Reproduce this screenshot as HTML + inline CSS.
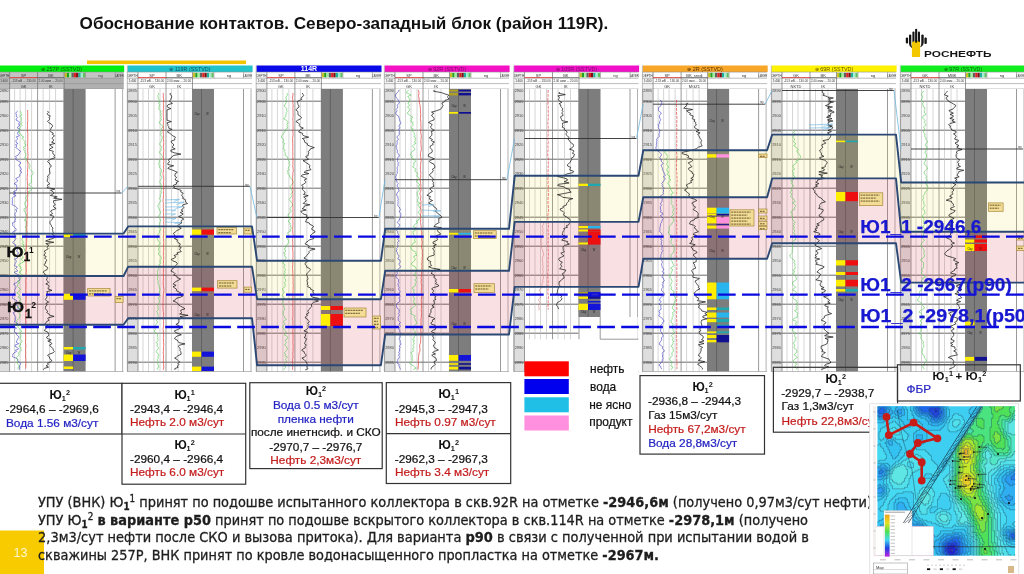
<!DOCTYPE html>
<html><head><meta charset="utf-8"><title>Обоснование контактов</title>
<style>
html,body{margin:0;padding:0;background:#fff;}
body{width:1024px;height:574px;position:relative;overflow:hidden;font-family:"Liberation Sans",sans-serif;}
.abs{position:absolute;}
svg text{font-family:"Liberation Sans",sans-serif;}
</style></head><body>
<svg class="abs" style="left:0;top:0" width="1024" height="574" viewBox="0 0 1024 574">
<text x="79.6" y="28.6" font-size="17.16" font-weight="bold" fill="#111">Обоснование контактов. Северо-западный блок (район 119R).</text>
<rect x="87" y="60.5" width="159" height="3.6" fill="#f5c400"/>
<rect x="-0.8" y="65.5" width="125" height="6.6" fill="#00ee10" />
<text x="61.6" y="71.1" font-size="5.4" fill="#106010" text-anchor="middle" font-weight="normal">&#8853; 257P (SSTVD)</text>
<rect x="-1.4" y="72.1" width="125" height="17" fill="#c4c4c4" />
<rect x="64.1" y="78.3" width="59.5" height="10.7" fill="#b0b0b0" />
<rect x="-1.4" y="72.1" width="11" height="17" fill="#bdbdbd" />
<rect x="115.1" y="72.1" width="8.5" height="6" fill="#bdbdbd" />
<rect x="64.6" y="72.8" width="2.3" height="4.6" fill="#c8c020" />
<rect x="66.9" y="72.8" width="2.3" height="4.6" fill="#20a020" />
<rect x="69.2" y="72.8" width="2.3" height="4.6" fill="#a0f0a0" />
<rect x="71.5" y="72.8" width="2.3" height="4.6" fill="#606060" />
<rect x="73.8" y="72.8" width="2.3" height="4.6" fill="#e02020" />
<rect x="76.1" y="72.8" width="2.3" height="4.6" fill="#801010" />
<rect x="78.4" y="72.8" width="2.3" height="4.6" fill="#20b0a0" />
<rect x="80.7" y="72.8" width="2.3" height="4.6" fill="#a0f0d0" />
<rect x="83" y="72.8" width="2.3" height="4.6" fill="#60c060" />
<line x1="-1.4" y1="72.1" x2="123.6" y2="72.1" stroke="#909090" stroke-width="0.6" />
<line x1="-1.4" y1="78.2" x2="123.6" y2="78.2" stroke="#909090" stroke-width="0.6" />
<line x1="-1.4" y1="83.6" x2="123.6" y2="83.6" stroke="#909090" stroke-width="0.6" />
<line x1="-1.4" y1="89" x2="123.6" y2="89" stroke="#909090" stroke-width="0.6" />
<line x1="9.6" y1="72.1" x2="9.6" y2="89" stroke="#707070" stroke-width="0.7" />
<line x1="37.6" y1="72.1" x2="37.6" y2="89" stroke="#707070" stroke-width="0.7" />
<line x1="64.1" y1="72.1" x2="64.1" y2="89" stroke="#707070" stroke-width="0.7" />
<line x1="85.6" y1="72.1" x2="85.6" y2="78.2" stroke="#909090" stroke-width="0.6" />
<line x1="115.1" y1="72.1" x2="115.1" y2="78.2" stroke="#909090" stroke-width="0.6" />
<line x1="9.6" y1="77.6" x2="37.6" y2="77.6" stroke="#e04040" stroke-width="0.9" />
<line x1="37.6" y1="77.6" x2="64.1" y2="77.6" stroke="#404040" stroke-width="0.6" />
<text x="23.6" y="76.6" font-size="4" fill="#333" text-anchor="middle">SP</text>
<text x="50.9" y="76.6" font-size="4" fill="#333" text-anchor="middle">BK</text>
<text x="23.6" y="87.6" font-size="4" fill="#333" text-anchor="middle">GK</text>
<text x="50.9" y="87.6" font-size="4" fill="#333" text-anchor="middle">IK</text>
<text x="4.1" y="76.6" font-size="3" fill="#333" text-anchor="middle">DEPTH</text>
<text x="4.1" y="82.4" font-size="3" fill="#333" text-anchor="middle">1:400</text>
<text x="23.6" y="82.4" font-size="3" fill="#333" text-anchor="middle">-153 мВ ... 130.00</text>
<text x="50.6" y="82.4" font-size="3" fill="#333" text-anchor="middle">2.00 омм ... 20.00</text>
<text x="100.6" y="76.6" font-size="4" fill="#333" text-anchor="middle">ng</text>
<text x="119.4" y="76.6" font-size="2.8" fill="#333" text-anchor="middle">LAYER</text>
<rect x="-1.4" y="89" width="125" height="282.5" fill="#ffffff" />
<rect x="-1.4" y="89" width="11" height="282.5" fill="#dedede" />
<line x1="-0.8" y1="89" x2="-0.8" y2="371.5" stroke="#909090" stroke-width="0.8" />
<text x="4.1" y="92.4" font-size="3.9" fill="#444" text-anchor="middle">2890</text>
<text x="4.1" y="102.6" font-size="3.9" fill="#444" text-anchor="middle">2895</text>
<text x="4.1" y="117.1" font-size="3.9" fill="#444" text-anchor="middle">2900</text>
<text x="4.1" y="131.6" font-size="3.9" fill="#444" text-anchor="middle">2905</text>
<text x="4.1" y="146.1" font-size="3.9" fill="#444" text-anchor="middle">2910</text>
<text x="4.1" y="160.6" font-size="3.9" fill="#444" text-anchor="middle">2915</text>
<text x="4.1" y="175.1" font-size="3.9" fill="#444" text-anchor="middle">2920</text>
<text x="4.1" y="189.6" font-size="3.9" fill="#444" text-anchor="middle">2925</text>
<text x="4.1" y="204.1" font-size="3.9" fill="#444" text-anchor="middle">2930</text>
<text x="4.1" y="218.6" font-size="3.9" fill="#444" text-anchor="middle">2935</text>
<text x="4.1" y="233.1" font-size="3.9" fill="#444" text-anchor="middle">2940</text>
<text x="4.1" y="247.6" font-size="3.9" fill="#444" text-anchor="middle">2945</text>
<text x="4.1" y="262.1" font-size="3.9" fill="#444" text-anchor="middle">2950</text>
<text x="4.1" y="276.6" font-size="3.9" fill="#444" text-anchor="middle">2955</text>
<text x="4.1" y="291.1" font-size="3.9" fill="#444" text-anchor="middle">2960</text>
<text x="4.1" y="305.6" font-size="3.9" fill="#444" text-anchor="middle">2965</text>
<text x="4.1" y="320.1" font-size="3.9" fill="#444" text-anchor="middle">2970</text>
<text x="4.1" y="334.6" font-size="3.9" fill="#444" text-anchor="middle">2975</text>
<text x="4.1" y="349.1" font-size="3.9" fill="#444" text-anchor="middle">2980</text>
<text x="4.1" y="363.6" font-size="3.9" fill="#444" text-anchor="middle">2985</text>
<line x1="-0.9" y1="101.2" x2="63.6" y2="101.2" stroke="#5a5a5a" stroke-width="0.9" />
<line x1="-0.9" y1="130.2" x2="63.6" y2="130.2" stroke="#5a5a5a" stroke-width="0.9" />
<line x1="-0.9" y1="159.2" x2="63.6" y2="159.2" stroke="#5a5a5a" stroke-width="0.9" />
<line x1="-0.9" y1="188.2" x2="63.6" y2="188.2" stroke="#5a5a5a" stroke-width="0.9" />
<line x1="-0.9" y1="217.2" x2="63.6" y2="217.2" stroke="#5a5a5a" stroke-width="0.9" />
<line x1="-0.9" y1="246.2" x2="63.6" y2="246.2" stroke="#5a5a5a" stroke-width="0.9" />
<line x1="-0.9" y1="275.2" x2="63.6" y2="275.2" stroke="#5a5a5a" stroke-width="0.9" />
<line x1="-0.9" y1="304.2" x2="63.6" y2="304.2" stroke="#5a5a5a" stroke-width="0.9" />
<line x1="-0.9" y1="333.2" x2="63.6" y2="333.2" stroke="#5a5a5a" stroke-width="0.9" />
<line x1="-0.9" y1="362.2" x2="63.6" y2="362.2" stroke="#5a5a5a" stroke-width="0.9" />
<line x1="14.6" y1="89" x2="14.6" y2="371.5" stroke="#b8b8b8" stroke-width="0.6" />
<line x1="20.1" y1="89" x2="20.1" y2="371.5" stroke="#b8b8b8" stroke-width="0.6" />
<line x1="25.6" y1="89" x2="25.6" y2="371.5" stroke="#b8b8b8" stroke-width="0.6" />
<line x1="31.6" y1="89" x2="31.6" y2="371.5" stroke="#b8b8b8" stroke-width="0.6" />
<line x1="43.1" y1="89" x2="43.1" y2="371.5" stroke="#b8b8b8" stroke-width="0.6" />
<line x1="49.6" y1="89" x2="49.6" y2="371.5" stroke="#b8b8b8" stroke-width="0.6" />
<line x1="55.6" y1="89" x2="55.6" y2="371.5" stroke="#b8b8b8" stroke-width="0.6" />
<line x1="9.6" y1="89" x2="9.6" y2="371.5" stroke="#808080" stroke-width="0.8" />
<line x1="37.6" y1="89" x2="37.6" y2="371.5" stroke="#808080" stroke-width="0.8" />
<line x1="64.1" y1="89" x2="64.1" y2="371.5" stroke="#808080" stroke-width="0.8" />
<line x1="115.1" y1="89" x2="115.1" y2="371.5" stroke="#808080" stroke-width="0.8" />
<line x1="122.6" y1="89" x2="122.6" y2="371.5" stroke="#909090" stroke-width="0.7" />
<line x1="-1.1" y1="65.5" x2="-1.1" y2="371.5" stroke="#9a9a9a" stroke-width="0.6" />
<rect x="63.6" y="89" width="22" height="282.5" fill="#7d7d7d" />
<line x1="73.1" y1="89" x2="73.1" y2="371.5" stroke="#5e5e5e" stroke-width="0.9" />
<line x1="-1.4" y1="371.5" x2="123.6" y2="371.5" stroke="#909090" stroke-width="0.6" />
<rect x="127.6" y="65.5" width="125" height="6.6" fill="#22c4cc" />
<text x="190" y="71.1" font-size="5.4" fill="#105060" text-anchor="middle" font-weight="normal">&#8853; 119R (SSTVD)</text>
<rect x="127" y="72.1" width="125" height="17" fill="#ffffff" />
<rect x="127" y="72.1" width="11" height="17" fill="#f4f4f4" />
<rect x="243.5" y="72.1" width="8.5" height="6" fill="#f4f4f4" />
<rect x="193" y="72.8" width="2.3" height="4.6" fill="#c8c020" />
<rect x="195.3" y="72.8" width="2.3" height="4.6" fill="#20a020" />
<rect x="197.6" y="72.8" width="2.3" height="4.6" fill="#a0f0a0" />
<rect x="199.9" y="72.8" width="2.3" height="4.6" fill="#606060" />
<rect x="202.2" y="72.8" width="2.3" height="4.6" fill="#e02020" />
<rect x="204.5" y="72.8" width="2.3" height="4.6" fill="#801010" />
<rect x="206.8" y="72.8" width="2.3" height="4.6" fill="#20b0a0" />
<rect x="209.1" y="72.8" width="2.3" height="4.6" fill="#a0f0d0" />
<rect x="211.4" y="72.8" width="2.3" height="4.6" fill="#60c060" />
<line x1="127" y1="72.1" x2="252" y2="72.1" stroke="#909090" stroke-width="0.6" />
<line x1="127" y1="78.2" x2="252" y2="78.2" stroke="#909090" stroke-width="0.6" />
<line x1="127" y1="83.6" x2="252" y2="83.6" stroke="#909090" stroke-width="0.6" />
<line x1="127" y1="89" x2="252" y2="89" stroke="#909090" stroke-width="0.6" />
<line x1="138" y1="72.1" x2="138" y2="89" stroke="#707070" stroke-width="0.7" />
<line x1="166" y1="72.1" x2="166" y2="89" stroke="#707070" stroke-width="0.7" />
<line x1="192.5" y1="72.1" x2="192.5" y2="89" stroke="#707070" stroke-width="0.7" />
<line x1="214" y1="72.1" x2="214" y2="78.2" stroke="#909090" stroke-width="0.6" />
<line x1="243.5" y1="72.1" x2="243.5" y2="78.2" stroke="#909090" stroke-width="0.6" />
<line x1="138" y1="77.6" x2="166" y2="77.6" stroke="#e04040" stroke-width="0.9" />
<line x1="166" y1="77.6" x2="192.5" y2="77.6" stroke="#404040" stroke-width="0.6" />
<text x="152" y="76.6" font-size="4" fill="#333" text-anchor="middle">SP</text>
<text x="179.2" y="76.6" font-size="4" fill="#333" text-anchor="middle">BK</text>
<text x="152" y="87.6" font-size="4" fill="#333" text-anchor="middle">GK</text>
<text x="179.2" y="87.6" font-size="4" fill="#333" text-anchor="middle">IK</text>
<text x="132.5" y="76.6" font-size="3" fill="#333" text-anchor="middle">DEPTH</text>
<text x="132.5" y="82.4" font-size="3" fill="#333" text-anchor="middle">1:400</text>
<text x="152" y="82.4" font-size="3" fill="#333" text-anchor="middle">-153 мВ ... 130.00</text>
<text x="179" y="82.4" font-size="3" fill="#333" text-anchor="middle">2.00 омм ... 20.00</text>
<text x="229" y="76.6" font-size="4" fill="#333" text-anchor="middle">ng</text>
<text x="247.8" y="76.6" font-size="2.8" fill="#333" text-anchor="middle">LAYER</text>
<rect x="127" y="89" width="125" height="282.5" fill="#ffffff" />
<rect x="127" y="89" width="11" height="282.5" fill="#dedede" />
<line x1="127.6" y1="89" x2="127.6" y2="371.5" stroke="#909090" stroke-width="0.8" />
<text x="132.5" y="92.4" font-size="3.9" fill="#444" text-anchor="middle">2895</text>
<text x="132.5" y="102.6" font-size="3.9" fill="#444" text-anchor="middle">2900</text>
<text x="132.5" y="117.1" font-size="3.9" fill="#444" text-anchor="middle">2905</text>
<text x="132.5" y="131.6" font-size="3.9" fill="#444" text-anchor="middle">2910</text>
<text x="132.5" y="146.1" font-size="3.9" fill="#444" text-anchor="middle">2915</text>
<text x="132.5" y="160.6" font-size="3.9" fill="#444" text-anchor="middle">2920</text>
<text x="132.5" y="175.1" font-size="3.9" fill="#444" text-anchor="middle">2925</text>
<text x="132.5" y="189.6" font-size="3.9" fill="#444" text-anchor="middle">2930</text>
<text x="132.5" y="204.1" font-size="3.9" fill="#444" text-anchor="middle">2935</text>
<text x="132.5" y="218.6" font-size="3.9" fill="#444" text-anchor="middle">2940</text>
<text x="132.5" y="233.1" font-size="3.9" fill="#444" text-anchor="middle">2945</text>
<text x="132.5" y="247.6" font-size="3.9" fill="#444" text-anchor="middle">2950</text>
<text x="132.5" y="262.1" font-size="3.9" fill="#444" text-anchor="middle">2955</text>
<text x="132.5" y="276.6" font-size="3.9" fill="#444" text-anchor="middle">2960</text>
<text x="132.5" y="291.1" font-size="3.9" fill="#444" text-anchor="middle">2965</text>
<text x="132.5" y="305.6" font-size="3.9" fill="#444" text-anchor="middle">2970</text>
<text x="132.5" y="320.1" font-size="3.9" fill="#444" text-anchor="middle">2975</text>
<text x="132.5" y="334.6" font-size="3.9" fill="#444" text-anchor="middle">2980</text>
<text x="132.5" y="349.1" font-size="3.9" fill="#444" text-anchor="middle">2985</text>
<text x="132.5" y="363.6" font-size="3.9" fill="#444" text-anchor="middle">2990</text>
<line x1="127.5" y1="101.2" x2="192" y2="101.2" stroke="#5a5a5a" stroke-width="0.9" />
<line x1="127.5" y1="130.2" x2="192" y2="130.2" stroke="#5a5a5a" stroke-width="0.9" />
<line x1="127.5" y1="159.2" x2="192" y2="159.2" stroke="#5a5a5a" stroke-width="0.9" />
<line x1="127.5" y1="188.2" x2="192" y2="188.2" stroke="#5a5a5a" stroke-width="0.9" />
<line x1="127.5" y1="217.2" x2="192" y2="217.2" stroke="#5a5a5a" stroke-width="0.9" />
<line x1="127.5" y1="246.2" x2="192" y2="246.2" stroke="#5a5a5a" stroke-width="0.9" />
<line x1="127.5" y1="275.2" x2="192" y2="275.2" stroke="#5a5a5a" stroke-width="0.9" />
<line x1="127.5" y1="304.2" x2="192" y2="304.2" stroke="#5a5a5a" stroke-width="0.9" />
<line x1="127.5" y1="333.2" x2="192" y2="333.2" stroke="#5a5a5a" stroke-width="0.9" />
<line x1="127.5" y1="362.2" x2="192" y2="362.2" stroke="#5a5a5a" stroke-width="0.9" />
<line x1="143" y1="89" x2="143" y2="371.5" stroke="#b8b8b8" stroke-width="0.6" />
<line x1="148.5" y1="89" x2="148.5" y2="371.5" stroke="#b8b8b8" stroke-width="0.6" />
<line x1="154" y1="89" x2="154" y2="371.5" stroke="#b8b8b8" stroke-width="0.6" />
<line x1="160" y1="89" x2="160" y2="371.5" stroke="#b8b8b8" stroke-width="0.6" />
<line x1="171.5" y1="89" x2="171.5" y2="371.5" stroke="#b8b8b8" stroke-width="0.6" />
<line x1="178" y1="89" x2="178" y2="371.5" stroke="#b8b8b8" stroke-width="0.6" />
<line x1="184" y1="89" x2="184" y2="371.5" stroke="#b8b8b8" stroke-width="0.6" />
<line x1="138" y1="89" x2="138" y2="371.5" stroke="#808080" stroke-width="0.8" />
<line x1="166" y1="89" x2="166" y2="371.5" stroke="#808080" stroke-width="0.8" />
<line x1="192.5" y1="89" x2="192.5" y2="371.5" stroke="#808080" stroke-width="0.8" />
<line x1="243.5" y1="89" x2="243.5" y2="371.5" stroke="#808080" stroke-width="0.8" />
<line x1="251" y1="89" x2="251" y2="371.5" stroke="#909090" stroke-width="0.7" />
<line x1="127.3" y1="65.5" x2="127.3" y2="371.5" stroke="#9a9a9a" stroke-width="0.6" />
<rect x="192" y="89" width="22" height="282.5" fill="#7d7d7d" />
<line x1="201.5" y1="89" x2="201.5" y2="371.5" stroke="#5e5e5e" stroke-width="0.9" />
<line x1="127" y1="371.5" x2="252" y2="371.5" stroke="#909090" stroke-width="0.6" />
<rect x="256.5" y="65.5" width="125" height="6.6" fill="#0808e8" />
<text x="309" y="71.4" font-size="7.0" fill="#ffffff" text-anchor="middle" font-weight="bold">114R</text>
<rect x="255.9" y="72.1" width="125" height="17" fill="#ffffff" />
<rect x="255.9" y="72.1" width="11" height="17" fill="#f4f4f4" />
<rect x="372.4" y="72.1" width="8.5" height="6" fill="#f4f4f4" />
<rect x="321.9" y="72.8" width="2.3" height="4.6" fill="#c8c020" />
<rect x="324.2" y="72.8" width="2.3" height="4.6" fill="#20a020" />
<rect x="326.5" y="72.8" width="2.3" height="4.6" fill="#a0f0a0" />
<rect x="328.8" y="72.8" width="2.3" height="4.6" fill="#606060" />
<rect x="331.1" y="72.8" width="2.3" height="4.6" fill="#e02020" />
<rect x="333.4" y="72.8" width="2.3" height="4.6" fill="#801010" />
<rect x="335.7" y="72.8" width="2.3" height="4.6" fill="#20b0a0" />
<rect x="338" y="72.8" width="2.3" height="4.6" fill="#a0f0d0" />
<rect x="340.3" y="72.8" width="2.3" height="4.6" fill="#60c060" />
<line x1="255.9" y1="72.1" x2="380.9" y2="72.1" stroke="#909090" stroke-width="0.6" />
<line x1="255.9" y1="78.2" x2="380.9" y2="78.2" stroke="#909090" stroke-width="0.6" />
<line x1="255.9" y1="83.6" x2="380.9" y2="83.6" stroke="#909090" stroke-width="0.6" />
<line x1="255.9" y1="89" x2="380.9" y2="89" stroke="#909090" stroke-width="0.6" />
<line x1="266.9" y1="72.1" x2="266.9" y2="89" stroke="#707070" stroke-width="0.7" />
<line x1="294.9" y1="72.1" x2="294.9" y2="89" stroke="#707070" stroke-width="0.7" />
<line x1="321.4" y1="72.1" x2="321.4" y2="89" stroke="#707070" stroke-width="0.7" />
<line x1="342.9" y1="72.1" x2="342.9" y2="78.2" stroke="#909090" stroke-width="0.6" />
<line x1="372.4" y1="72.1" x2="372.4" y2="78.2" stroke="#909090" stroke-width="0.6" />
<line x1="266.9" y1="77.6" x2="294.9" y2="77.6" stroke="#e04040" stroke-width="0.9" />
<line x1="294.9" y1="77.6" x2="321.4" y2="77.6" stroke="#404040" stroke-width="0.6" />
<text x="280.9" y="76.6" font-size="4" fill="#333" text-anchor="middle">SP</text>
<text x="308.1" y="76.6" font-size="4" fill="#333" text-anchor="middle">BK</text>
<text x="280.9" y="87.6" font-size="4" fill="#333" text-anchor="middle">GK</text>
<text x="308.1" y="87.6" font-size="4" fill="#333" text-anchor="middle">IK</text>
<text x="261.4" y="76.6" font-size="3" fill="#333" text-anchor="middle">DEPTH</text>
<text x="261.4" y="82.4" font-size="3" fill="#333" text-anchor="middle">1:400</text>
<text x="280.9" y="82.4" font-size="3" fill="#333" text-anchor="middle">-153 мВ ... 130.00</text>
<text x="307.9" y="82.4" font-size="3" fill="#333" text-anchor="middle">2.00 омм ... 20.00</text>
<text x="357.9" y="76.6" font-size="4" fill="#333" text-anchor="middle">ng</text>
<text x="376.7" y="76.6" font-size="2.8" fill="#333" text-anchor="middle">LAYER</text>
<rect x="255.9" y="89" width="125" height="282.5" fill="#ffffff" />
<rect x="255.9" y="89" width="11" height="282.5" fill="#dedede" />
<line x1="256.5" y1="89" x2="256.5" y2="371.5" stroke="#909090" stroke-width="0.8" />
<text x="261.4" y="92.4" font-size="3.9" fill="#444" text-anchor="middle">2900</text>
<text x="261.4" y="102.6" font-size="3.9" fill="#444" text-anchor="middle">2905</text>
<text x="261.4" y="117.1" font-size="3.9" fill="#444" text-anchor="middle">2910</text>
<text x="261.4" y="131.6" font-size="3.9" fill="#444" text-anchor="middle">2915</text>
<text x="261.4" y="146.1" font-size="3.9" fill="#444" text-anchor="middle">2920</text>
<text x="261.4" y="160.6" font-size="3.9" fill="#444" text-anchor="middle">2925</text>
<text x="261.4" y="175.1" font-size="3.9" fill="#444" text-anchor="middle">2930</text>
<text x="261.4" y="189.6" font-size="3.9" fill="#444" text-anchor="middle">2935</text>
<text x="261.4" y="204.1" font-size="3.9" fill="#444" text-anchor="middle">2940</text>
<text x="261.4" y="218.6" font-size="3.9" fill="#444" text-anchor="middle">2945</text>
<text x="261.4" y="233.1" font-size="3.9" fill="#444" text-anchor="middle">2950</text>
<text x="261.4" y="247.6" font-size="3.9" fill="#444" text-anchor="middle">2955</text>
<text x="261.4" y="262.1" font-size="3.9" fill="#444" text-anchor="middle">2960</text>
<text x="261.4" y="276.6" font-size="3.9" fill="#444" text-anchor="middle">2965</text>
<text x="261.4" y="291.1" font-size="3.9" fill="#444" text-anchor="middle">2970</text>
<text x="261.4" y="305.6" font-size="3.9" fill="#444" text-anchor="middle">2975</text>
<text x="261.4" y="320.1" font-size="3.9" fill="#444" text-anchor="middle">2980</text>
<text x="261.4" y="334.6" font-size="3.9" fill="#444" text-anchor="middle">2985</text>
<text x="261.4" y="349.1" font-size="3.9" fill="#444" text-anchor="middle">2990</text>
<text x="261.4" y="363.6" font-size="3.9" fill="#444" text-anchor="middle">2995</text>
<line x1="256.4" y1="101.2" x2="320.9" y2="101.2" stroke="#5a5a5a" stroke-width="0.9" />
<line x1="256.4" y1="130.2" x2="320.9" y2="130.2" stroke="#5a5a5a" stroke-width="0.9" />
<line x1="256.4" y1="159.2" x2="320.9" y2="159.2" stroke="#5a5a5a" stroke-width="0.9" />
<line x1="256.4" y1="188.2" x2="320.9" y2="188.2" stroke="#5a5a5a" stroke-width="0.9" />
<line x1="256.4" y1="217.2" x2="320.9" y2="217.2" stroke="#5a5a5a" stroke-width="0.9" />
<line x1="256.4" y1="246.2" x2="320.9" y2="246.2" stroke="#5a5a5a" stroke-width="0.9" />
<line x1="256.4" y1="275.2" x2="320.9" y2="275.2" stroke="#5a5a5a" stroke-width="0.9" />
<line x1="256.4" y1="304.2" x2="320.9" y2="304.2" stroke="#5a5a5a" stroke-width="0.9" />
<line x1="256.4" y1="333.2" x2="320.9" y2="333.2" stroke="#5a5a5a" stroke-width="0.9" />
<line x1="256.4" y1="362.2" x2="320.9" y2="362.2" stroke="#5a5a5a" stroke-width="0.9" />
<line x1="271.9" y1="89" x2="271.9" y2="371.5" stroke="#b8b8b8" stroke-width="0.6" />
<line x1="277.4" y1="89" x2="277.4" y2="371.5" stroke="#b8b8b8" stroke-width="0.6" />
<line x1="282.9" y1="89" x2="282.9" y2="371.5" stroke="#b8b8b8" stroke-width="0.6" />
<line x1="288.9" y1="89" x2="288.9" y2="371.5" stroke="#b8b8b8" stroke-width="0.6" />
<line x1="300.4" y1="89" x2="300.4" y2="371.5" stroke="#b8b8b8" stroke-width="0.6" />
<line x1="306.9" y1="89" x2="306.9" y2="371.5" stroke="#b8b8b8" stroke-width="0.6" />
<line x1="312.9" y1="89" x2="312.9" y2="371.5" stroke="#b8b8b8" stroke-width="0.6" />
<line x1="266.9" y1="89" x2="266.9" y2="371.5" stroke="#808080" stroke-width="0.8" />
<line x1="294.9" y1="89" x2="294.9" y2="371.5" stroke="#808080" stroke-width="0.8" />
<line x1="321.4" y1="89" x2="321.4" y2="371.5" stroke="#808080" stroke-width="0.8" />
<line x1="372.4" y1="89" x2="372.4" y2="371.5" stroke="#808080" stroke-width="0.8" />
<line x1="379.9" y1="89" x2="379.9" y2="371.5" stroke="#909090" stroke-width="0.7" />
<line x1="256.2" y1="65.5" x2="256.2" y2="371.5" stroke="#9a9a9a" stroke-width="0.6" />
<rect x="320.9" y="89" width="22" height="282.5" fill="#7d7d7d" />
<line x1="330.4" y1="89" x2="330.4" y2="371.5" stroke="#5e5e5e" stroke-width="0.9" />
<line x1="255.9" y1="371.5" x2="380.9" y2="371.5" stroke="#909090" stroke-width="0.6" />
<rect x="384.6" y="65.5" width="125" height="6.6" fill="#f412c4" />
<text x="447" y="71.1" font-size="5.4" fill="#701060" text-anchor="middle" font-weight="normal">&#8853; 92R (SSTVD)</text>
<rect x="384" y="72.1" width="125" height="17" fill="#ffffff" />
<rect x="384" y="72.1" width="11" height="17" fill="#f4f4f4" />
<rect x="500.5" y="72.1" width="8.5" height="6" fill="#f4f4f4" />
<rect x="450" y="72.8" width="2.3" height="4.6" fill="#c8c020" />
<rect x="452.3" y="72.8" width="2.3" height="4.6" fill="#20a020" />
<rect x="454.6" y="72.8" width="2.3" height="4.6" fill="#a0f0a0" />
<rect x="456.9" y="72.8" width="2.3" height="4.6" fill="#606060" />
<rect x="459.2" y="72.8" width="2.3" height="4.6" fill="#e02020" />
<rect x="461.5" y="72.8" width="2.3" height="4.6" fill="#801010" />
<rect x="463.8" y="72.8" width="2.3" height="4.6" fill="#20b0a0" />
<rect x="466.1" y="72.8" width="2.3" height="4.6" fill="#a0f0d0" />
<rect x="468.4" y="72.8" width="2.3" height="4.6" fill="#60c060" />
<line x1="384" y1="72.1" x2="509" y2="72.1" stroke="#909090" stroke-width="0.6" />
<line x1="384" y1="78.2" x2="509" y2="78.2" stroke="#909090" stroke-width="0.6" />
<line x1="384" y1="83.6" x2="509" y2="83.6" stroke="#909090" stroke-width="0.6" />
<line x1="384" y1="89" x2="509" y2="89" stroke="#909090" stroke-width="0.6" />
<line x1="395" y1="72.1" x2="395" y2="89" stroke="#707070" stroke-width="0.7" />
<line x1="423" y1="72.1" x2="423" y2="89" stroke="#707070" stroke-width="0.7" />
<line x1="449.5" y1="72.1" x2="449.5" y2="89" stroke="#707070" stroke-width="0.7" />
<line x1="471" y1="72.1" x2="471" y2="78.2" stroke="#909090" stroke-width="0.6" />
<line x1="500.5" y1="72.1" x2="500.5" y2="78.2" stroke="#909090" stroke-width="0.6" />
<line x1="395" y1="77.6" x2="423" y2="77.6" stroke="#e04040" stroke-width="0.9" />
<line x1="423" y1="77.6" x2="449.5" y2="77.6" stroke="#404040" stroke-width="0.6" />
<text x="409" y="76.6" font-size="4" fill="#333" text-anchor="middle">SP</text>
<text x="436.2" y="76.6" font-size="4" fill="#333" text-anchor="middle">BK</text>
<text x="409" y="87.6" font-size="4" fill="#333" text-anchor="middle">GK</text>
<text x="436.2" y="87.6" font-size="4" fill="#333" text-anchor="middle">IK</text>
<text x="389.5" y="76.6" font-size="3" fill="#333" text-anchor="middle">DEPTH</text>
<text x="389.5" y="82.4" font-size="3" fill="#333" text-anchor="middle">1:400</text>
<text x="409" y="82.4" font-size="3" fill="#333" text-anchor="middle">-153 мВ ... 130.00</text>
<text x="436" y="82.4" font-size="3" fill="#333" text-anchor="middle">2.00 омм ... 20.00</text>
<text x="486" y="76.6" font-size="4" fill="#333" text-anchor="middle">ng</text>
<text x="504.8" y="76.6" font-size="2.8" fill="#333" text-anchor="middle">LAYER</text>
<rect x="384" y="89" width="125" height="282.5" fill="#ffffff" />
<rect x="384" y="89" width="11" height="282.5" fill="#dedede" />
<line x1="384.6" y1="89" x2="384.6" y2="371.5" stroke="#909090" stroke-width="0.8" />
<text x="389.5" y="92.4" font-size="3.9" fill="#444" text-anchor="middle">2890</text>
<text x="389.5" y="102.6" font-size="3.9" fill="#444" text-anchor="middle">2895</text>
<text x="389.5" y="117.1" font-size="3.9" fill="#444" text-anchor="middle">2900</text>
<text x="389.5" y="131.6" font-size="3.9" fill="#444" text-anchor="middle">2905</text>
<text x="389.5" y="146.1" font-size="3.9" fill="#444" text-anchor="middle">2910</text>
<text x="389.5" y="160.6" font-size="3.9" fill="#444" text-anchor="middle">2915</text>
<text x="389.5" y="175.1" font-size="3.9" fill="#444" text-anchor="middle">2920</text>
<text x="389.5" y="189.6" font-size="3.9" fill="#444" text-anchor="middle">2925</text>
<text x="389.5" y="204.1" font-size="3.9" fill="#444" text-anchor="middle">2930</text>
<text x="389.5" y="218.6" font-size="3.9" fill="#444" text-anchor="middle">2935</text>
<text x="389.5" y="233.1" font-size="3.9" fill="#444" text-anchor="middle">2940</text>
<text x="389.5" y="247.6" font-size="3.9" fill="#444" text-anchor="middle">2945</text>
<text x="389.5" y="262.1" font-size="3.9" fill="#444" text-anchor="middle">2950</text>
<text x="389.5" y="276.6" font-size="3.9" fill="#444" text-anchor="middle">2955</text>
<text x="389.5" y="291.1" font-size="3.9" fill="#444" text-anchor="middle">2960</text>
<text x="389.5" y="305.6" font-size="3.9" fill="#444" text-anchor="middle">2965</text>
<text x="389.5" y="320.1" font-size="3.9" fill="#444" text-anchor="middle">2970</text>
<text x="389.5" y="334.6" font-size="3.9" fill="#444" text-anchor="middle">2975</text>
<text x="389.5" y="349.1" font-size="3.9" fill="#444" text-anchor="middle">2980</text>
<text x="389.5" y="363.6" font-size="3.9" fill="#444" text-anchor="middle">2985</text>
<line x1="384.5" y1="101.2" x2="449" y2="101.2" stroke="#5a5a5a" stroke-width="0.9" />
<line x1="384.5" y1="130.2" x2="449" y2="130.2" stroke="#5a5a5a" stroke-width="0.9" />
<line x1="384.5" y1="159.2" x2="449" y2="159.2" stroke="#5a5a5a" stroke-width="0.9" />
<line x1="384.5" y1="188.2" x2="449" y2="188.2" stroke="#5a5a5a" stroke-width="0.9" />
<line x1="384.5" y1="217.2" x2="449" y2="217.2" stroke="#5a5a5a" stroke-width="0.9" />
<line x1="384.5" y1="246.2" x2="449" y2="246.2" stroke="#5a5a5a" stroke-width="0.9" />
<line x1="384.5" y1="275.2" x2="449" y2="275.2" stroke="#5a5a5a" stroke-width="0.9" />
<line x1="384.5" y1="304.2" x2="449" y2="304.2" stroke="#5a5a5a" stroke-width="0.9" />
<line x1="384.5" y1="333.2" x2="449" y2="333.2" stroke="#5a5a5a" stroke-width="0.9" />
<line x1="384.5" y1="362.2" x2="449" y2="362.2" stroke="#5a5a5a" stroke-width="0.9" />
<line x1="400" y1="89" x2="400" y2="371.5" stroke="#b8b8b8" stroke-width="0.6" />
<line x1="405.5" y1="89" x2="405.5" y2="371.5" stroke="#b8b8b8" stroke-width="0.6" />
<line x1="411" y1="89" x2="411" y2="371.5" stroke="#b8b8b8" stroke-width="0.6" />
<line x1="417" y1="89" x2="417" y2="371.5" stroke="#b8b8b8" stroke-width="0.6" />
<line x1="428.5" y1="89" x2="428.5" y2="371.5" stroke="#b8b8b8" stroke-width="0.6" />
<line x1="435" y1="89" x2="435" y2="371.5" stroke="#b8b8b8" stroke-width="0.6" />
<line x1="441" y1="89" x2="441" y2="371.5" stroke="#b8b8b8" stroke-width="0.6" />
<line x1="395" y1="89" x2="395" y2="371.5" stroke="#808080" stroke-width="0.8" />
<line x1="423" y1="89" x2="423" y2="371.5" stroke="#808080" stroke-width="0.8" />
<line x1="449.5" y1="89" x2="449.5" y2="371.5" stroke="#808080" stroke-width="0.8" />
<line x1="500.5" y1="89" x2="500.5" y2="371.5" stroke="#808080" stroke-width="0.8" />
<line x1="508" y1="89" x2="508" y2="371.5" stroke="#909090" stroke-width="0.7" />
<line x1="384.3" y1="65.5" x2="384.3" y2="371.5" stroke="#9a9a9a" stroke-width="0.6" />
<rect x="449" y="89" width="22" height="282.5" fill="#7d7d7d" />
<line x1="458.5" y1="89" x2="458.5" y2="371.5" stroke="#5e5e5e" stroke-width="0.9" />
<line x1="384" y1="371.5" x2="509" y2="371.5" stroke="#909090" stroke-width="0.6" />
<rect x="514.1" y="65.5" width="125" height="6.6" fill="#f010c8" />
<text x="576.5" y="71.1" font-size="5.4" fill="#701060" text-anchor="middle" font-weight="normal">&#8853; 105R (SSTVD)</text>
<rect x="513.5" y="72.1" width="125" height="17" fill="#ffffff" />
<rect x="513.5" y="72.1" width="11" height="17" fill="#f4f4f4" />
<rect x="630" y="72.1" width="8.5" height="6" fill="#f4f4f4" />
<rect x="579.5" y="72.8" width="2.3" height="4.6" fill="#c8c020" />
<rect x="581.8" y="72.8" width="2.3" height="4.6" fill="#20a020" />
<rect x="584.1" y="72.8" width="2.3" height="4.6" fill="#a0f0a0" />
<rect x="586.4" y="72.8" width="2.3" height="4.6" fill="#606060" />
<rect x="588.7" y="72.8" width="2.3" height="4.6" fill="#e02020" />
<rect x="591" y="72.8" width="2.3" height="4.6" fill="#801010" />
<rect x="593.3" y="72.8" width="2.3" height="4.6" fill="#20b0a0" />
<rect x="595.6" y="72.8" width="2.3" height="4.6" fill="#a0f0d0" />
<rect x="597.9" y="72.8" width="2.3" height="4.6" fill="#60c060" />
<line x1="513.5" y1="72.1" x2="638.5" y2="72.1" stroke="#909090" stroke-width="0.6" />
<line x1="513.5" y1="78.2" x2="638.5" y2="78.2" stroke="#909090" stroke-width="0.6" />
<line x1="513.5" y1="83.6" x2="638.5" y2="83.6" stroke="#909090" stroke-width="0.6" />
<line x1="513.5" y1="89" x2="638.5" y2="89" stroke="#909090" stroke-width="0.6" />
<line x1="524.5" y1="72.1" x2="524.5" y2="89" stroke="#707070" stroke-width="0.7" />
<line x1="552.5" y1="72.1" x2="552.5" y2="89" stroke="#707070" stroke-width="0.7" />
<line x1="579" y1="72.1" x2="579" y2="89" stroke="#707070" stroke-width="0.7" />
<line x1="600.5" y1="72.1" x2="600.5" y2="78.2" stroke="#909090" stroke-width="0.6" />
<line x1="630" y1="72.1" x2="630" y2="78.2" stroke="#909090" stroke-width="0.6" />
<line x1="524.5" y1="77.6" x2="552.5" y2="77.6" stroke="#e04040" stroke-width="0.9" />
<line x1="552.5" y1="77.6" x2="579" y2="77.6" stroke="#404040" stroke-width="0.6" />
<text x="538.5" y="76.6" font-size="4" fill="#333" text-anchor="middle">SP</text>
<text x="565.8" y="76.6" font-size="4" fill="#333" text-anchor="middle">BK</text>
<text x="538.5" y="87.6" font-size="4" fill="#333" text-anchor="middle">GK</text>
<text x="565.8" y="87.6" font-size="4" fill="#333" text-anchor="middle">IK</text>
<text x="519" y="76.6" font-size="3" fill="#333" text-anchor="middle">DEPTH</text>
<text x="519" y="82.4" font-size="3" fill="#333" text-anchor="middle">1:400</text>
<text x="538.5" y="82.4" font-size="3" fill="#333" text-anchor="middle">-153 мВ ... 130.00</text>
<text x="565.5" y="82.4" font-size="3" fill="#333" text-anchor="middle">2.00 омм ... 20.00</text>
<text x="615.5" y="76.6" font-size="4" fill="#333" text-anchor="middle">ng</text>
<text x="634.3" y="76.6" font-size="2.8" fill="#333" text-anchor="middle">LAYER</text>
<rect x="513.5" y="89" width="125" height="282.5" fill="#ffffff" />
<rect x="513.5" y="89" width="11" height="282.5" fill="#dedede" />
<line x1="514.1" y1="89" x2="514.1" y2="371.5" stroke="#909090" stroke-width="0.8" />
<text x="519" y="92.4" font-size="3.9" fill="#444" text-anchor="middle">2900</text>
<text x="519" y="102.6" font-size="3.9" fill="#444" text-anchor="middle">2905</text>
<text x="519" y="117.1" font-size="3.9" fill="#444" text-anchor="middle">2910</text>
<text x="519" y="131.6" font-size="3.9" fill="#444" text-anchor="middle">2915</text>
<text x="519" y="146.1" font-size="3.9" fill="#444" text-anchor="middle">2920</text>
<text x="519" y="160.6" font-size="3.9" fill="#444" text-anchor="middle">2925</text>
<text x="519" y="175.1" font-size="3.9" fill="#444" text-anchor="middle">2930</text>
<text x="519" y="189.6" font-size="3.9" fill="#444" text-anchor="middle">2935</text>
<text x="519" y="204.1" font-size="3.9" fill="#444" text-anchor="middle">2940</text>
<text x="519" y="218.6" font-size="3.9" fill="#444" text-anchor="middle">2945</text>
<text x="519" y="233.1" font-size="3.9" fill="#444" text-anchor="middle">2950</text>
<text x="519" y="247.6" font-size="3.9" fill="#444" text-anchor="middle">2955</text>
<text x="519" y="262.1" font-size="3.9" fill="#444" text-anchor="middle">2960</text>
<text x="519" y="276.6" font-size="3.9" fill="#444" text-anchor="middle">2965</text>
<text x="519" y="291.1" font-size="3.9" fill="#444" text-anchor="middle">2970</text>
<text x="519" y="305.6" font-size="3.9" fill="#444" text-anchor="middle">2975</text>
<text x="519" y="320.1" font-size="3.9" fill="#444" text-anchor="middle">2980</text>
<text x="519" y="334.6" font-size="3.9" fill="#444" text-anchor="middle">2985</text>
<text x="519" y="349.1" font-size="3.9" fill="#444" text-anchor="middle">2990</text>
<text x="519" y="363.6" font-size="3.9" fill="#444" text-anchor="middle">2995</text>
<line x1="514" y1="101.2" x2="578.5" y2="101.2" stroke="#5a5a5a" stroke-width="0.9" />
<line x1="514" y1="130.2" x2="578.5" y2="130.2" stroke="#5a5a5a" stroke-width="0.9" />
<line x1="514" y1="159.2" x2="578.5" y2="159.2" stroke="#5a5a5a" stroke-width="0.9" />
<line x1="514" y1="188.2" x2="578.5" y2="188.2" stroke="#5a5a5a" stroke-width="0.9" />
<line x1="514" y1="217.2" x2="578.5" y2="217.2" stroke="#5a5a5a" stroke-width="0.9" />
<line x1="514" y1="246.2" x2="578.5" y2="246.2" stroke="#5a5a5a" stroke-width="0.9" />
<line x1="514" y1="275.2" x2="578.5" y2="275.2" stroke="#5a5a5a" stroke-width="0.9" />
<line x1="514" y1="304.2" x2="578.5" y2="304.2" stroke="#5a5a5a" stroke-width="0.9" />
<line x1="514" y1="333.2" x2="578.5" y2="333.2" stroke="#5a5a5a" stroke-width="0.9" />
<line x1="514" y1="362.2" x2="578.5" y2="362.2" stroke="#5a5a5a" stroke-width="0.9" />
<line x1="529.5" y1="89" x2="529.5" y2="371.5" stroke="#b8b8b8" stroke-width="0.6" />
<line x1="535" y1="89" x2="535" y2="371.5" stroke="#b8b8b8" stroke-width="0.6" />
<line x1="540.5" y1="89" x2="540.5" y2="371.5" stroke="#b8b8b8" stroke-width="0.6" />
<line x1="546.5" y1="89" x2="546.5" y2="371.5" stroke="#b8b8b8" stroke-width="0.6" />
<line x1="558" y1="89" x2="558" y2="371.5" stroke="#b8b8b8" stroke-width="0.6" />
<line x1="564.5" y1="89" x2="564.5" y2="371.5" stroke="#b8b8b8" stroke-width="0.6" />
<line x1="570.5" y1="89" x2="570.5" y2="371.5" stroke="#b8b8b8" stroke-width="0.6" />
<line x1="524.5" y1="89" x2="524.5" y2="371.5" stroke="#808080" stroke-width="0.8" />
<line x1="552.5" y1="89" x2="552.5" y2="371.5" stroke="#808080" stroke-width="0.8" />
<line x1="579" y1="89" x2="579" y2="371.5" stroke="#808080" stroke-width="0.8" />
<line x1="630" y1="89" x2="630" y2="371.5" stroke="#808080" stroke-width="0.8" />
<line x1="637.5" y1="89" x2="637.5" y2="371.5" stroke="#909090" stroke-width="0.7" />
<line x1="513.8" y1="65.5" x2="513.8" y2="371.5" stroke="#9a9a9a" stroke-width="0.6" />
<rect x="578.5" y="89" width="22" height="228" fill="#7d7d7d" />
<line x1="588" y1="89" x2="588" y2="317" stroke="#5e5e5e" stroke-width="0.9" />
<line x1="513.5" y1="371.5" x2="638.5" y2="371.5" stroke="#909090" stroke-width="0.6" />
<rect x="642.7" y="65.5" width="125" height="6.6" fill="#f8a628" />
<text x="705.1" y="71.1" font-size="5.4" fill="#503000" text-anchor="middle" font-weight="normal">&#8853; 2R (SSTVD)</text>
<rect x="642.1" y="72.1" width="125" height="17" fill="#ffffff" />
<rect x="642.1" y="72.1" width="11" height="17" fill="#f4f4f4" />
<rect x="758.6" y="72.1" width="8.5" height="6" fill="#f4f4f4" />
<rect x="708.1" y="72.8" width="2.3" height="4.6" fill="#c8c020" />
<rect x="710.4" y="72.8" width="2.3" height="4.6" fill="#20a020" />
<rect x="712.7" y="72.8" width="2.3" height="4.6" fill="#a0f0a0" />
<rect x="715" y="72.8" width="2.3" height="4.6" fill="#606060" />
<rect x="717.3" y="72.8" width="2.3" height="4.6" fill="#e02020" />
<rect x="719.6" y="72.8" width="2.3" height="4.6" fill="#801010" />
<rect x="721.9" y="72.8" width="2.3" height="4.6" fill="#20b0a0" />
<rect x="724.2" y="72.8" width="2.3" height="4.6" fill="#a0f0d0" />
<rect x="726.5" y="72.8" width="2.3" height="4.6" fill="#60c060" />
<line x1="642.1" y1="72.1" x2="767.1" y2="72.1" stroke="#909090" stroke-width="0.6" />
<line x1="642.1" y1="78.2" x2="767.1" y2="78.2" stroke="#909090" stroke-width="0.6" />
<line x1="642.1" y1="83.6" x2="767.1" y2="83.6" stroke="#909090" stroke-width="0.6" />
<line x1="642.1" y1="89" x2="767.1" y2="89" stroke="#909090" stroke-width="0.6" />
<line x1="653.1" y1="72.1" x2="653.1" y2="89" stroke="#707070" stroke-width="0.7" />
<line x1="681.1" y1="72.1" x2="681.1" y2="89" stroke="#707070" stroke-width="0.7" />
<line x1="707.6" y1="72.1" x2="707.6" y2="89" stroke="#707070" stroke-width="0.7" />
<line x1="729.1" y1="72.1" x2="729.1" y2="78.2" stroke="#909090" stroke-width="0.6" />
<line x1="758.6" y1="72.1" x2="758.6" y2="78.2" stroke="#909090" stroke-width="0.6" />
<line x1="653.1" y1="77.6" x2="681.1" y2="77.6" stroke="#e04040" stroke-width="0.9" />
<line x1="681.1" y1="77.6" x2="707.6" y2="77.6" stroke="#404040" stroke-width="0.6" />
<text x="667.1" y="76.6" font-size="4" fill="#333" text-anchor="middle">SP</text>
<text x="694.4" y="76.6" font-size="4" fill="#333" text-anchor="middle">BK_sredi</text>
<text x="667.1" y="87.6" font-size="4" fill="#333" text-anchor="middle">GK</text>
<text x="694.4" y="87.6" font-size="4" fill="#333" text-anchor="middle">MGZ1</text>
<text x="647.6" y="76.6" font-size="3" fill="#333" text-anchor="middle">DEPTH</text>
<text x="647.6" y="82.4" font-size="3" fill="#333" text-anchor="middle">1:400</text>
<text x="667.1" y="82.4" font-size="3" fill="#333" text-anchor="middle">-153 мВ ... 130.00</text>
<text x="694.1" y="82.4" font-size="3" fill="#333" text-anchor="middle">2.00 омм ... 20.00</text>
<text x="744.1" y="76.6" font-size="4" fill="#333" text-anchor="middle">ng</text>
<text x="762.9" y="76.6" font-size="2.8" fill="#333" text-anchor="middle">LAYER</text>
<rect x="642.1" y="89" width="125" height="282.5" fill="#ffffff" />
<rect x="642.1" y="89" width="11" height="282.5" fill="#dedede" />
<line x1="642.7" y1="89" x2="642.7" y2="371.5" stroke="#909090" stroke-width="0.8" />
<text x="647.6" y="92.4" font-size="3.9" fill="#444" text-anchor="middle">2895</text>
<text x="647.6" y="102.6" font-size="3.9" fill="#444" text-anchor="middle">2900</text>
<text x="647.6" y="117.1" font-size="3.9" fill="#444" text-anchor="middle">2905</text>
<text x="647.6" y="131.6" font-size="3.9" fill="#444" text-anchor="middle">2910</text>
<text x="647.6" y="146.1" font-size="3.9" fill="#444" text-anchor="middle">2915</text>
<text x="647.6" y="160.6" font-size="3.9" fill="#444" text-anchor="middle">2920</text>
<text x="647.6" y="175.1" font-size="3.9" fill="#444" text-anchor="middle">2925</text>
<text x="647.6" y="189.6" font-size="3.9" fill="#444" text-anchor="middle">2930</text>
<text x="647.6" y="204.1" font-size="3.9" fill="#444" text-anchor="middle">2935</text>
<text x="647.6" y="218.6" font-size="3.9" fill="#444" text-anchor="middle">2940</text>
<text x="647.6" y="233.1" font-size="3.9" fill="#444" text-anchor="middle">2945</text>
<text x="647.6" y="247.6" font-size="3.9" fill="#444" text-anchor="middle">2950</text>
<text x="647.6" y="262.1" font-size="3.9" fill="#444" text-anchor="middle">2955</text>
<text x="647.6" y="276.6" font-size="3.9" fill="#444" text-anchor="middle">2960</text>
<text x="647.6" y="291.1" font-size="3.9" fill="#444" text-anchor="middle">2965</text>
<text x="647.6" y="305.6" font-size="3.9" fill="#444" text-anchor="middle">2970</text>
<text x="647.6" y="320.1" font-size="3.9" fill="#444" text-anchor="middle">2975</text>
<text x="647.6" y="334.6" font-size="3.9" fill="#444" text-anchor="middle">2980</text>
<text x="647.6" y="349.1" font-size="3.9" fill="#444" text-anchor="middle">2985</text>
<text x="647.6" y="363.6" font-size="3.9" fill="#444" text-anchor="middle">2990</text>
<line x1="642.6" y1="101.2" x2="707.1" y2="101.2" stroke="#5a5a5a" stroke-width="0.9" />
<line x1="642.6" y1="130.2" x2="707.1" y2="130.2" stroke="#5a5a5a" stroke-width="0.9" />
<line x1="642.6" y1="159.2" x2="707.1" y2="159.2" stroke="#5a5a5a" stroke-width="0.9" />
<line x1="642.6" y1="188.2" x2="707.1" y2="188.2" stroke="#5a5a5a" stroke-width="0.9" />
<line x1="642.6" y1="217.2" x2="707.1" y2="217.2" stroke="#5a5a5a" stroke-width="0.9" />
<line x1="642.6" y1="246.2" x2="707.1" y2="246.2" stroke="#5a5a5a" stroke-width="0.9" />
<line x1="642.6" y1="275.2" x2="707.1" y2="275.2" stroke="#5a5a5a" stroke-width="0.9" />
<line x1="642.6" y1="304.2" x2="707.1" y2="304.2" stroke="#5a5a5a" stroke-width="0.9" />
<line x1="642.6" y1="333.2" x2="707.1" y2="333.2" stroke="#5a5a5a" stroke-width="0.9" />
<line x1="642.6" y1="362.2" x2="707.1" y2="362.2" stroke="#5a5a5a" stroke-width="0.9" />
<line x1="658.1" y1="89" x2="658.1" y2="371.5" stroke="#b8b8b8" stroke-width="0.6" />
<line x1="663.6" y1="89" x2="663.6" y2="371.5" stroke="#b8b8b8" stroke-width="0.6" />
<line x1="669.1" y1="89" x2="669.1" y2="371.5" stroke="#b8b8b8" stroke-width="0.6" />
<line x1="675.1" y1="89" x2="675.1" y2="371.5" stroke="#b8b8b8" stroke-width="0.6" />
<line x1="686.6" y1="89" x2="686.6" y2="371.5" stroke="#b8b8b8" stroke-width="0.6" />
<line x1="693.1" y1="89" x2="693.1" y2="371.5" stroke="#b8b8b8" stroke-width="0.6" />
<line x1="699.1" y1="89" x2="699.1" y2="371.5" stroke="#b8b8b8" stroke-width="0.6" />
<line x1="653.1" y1="89" x2="653.1" y2="371.5" stroke="#808080" stroke-width="0.8" />
<line x1="681.1" y1="89" x2="681.1" y2="371.5" stroke="#808080" stroke-width="0.8" />
<line x1="707.6" y1="89" x2="707.6" y2="371.5" stroke="#808080" stroke-width="0.8" />
<line x1="758.6" y1="89" x2="758.6" y2="371.5" stroke="#808080" stroke-width="0.8" />
<line x1="766.1" y1="89" x2="766.1" y2="371.5" stroke="#909090" stroke-width="0.7" />
<line x1="642.4" y1="65.5" x2="642.4" y2="371.5" stroke="#9a9a9a" stroke-width="0.6" />
<rect x="707.1" y="89" width="22" height="282.5" fill="#7d7d7d" />
<line x1="716.6" y1="89" x2="716.6" y2="371.5" stroke="#5e5e5e" stroke-width="0.9" />
<line x1="642.1" y1="371.5" x2="767.1" y2="371.5" stroke="#909090" stroke-width="0.6" />
<rect x="771.6" y="65.5" width="125" height="6.6" fill="#fff200" />
<text x="834" y="71.1" font-size="5.4" fill="#605000" text-anchor="middle" font-weight="normal">&#8853; 69R (SSTVD)</text>
<rect x="771" y="72.1" width="125" height="17" fill="#ffffff" />
<rect x="771" y="72.1" width="11" height="17" fill="#f4f4f4" />
<rect x="887.5" y="72.1" width="8.5" height="6" fill="#f4f4f4" />
<rect x="837" y="72.8" width="2.3" height="4.6" fill="#c8c020" />
<rect x="839.3" y="72.8" width="2.3" height="4.6" fill="#20a020" />
<rect x="841.6" y="72.8" width="2.3" height="4.6" fill="#a0f0a0" />
<rect x="843.9" y="72.8" width="2.3" height="4.6" fill="#606060" />
<rect x="846.2" y="72.8" width="2.3" height="4.6" fill="#e02020" />
<rect x="848.5" y="72.8" width="2.3" height="4.6" fill="#801010" />
<rect x="850.8" y="72.8" width="2.3" height="4.6" fill="#20b0a0" />
<rect x="853.1" y="72.8" width="2.3" height="4.6" fill="#a0f0d0" />
<rect x="855.4" y="72.8" width="2.3" height="4.6" fill="#60c060" />
<line x1="771" y1="72.1" x2="896" y2="72.1" stroke="#909090" stroke-width="0.6" />
<line x1="771" y1="78.2" x2="896" y2="78.2" stroke="#909090" stroke-width="0.6" />
<line x1="771" y1="83.6" x2="896" y2="83.6" stroke="#909090" stroke-width="0.6" />
<line x1="771" y1="89" x2="896" y2="89" stroke="#909090" stroke-width="0.6" />
<line x1="782" y1="72.1" x2="782" y2="89" stroke="#707070" stroke-width="0.7" />
<line x1="810" y1="72.1" x2="810" y2="89" stroke="#707070" stroke-width="0.7" />
<line x1="836.5" y1="72.1" x2="836.5" y2="89" stroke="#707070" stroke-width="0.7" />
<line x1="858" y1="72.1" x2="858" y2="78.2" stroke="#909090" stroke-width="0.6" />
<line x1="887.5" y1="72.1" x2="887.5" y2="78.2" stroke="#909090" stroke-width="0.6" />
<line x1="782" y1="77.6" x2="810" y2="77.6" stroke="#e04040" stroke-width="0.9" />
<line x1="810" y1="77.6" x2="836.5" y2="77.6" stroke="#404040" stroke-width="0.6" />
<text x="796" y="76.6" font-size="4" fill="#333" text-anchor="middle">GK</text>
<text x="823.2" y="76.6" font-size="4" fill="#333" text-anchor="middle">BK</text>
<text x="796" y="87.6" font-size="4" fill="#333" text-anchor="middle">NKTD</text>
<text x="823.2" y="87.6" font-size="4" fill="#333" text-anchor="middle">IK</text>
<text x="776.5" y="76.6" font-size="3" fill="#333" text-anchor="middle">DEPTH</text>
<text x="776.5" y="82.4" font-size="3" fill="#333" text-anchor="middle">1:400</text>
<text x="796" y="82.4" font-size="3" fill="#333" text-anchor="middle">-153 мВ ... 130.00</text>
<text x="823" y="82.4" font-size="3" fill="#333" text-anchor="middle">2.00 омм ... 20.00</text>
<text x="873" y="76.6" font-size="4" fill="#333" text-anchor="middle">ng</text>
<text x="891.8" y="76.6" font-size="2.8" fill="#333" text-anchor="middle">LAYER</text>
<rect x="771" y="89" width="125" height="282.5" fill="#ffffff" />
<rect x="771" y="89" width="11" height="282.5" fill="#dedede" />
<line x1="771.6" y1="89" x2="771.6" y2="371.5" stroke="#909090" stroke-width="0.8" />
<text x="776.5" y="92.4" font-size="3.9" fill="#444" text-anchor="middle">2890</text>
<text x="776.5" y="102.6" font-size="3.9" fill="#444" text-anchor="middle">2895</text>
<text x="776.5" y="117.1" font-size="3.9" fill="#444" text-anchor="middle">2900</text>
<text x="776.5" y="131.6" font-size="3.9" fill="#444" text-anchor="middle">2905</text>
<text x="776.5" y="146.1" font-size="3.9" fill="#444" text-anchor="middle">2910</text>
<text x="776.5" y="160.6" font-size="3.9" fill="#444" text-anchor="middle">2915</text>
<text x="776.5" y="175.1" font-size="3.9" fill="#444" text-anchor="middle">2920</text>
<text x="776.5" y="189.6" font-size="3.9" fill="#444" text-anchor="middle">2925</text>
<text x="776.5" y="204.1" font-size="3.9" fill="#444" text-anchor="middle">2930</text>
<text x="776.5" y="218.6" font-size="3.9" fill="#444" text-anchor="middle">2935</text>
<text x="776.5" y="233.1" font-size="3.9" fill="#444" text-anchor="middle">2940</text>
<text x="776.5" y="247.6" font-size="3.9" fill="#444" text-anchor="middle">2945</text>
<text x="776.5" y="262.1" font-size="3.9" fill="#444" text-anchor="middle">2950</text>
<text x="776.5" y="276.6" font-size="3.9" fill="#444" text-anchor="middle">2955</text>
<text x="776.5" y="291.1" font-size="3.9" fill="#444" text-anchor="middle">2960</text>
<text x="776.5" y="305.6" font-size="3.9" fill="#444" text-anchor="middle">2965</text>
<text x="776.5" y="320.1" font-size="3.9" fill="#444" text-anchor="middle">2970</text>
<text x="776.5" y="334.6" font-size="3.9" fill="#444" text-anchor="middle">2975</text>
<text x="776.5" y="349.1" font-size="3.9" fill="#444" text-anchor="middle">2980</text>
<text x="776.5" y="363.6" font-size="3.9" fill="#444" text-anchor="middle">2985</text>
<line x1="771.5" y1="101.2" x2="836" y2="101.2" stroke="#5a5a5a" stroke-width="0.9" />
<line x1="771.5" y1="130.2" x2="836" y2="130.2" stroke="#5a5a5a" stroke-width="0.9" />
<line x1="771.5" y1="159.2" x2="836" y2="159.2" stroke="#5a5a5a" stroke-width="0.9" />
<line x1="771.5" y1="188.2" x2="836" y2="188.2" stroke="#5a5a5a" stroke-width="0.9" />
<line x1="771.5" y1="217.2" x2="836" y2="217.2" stroke="#5a5a5a" stroke-width="0.9" />
<line x1="771.5" y1="246.2" x2="836" y2="246.2" stroke="#5a5a5a" stroke-width="0.9" />
<line x1="771.5" y1="275.2" x2="836" y2="275.2" stroke="#5a5a5a" stroke-width="0.9" />
<line x1="771.5" y1="304.2" x2="836" y2="304.2" stroke="#5a5a5a" stroke-width="0.9" />
<line x1="771.5" y1="333.2" x2="836" y2="333.2" stroke="#5a5a5a" stroke-width="0.9" />
<line x1="771.5" y1="362.2" x2="836" y2="362.2" stroke="#5a5a5a" stroke-width="0.9" />
<line x1="787" y1="89" x2="787" y2="371.5" stroke="#b8b8b8" stroke-width="0.6" />
<line x1="792.5" y1="89" x2="792.5" y2="371.5" stroke="#b8b8b8" stroke-width="0.6" />
<line x1="798" y1="89" x2="798" y2="371.5" stroke="#b8b8b8" stroke-width="0.6" />
<line x1="804" y1="89" x2="804" y2="371.5" stroke="#b8b8b8" stroke-width="0.6" />
<line x1="815.5" y1="89" x2="815.5" y2="371.5" stroke="#b8b8b8" stroke-width="0.6" />
<line x1="822" y1="89" x2="822" y2="371.5" stroke="#b8b8b8" stroke-width="0.6" />
<line x1="828" y1="89" x2="828" y2="371.5" stroke="#b8b8b8" stroke-width="0.6" />
<line x1="782" y1="89" x2="782" y2="371.5" stroke="#808080" stroke-width="0.8" />
<line x1="810" y1="89" x2="810" y2="371.5" stroke="#808080" stroke-width="0.8" />
<line x1="836.5" y1="89" x2="836.5" y2="371.5" stroke="#808080" stroke-width="0.8" />
<line x1="887.5" y1="89" x2="887.5" y2="371.5" stroke="#808080" stroke-width="0.8" />
<line x1="895" y1="89" x2="895" y2="371.5" stroke="#909090" stroke-width="0.7" />
<line x1="771.3" y1="65.5" x2="771.3" y2="371.5" stroke="#9a9a9a" stroke-width="0.6" />
<rect x="836" y="89" width="22" height="282.5" fill="#7d7d7d" />
<line x1="845.5" y1="89" x2="845.5" y2="371.5" stroke="#5e5e5e" stroke-width="0.9" />
<line x1="771" y1="371.5" x2="896" y2="371.5" stroke="#909090" stroke-width="0.6" />
<rect x="900.6" y="65.5" width="125" height="6.6" fill="#10ee20" />
<text x="963" y="71.1" font-size="5.4" fill="#106010" text-anchor="middle" font-weight="normal">&#8853; 97R (SSTVD)</text>
<rect x="900" y="72.1" width="125" height="17" fill="#ffffff" />
<rect x="900" y="72.1" width="11" height="17" fill="#f4f4f4" />
<rect x="1016.5" y="72.1" width="8.5" height="6" fill="#f4f4f4" />
<rect x="966" y="72.8" width="2.3" height="4.6" fill="#c8c020" />
<rect x="968.3" y="72.8" width="2.3" height="4.6" fill="#20a020" />
<rect x="970.6" y="72.8" width="2.3" height="4.6" fill="#a0f0a0" />
<rect x="972.9" y="72.8" width="2.3" height="4.6" fill="#606060" />
<rect x="975.2" y="72.8" width="2.3" height="4.6" fill="#e02020" />
<rect x="977.5" y="72.8" width="2.3" height="4.6" fill="#801010" />
<rect x="979.8" y="72.8" width="2.3" height="4.6" fill="#20b0a0" />
<rect x="982.1" y="72.8" width="2.3" height="4.6" fill="#a0f0d0" />
<rect x="984.4" y="72.8" width="2.3" height="4.6" fill="#60c060" />
<line x1="900" y1="72.1" x2="1025" y2="72.1" stroke="#909090" stroke-width="0.6" />
<line x1="900" y1="78.2" x2="1025" y2="78.2" stroke="#909090" stroke-width="0.6" />
<line x1="900" y1="83.6" x2="1025" y2="83.6" stroke="#909090" stroke-width="0.6" />
<line x1="900" y1="89" x2="1025" y2="89" stroke="#909090" stroke-width="0.6" />
<line x1="911" y1="72.1" x2="911" y2="89" stroke="#707070" stroke-width="0.7" />
<line x1="939" y1="72.1" x2="939" y2="89" stroke="#707070" stroke-width="0.7" />
<line x1="965.5" y1="72.1" x2="965.5" y2="89" stroke="#707070" stroke-width="0.7" />
<line x1="987" y1="72.1" x2="987" y2="78.2" stroke="#909090" stroke-width="0.6" />
<line x1="1016.5" y1="72.1" x2="1016.5" y2="78.2" stroke="#909090" stroke-width="0.6" />
<line x1="911" y1="77.6" x2="939" y2="77.6" stroke="#e04040" stroke-width="0.9" />
<line x1="939" y1="77.6" x2="965.5" y2="77.6" stroke="#404040" stroke-width="0.6" />
<text x="925" y="76.6" font-size="4" fill="#333" text-anchor="middle">GK</text>
<text x="952.2" y="76.6" font-size="4" fill="#333" text-anchor="middle">MBK</text>
<text x="925" y="87.6" font-size="4" fill="#333" text-anchor="middle">NKTD</text>
<text x="952.2" y="87.6" font-size="4" fill="#333" text-anchor="middle">IK</text>
<text x="905.5" y="76.6" font-size="3" fill="#333" text-anchor="middle">DEPTH</text>
<text x="905.5" y="82.4" font-size="3" fill="#333" text-anchor="middle">1:400</text>
<text x="925" y="82.4" font-size="3" fill="#333" text-anchor="middle">-153 мВ ... 130.00</text>
<text x="952" y="82.4" font-size="3" fill="#333" text-anchor="middle">2.00 омм ... 20.00</text>
<text x="1002" y="76.6" font-size="4" fill="#333" text-anchor="middle">ng</text>
<text x="1020.8" y="76.6" font-size="2.8" fill="#333" text-anchor="middle">LAYER</text>
<rect x="900" y="89" width="125" height="282.5" fill="#ffffff" />
<rect x="900" y="89" width="11" height="282.5" fill="#dedede" />
<line x1="900.6" y1="89" x2="900.6" y2="371.5" stroke="#909090" stroke-width="0.8" />
<text x="905.5" y="92.4" font-size="3.9" fill="#444" text-anchor="middle">2890</text>
<text x="905.5" y="102.6" font-size="3.9" fill="#444" text-anchor="middle">2895</text>
<text x="905.5" y="117.1" font-size="3.9" fill="#444" text-anchor="middle">2900</text>
<text x="905.5" y="131.6" font-size="3.9" fill="#444" text-anchor="middle">2905</text>
<text x="905.5" y="146.1" font-size="3.9" fill="#444" text-anchor="middle">2910</text>
<text x="905.5" y="160.6" font-size="3.9" fill="#444" text-anchor="middle">2915</text>
<text x="905.5" y="175.1" font-size="3.9" fill="#444" text-anchor="middle">2920</text>
<text x="905.5" y="189.6" font-size="3.9" fill="#444" text-anchor="middle">2925</text>
<text x="905.5" y="204.1" font-size="3.9" fill="#444" text-anchor="middle">2930</text>
<text x="905.5" y="218.6" font-size="3.9" fill="#444" text-anchor="middle">2935</text>
<text x="905.5" y="233.1" font-size="3.9" fill="#444" text-anchor="middle">2940</text>
<text x="905.5" y="247.6" font-size="3.9" fill="#444" text-anchor="middle">2945</text>
<text x="905.5" y="262.1" font-size="3.9" fill="#444" text-anchor="middle">2950</text>
<text x="905.5" y="276.6" font-size="3.9" fill="#444" text-anchor="middle">2955</text>
<text x="905.5" y="291.1" font-size="3.9" fill="#444" text-anchor="middle">2960</text>
<text x="905.5" y="305.6" font-size="3.9" fill="#444" text-anchor="middle">2965</text>
<text x="905.5" y="320.1" font-size="3.9" fill="#444" text-anchor="middle">2970</text>
<text x="905.5" y="334.6" font-size="3.9" fill="#444" text-anchor="middle">2975</text>
<text x="905.5" y="349.1" font-size="3.9" fill="#444" text-anchor="middle">2980</text>
<text x="905.5" y="363.6" font-size="3.9" fill="#444" text-anchor="middle">2985</text>
<line x1="900.5" y1="101.2" x2="965" y2="101.2" stroke="#5a5a5a" stroke-width="0.9" />
<line x1="900.5" y1="130.2" x2="965" y2="130.2" stroke="#5a5a5a" stroke-width="0.9" />
<line x1="900.5" y1="159.2" x2="965" y2="159.2" stroke="#5a5a5a" stroke-width="0.9" />
<line x1="900.5" y1="188.2" x2="965" y2="188.2" stroke="#5a5a5a" stroke-width="0.9" />
<line x1="900.5" y1="217.2" x2="965" y2="217.2" stroke="#5a5a5a" stroke-width="0.9" />
<line x1="900.5" y1="246.2" x2="965" y2="246.2" stroke="#5a5a5a" stroke-width="0.9" />
<line x1="900.5" y1="275.2" x2="965" y2="275.2" stroke="#5a5a5a" stroke-width="0.9" />
<line x1="900.5" y1="304.2" x2="965" y2="304.2" stroke="#5a5a5a" stroke-width="0.9" />
<line x1="900.5" y1="333.2" x2="965" y2="333.2" stroke="#5a5a5a" stroke-width="0.9" />
<line x1="900.5" y1="362.2" x2="965" y2="362.2" stroke="#5a5a5a" stroke-width="0.9" />
<line x1="916" y1="89" x2="916" y2="371.5" stroke="#b8b8b8" stroke-width="0.6" />
<line x1="921.5" y1="89" x2="921.5" y2="371.5" stroke="#b8b8b8" stroke-width="0.6" />
<line x1="927" y1="89" x2="927" y2="371.5" stroke="#b8b8b8" stroke-width="0.6" />
<line x1="933" y1="89" x2="933" y2="371.5" stroke="#b8b8b8" stroke-width="0.6" />
<line x1="944.5" y1="89" x2="944.5" y2="371.5" stroke="#b8b8b8" stroke-width="0.6" />
<line x1="951" y1="89" x2="951" y2="371.5" stroke="#b8b8b8" stroke-width="0.6" />
<line x1="957" y1="89" x2="957" y2="371.5" stroke="#b8b8b8" stroke-width="0.6" />
<line x1="911" y1="89" x2="911" y2="371.5" stroke="#808080" stroke-width="0.8" />
<line x1="939" y1="89" x2="939" y2="371.5" stroke="#808080" stroke-width="0.8" />
<line x1="965.5" y1="89" x2="965.5" y2="371.5" stroke="#808080" stroke-width="0.8" />
<line x1="1016.5" y1="89" x2="1016.5" y2="371.5" stroke="#808080" stroke-width="0.8" />
<line x1="1024" y1="89" x2="1024" y2="371.5" stroke="#909090" stroke-width="0.7" />
<line x1="900.3" y1="65.5" x2="900.3" y2="371.5" stroke="#9a9a9a" stroke-width="0.6" />
<rect x="965" y="89" width="22" height="282.5" fill="#7d7d7d" />
<line x1="974.5" y1="89" x2="974.5" y2="371.5" stroke="#5e5e5e" stroke-width="0.9" />
<line x1="900" y1="371.5" x2="1025" y2="371.5" stroke="#909090" stroke-width="0.6" />
<polygon points="-3.4,233.6 123.6,233.6 128.2,226.4 252,226.4 257.1,260.8 380.9,260.8 385.2,228.8 509,228.8 514.7,175.8 638.5,175.8 643.3,150.2 767.1,150.2 772.2,134.6 896,134.6 901.2,182.5 1026,182.5 1026,231.7 901.2,231.7 896,178.4 772.2,178.4 767.1,197.3 643.3,197.3 638.5,221.9 514.7,221.9 509,270.8 385.2,270.8 380.9,299.2 257.1,299.2 252,266.7 128.2,266.7 123.6,276 -3.4,276" fill="#eedc26" fill-opacity="0.12"/>
<polygon points="-3.4,276 123.6,276 128.2,266.7 252,266.7 257.1,299.2 380.9,299.2 385.2,270.8 509,270.8 514.7,221.9 638.5,221.9 643.3,197.3 767.1,197.3 772.2,178.4 896,178.4 901.2,231.7 1026,231.7 1026,282.6 901.2,282.6 896,243.3 772.2,243.3 767.1,258.8 643.3,258.8 638.5,286.9 514.7,286.9 509,334.5 385.2,334.5 380.9,365.3 257.1,365.3 252,318.2 128.2,318.2 123.6,324.8 -3.4,324.8" fill="#dc3c50" fill-opacity="0.16"/>
<line x1="9.6" y1="193" x2="121.6" y2="193" stroke="#303030" stroke-width="0.9" />
<text x="116.6" y="192.2" font-size="2.6" fill="#444" >top</text>
<line x1="121.6" y1="193" x2="128" y2="186.3" stroke="#70b8e0" stroke-width="0.8" />
<line x1="138" y1="186.3" x2="250" y2="186.3" stroke="#303030" stroke-width="0.9" />
<text x="245" y="185.5" font-size="2.6" fill="#444" >top</text>
<line x1="250" y1="186.3" x2="256.9" y2="217.5" stroke="#70b8e0" stroke-width="0.8" />
<line x1="266.9" y1="217.5" x2="378.9" y2="217.5" stroke="#303030" stroke-width="0.9" />
<text x="373.9" y="216.7" font-size="2.6" fill="#444" >top</text>
<line x1="378.9" y1="217.5" x2="385" y2="179.7" stroke="#70b8e0" stroke-width="0.8" />
<line x1="395" y1="179.7" x2="507" y2="179.7" stroke="#303030" stroke-width="0.9" />
<text x="502" y="178.9" font-size="2.6" fill="#444" >top</text>
<line x1="507" y1="179.7" x2="514.5" y2="138.5" stroke="#70b8e0" stroke-width="0.8" />
<line x1="524.5" y1="138.5" x2="636.5" y2="138.5" stroke="#303030" stroke-width="0.9" />
<text x="631.5" y="137.7" font-size="2.6" fill="#444" >top</text>
<line x1="636.5" y1="138.5" x2="643.1" y2="104.2" stroke="#70b8e0" stroke-width="0.8" />
<line x1="653.1" y1="104.2" x2="765.1" y2="104.2" stroke="#303030" stroke-width="0.9" />
<text x="760.1" y="103.4" font-size="2.6" fill="#444" >top</text>
<line x1="765.1" y1="104.2" x2="772" y2="90.5" stroke="#70b8e0" stroke-width="0.8" />
<line x1="782" y1="90.5" x2="894" y2="90.5" stroke="#303030" stroke-width="0.9" />
<text x="889" y="89.7" font-size="2.6" fill="#444" >top</text>
<line x1="894" y1="90.5" x2="901" y2="149" stroke="#70b8e0" stroke-width="0.8" />
<line x1="911" y1="149" x2="1023" y2="149" stroke="#303030" stroke-width="0.9" />
<text x="1018" y="148.2" font-size="2.6" fill="#444" >top</text>
<polyline points="17.7,111 16.2,112.3 15.8,113.6 16.5,114.9 16.1,116.2 17.6,117.5 16.3,118.8 16.1,120.1 18.6,121.4 19.9,122.7 18.3,124 20,125.3 18,126.6 17.3,127.9 19.8,129.2 19.5,130.5 18.3,131.8 17.5,133.1 18.1,134.4 19.4,135.7 16.2,137 17.6,138.3 17.1,139.6 15.8,140.9 16.1,142.2 17.9,143.5 15.5,144.8 17,146.1 15.6,147.4 17.4,148.7 18.9,150 20.6,151.3 19.6,152.6 18.9,153.9 18,155.2 15.4,156.5 16.4,157.8 15.4,159.1 17.4,160.4 19.5,161.7 21,163 19.5,164.3 18.9,165.6 20.1,166.9 20.8,168.2 21.5,169.5 19.9,170.8 21.9,172.1 20.8,173.4 19.7,174.7 19.9,176 18.2,177.3 15.7,178.6 17.2,179.9 17.6,181.2 15.8,182.5 14.1,183.8 16.9,185.1 16.6,186.4 17,187.7 16.7,189 16.6,190.3 13.5,191.6 15.8,192.9 13.3,194.2 16.1,195.5 13.6,196.8 12.1,198.1 12.4,199.4 12.3,200.7 12.4,202 12.4,203.3 11.9,204.6 14.9,205.9 16.4,207.2 17.6,208.5 15.4,209.8 17,211.1 15.7,212.4 15,213.7 14.9,215 15.5,216.3 14.4,217.6 15.8,218.9 14.8,220.2 15.4,221.5 12.4,222.8 12.8,224.1 12.6,225.4 13.7,226.7 15.3,228 16.2,229.3 15.9,230.6 13,231.9 12.7,233.2 14,234.5 16.2,235.8 15.2,237.1 15.9,238.4 15.4,239.7 14.2,241 12.7,242.3 13.4,243.6 15.8,244.9 15.2,246.2 15.7,247.5 18,248.8 16.9,250.1 16.7,251.4 18.5,252.7 17.9,254 16.2,255.3 16.4,256.6 17.7,257.9 14.5,259.2 16.2,260.5 16.2,261.8 15.4,263.1 14.9,264.4 14.4,265.7 17.3,267 15.6,268.3 16.5,269.6 17.8,270.9 14.2,272.2 15.7,273.5 18.6,274.8 18.7,276.1 19,277.4 19,278.7 20.1,280 18.2,281.3 16.5,282.6 13.7,283.9 14.6,285.2 16.1,286.5 15.8,287.8 15.2,289.1 14.6,290.4 15.1,291.7 14.8,293 12.5,294.3 12.8,295.6 12.7,296.9 12.2,298.2 14.7,299.5 16.9,300.8 15.4,302.1 16.1,303.4 15.3,304.7 18,306 17.7,307.3 19.5,308.6 15.4,309.9 15.8,311.2 13.1,312.5 13.8,313.8 14.4,315.1 15.4,316.4 15.8,317.7 15.4,319 15.3,320.3 14.5,321.6 17.2,322.9 17.5,324.2 15.7,325.5 14.2,326.8 16.6,328.1 14.3,329.4 14.4,330.7 14.4,332 16.8,333.3 16.5,334.6 18.2,335.9 19,337.2 17.9,338.5 17.4,339.8 16.6,341.1 16.4,342.4 18.7,343.7 15.1,345 15,346.3 17.4,347.6 18.7,348.9 15.4,350.2 16.6,351.5 14.1,352.8 13,354.1 12.7,355.4 12.5,356.7 15.9,358 17.6,359.3 17.6,360.6 18.9,361.9 20.7,363.2 20.5,364.5 19.2,365.8 19.7,367.1 19.5,368.4 19.4,369.7" fill="none" stroke="#3838c0" stroke-width="0.7" stroke-opacity="0.85"/>
<polyline points="19.9,111 21,112.3 21,113.6 22.1,114.9 19.7,116.2 21.4,117.5 21.5,118.8 21.4,120.1 21.1,121.4 22.2,122.7 20.3,124 22.3,125.3 21,126.6 19.3,127.9 20,129.2 19.4,130.5 19.3,131.8 18.9,133.1 21.2,134.4 21.5,135.7 23.9,137 21.8,138.3 23.2,139.6 24.5,140.9 25.4,142.2 24.1,143.5 25.9,144.8 25.5,146.1 23.1,147.4 24.6,148.7 23.5,150 25.1,151.3 24.8,152.6 25.7,153.9 26,155.2 25.5,156.5 24.6,157.8 27.4,159.1 26.5,160.4 27.6,161.7 28.9,163 29.6,164.3 30,165.6 30,166.9 29.1,168.2 30.3,169.5 31.5,170.8 32.8,172.1 33.2,173.4 32.5,174.7 31.1,176 31.3,177.3 31.6,178.6 31.1,179.9 31.5,181.2 31.7,182.5 29.3,183.8 28.7,185.1 31.1,186.4 32.4,187.7 31.4,189 31.2,190.3 28.3,191.6 29.2,192.9 27.8,194.2 27,195.5 26.3,196.8 25.4,198.1 27,199.4 26.5,200.7 24.9,202 25,203.3 24.9,204.6 25.3,205.9 26.6,207.2 24.2,208.5 24,209.8 24,211.1 25.6,212.4 25.6,213.7 27.1,215 26.1,216.3 26,217.6 25.7,218.9 24.1,220.2 27,221.5 26.5,222.8 26.5,224.1 27.3,225.4 25.2,226.7 25.8,228 27.1,229.3 26,230.6 27.3,231.9 27,233.2 25.3,234.5 24,235.8 23.3,237.1 22.2,238.4 22,239.7 22.5,241 23.5,242.3 21.8,243.6 24.2,244.9 22.5,246.2 23.4,247.5 24.2,248.8 24.8,250.1 24.3,251.4 22.9,252.7 20.7,254 22,255.3 22.7,256.6 23,257.9 21.1,259.2 22.2,260.5 23.8,261.8 21.4,263.1 19.1,264.4 18.7,265.7 21,267 20.7,268.3 21.7,269.6 21.2,270.9 19,272.2 20.9,273.5 22.1,274.8 20.9,276.1 21.1,277.4 20.5,278.7 19.3,280 17.4,281.3 19.8,282.6 17.7,283.9 17.7,285.2 17.6,286.5 18.8,287.8 20.5,289.1 19.4,290.4 18.5,291.7 16.7,293 19.2,294.3 19.4,295.6 17.9,296.9 20.4,298.2 20.9,299.5 19.3,300.8 20.9,302.1 21.1,303.4 19.7,304.7 18.5,306 17,307.3 19.4,308.6 20,309.9 21.1,311.2 19.4,312.5 19.2,313.8 20.4,315.1 19.5,316.4 19.9,317.7 18.1,319 16.9,320.3 17.1,321.6 16.3,322.9 16.9,324.2 18.3,325.5 17.6,326.8 18.8,328.1 20,329.4 21.3,330.7 21.4,332 19.3,333.3 20.5,334.6 20.8,335.9 20.8,337.2 19.8,338.5 21.3,339.8 22.2,341.1 21.6,342.4 20,343.7 20.8,345 18.8,346.3 21.1,347.6 20.7,348.9 21.5,350.2 20.2,351.5 18.4,352.8 19.1,354.1 18.7,355.4 17.6,356.7 16.2,358 18,359.3 18,360.6 16.6,361.9 17.3,363.2 18.2,364.5 19.4,365.8 18.3,367.1 18.1,368.4 18.2,369.7" fill="none" stroke="#50c850" stroke-width="0.7" stroke-opacity="0.85"/>
<polyline points="27.8,110 27.5,111.3 27.7,112.6 27.7,113.9 27.7,115.2 27.7,116.5 27.6,117.8 27.7,119.1 27.8,120.4 27.7,121.7 27.5,123 27.5,124.3 27.5,125.6 27.6,126.9 27.5,128.2 27.4,129.5 27.5,130.8 27.6,132.1 27.8,133.4 27.8,134.7 27.8,136 27.7,137.3 27.8,138.6 27.8,139.9 27.7,141.2 27.7,142.5 27.6,143.8 27.6,145.1 27.7,146.4 27.7,147.7 27.8,149 27.6,150.3 27.7,151.6 27.8,152.9 27.9,154.2 28,155.5 27.8,156.8 27.8,158.1 27.6,159.4 27.6,160.7 27.7,162 27.8,163.3 27.9,164.6 27.9,165.9 27.8,167.2 27.6,168.5 27.5,169.8 27.7,171.1 27.5,172.4 27.5,173.7 27.4,175 27.3,176.3 27.3,177.6 27.2,178.9 27.2,180.2 27.5,181.5 27.4,182.8 27.4,184.1 27.7,185.4 27.5,186.7 27.6,188 27.4,189.3 27.3,190.6 27.5,191.9 27.7,193.2 27.8,194.5 27.7,195.8 27.7,197.1 27.5,198.4 27.7,199.7 27.7,201 27.6,202.3 27.7,203.6 27.7,204.9 27.4,206.2 27.2,207.5 27.1,208.8 27,210.1 27.1,211.4 27.3,212.7 27.2,214 27.1,215.3 27.1,216.6 27.2,217.9 27.1,219.2 26.9,220.5 26.9,221.8 27,223.1 26.8,224.4 26.8,225.7 26.8,227 26.7,228.3 26.7,229.6 26.9,230.9 26.8,232.2 26.8,233.5 26.7,234.8 26.6,236.1 26.7,237.4 26.7,238.7 26.7,240 26.8,241.3 26.5,242.6 26.3,243.9 26.5,245.2 26.3,246.5 26.3,247.8 26.2,249.1 26,250.4 26.1,251.7 26,253 25.9,254.3 26,255.6 26.1,256.9 26,258.2 25.8,259.5 26,260.8 26.1,262.1 26.2,263.4 26.2,264.7 26.1,266 26.2,267.3 26.2,268.6 26.3,269.9 26.4,271.2 26.2,272.5 26.1,273.8 26,275.1 26.2,276.4 26.2,277.7 26.1,279 25.9,280.3 25.8,281.6 26,282.9 26.1,284.2 25.9,285.5 26,286.8 26,288.1 25.8,289.4 26,290.7 25.8,292 26,293.3 26.1,294.6 26.1,295.9 26.2,297.2 26.1,298.5 26,299.8 26,301.1 25.8,302.4 25.9,303.7 26,305 26,306.3 26.1,307.6 26.1,308.9 26.1,310.2 25.9,311.5 25.8,312.8 26,314.1 25.8,315.4 25.9,316.7 25.9,318 25.7,319.3 25.8,320.6 26,321.9 25.8,323.2 25.9,324.5 25.9,325.8 25.8,327.1 25.6,328.4 25.7,329.7 25.7,331 25.6,332.3 25.5,333.6 25.6,334.9 25.7,336.2 25.7,337.5 25.7,338.8 25.7,340.1 25.5,341.4 25.5,342.7 25.7,344 25.8,345.3 25.9,346.6 25.7,347.9 25.7,349.2 25.5,350.5 25.7,351.8 25.7,353.1 25.7,354.4 25.6,355.7 25.6,357 25.8,358.3 25.9,359.6 25.8,360.9 25.8,362.2 25.9,363.5 25.8,364.8 25.7,366.1 25.8,367.4 25.6,368.7" fill="none" stroke="#e03030" stroke-width="0.8" stroke-opacity="0.85"/>
<polyline points="47.4,111 48.7,112.3 47.2,113.6 47.9,114.9 50.4,116.2 48.9,117.5 50,118.8 48.7,120.1 47.5,121.4 48.8,122.7 51.2,124 52.3,125.3 52.5,126.6 51,127.9 50.9,129.2 49.6,130.5 50.8,131.8 53.4,133.1 52.3,134.4 54.5,135.7 53.3,137 51.8,138.3 53.5,139.6 53.4,140.9 51.6,142.2 54.9,143.5 49.6,144.8 51.2,146.1 53.1,147.4 50.1,148.7 49.2,150 53.3,151.3 52.7,152.6 53,153.9 54.7,155.2 53.9,156.5 55,157.8 50.8,159.1 48.6,160.4 47.5,161.7 49.3,163 49.7,164.3 51.3,165.6 50.8,166.9 49.4,168.2 49.5,169.5 49.6,170.8 49.8,172.1 50,173.4 49.1,174.7 47.5,176 48,177.3 47.7,178.6 47.3,179.9 47.1,181.2 48.3,182.5 49.7,183.8 47.3,185.1 48.1,186.4 47,187.7 54.9,189 50.5,190.3 53,191.6 54,192.9 52.8,194.2 50.3,195.5 57.2,196.8 53.6,198.1 62,199.4 53.5,200.7 53.6,202 53.9,203.3 55.4,204.6 53.3,205.9 54,207.2 56.1,208.5 52.9,209.8 50.5,211.1 51.6,212.4 52.5,213.7 49.9,215 53.8,216.3 53,217.6 52.5,218.9 51.4,220.2 50.2,221.5 49.8,222.8 50.4,224.1 51.4,225.4 51.6,226.7 53.1,228 52.4,229.3 52.7,230.6 53,231.9 53.4,233.2 52.4,234.5 54.5,235.8 55.2,237.1 53.2,238.4 48.8,239.7 45.6,241 53.8,242.3 45.8,243.6 48.5,244.9 48,246.2 47.2,247.5 48.2,248.8 46,250.1 44,251.4 45.6,252.7 44.8,254 43.8,255.3 46.3,256.6 44.5,257.9 45.7,259.2 47.1,260.5 45.3,261.8 45.8,263.1 44,264.4 44.8,265.7 47.1,267 47.7,268.3 47.1,269.6 44.3,270.9 43.1,272.2 44.7,273.5 45,274.8 47.5,276.1 47.3,277.4 47,278.7 46.3,280 47.8,281.3 48.5,282.6 45.8,283.9 48.4,285.2 49,286.5 48.1,287.8 48.2,289.1 52,290.4 46.6,291.7 47.7,293 46.7,294.3 46.4,295.6 47.1,296.9 46.2,298.2 45.3,299.5 46.5,300.8 48.7,302.1 45.8,303.4 47.3,304.7 45.8,306 45.5,307.3 45.4,308.6 46.2,309.9 47.8,311.2 46.6,312.5 48.8,313.8 49.5,315.1 54.1,316.4 48.4,317.7 47.7,319 49.1,320.3 46.5,321.6 45.9,322.9 44.7,324.2 47.9,325.5 47.8,326.8 46.4,328.1 45,329.4 44.4,330.7 47.7,332 48.4,333.3 48.8,334.6 48.5,335.9 46.5,337.2 47.2,338.5 51.2,339.8 47.8,341.1 51,342.4 51.9,343.7 49.6,345 50.3,346.3 52.2,347.6 53.1,348.9 53.3,350.2 54.4,351.5 53.2,352.8 49.4,354.1 47.5,355.4 49.3,356.7 49.6,358 50.3,359.3 52.1,360.6 50.4,361.9 47.5,363.2 48.4,364.5 46,365.8 48.6,367.1 44.4,368.4 43,369.7" fill="none" stroke="#1a1a1a" stroke-width="0.75" />
<polyline points="158.3,93 158.8,94.3 157.9,95.6 158.1,96.9 158.2,98.2 159,99.5 159.3,100.8 159.9,102.1 158.4,103.4 160,104.7 158.9,106 159.4,107.3 158.6,108.6 159.4,109.9 161.2,111.2 160.1,112.5 161.5,113.8 160.2,115.1 161.5,116.4 160.9,117.7 161.2,119 161.1,120.3 159.5,121.6 159.3,122.9 160.4,124.2 162.2,125.5 163.3,126.8 161.6,128.1 161.7,129.4 161.4,130.7 160.7,132 161.3,133.3 160.1,134.6 161.6,135.9 162.3,137.2 161.9,138.5 161.8,139.8 161.3,141.1 160.6,142.4 159.6,143.7 160,145 161.3,146.3 161.6,147.6 160.8,148.9 161.4,150.2 159.7,151.5 159.5,152.8 161.2,154.1 161.7,155.4 162.8,156.7 161.4,158 160.7,159.3 159.4,160.6 159.3,161.9 158.9,163.2 158.6,164.5 160.1,165.8 159.4,167.1 160.4,168.4 161.3,169.7 161.3,171 161.2,172.3 160.6,173.6 160,174.9 161.5,176.2 162,177.5 161.3,178.8 160.4,180.1 159.9,181.4 159.9,182.7 161.1,184 160.9,185.3 162.1,186.6 160.9,187.9 161.9,189.2 161.3,190.5 160.9,191.8 161.7,193.1 160.4,194.4 160.3,195.7 160.5,197 159.3,198.3 160.1,199.6 160.8,200.9 159.9,202.2 158.9,203.5 158.9,204.8 157.6,206.1 158.4,207.4 159,208.7 159.6,210 160.1,211.3 160.6,212.6 160.3,213.9 159.1,215.2 158.4,216.5 159.5,217.8 160.1,219.1 160.7,220.4 160.1,221.7 159.7,223 159.7,224.3 159.2,225.6 158.7,226.9 159.5,228.2 161.1,229.5 159.2,230.8 159.9,232.1 158.5,233.4 157.8,234.7 158.1,236 157.9,237.3 157.3,238.6 157.7,239.9 158.3,241.2 160,242.5 160.1,243.8 158.4,245.1 158.9,246.4 159.3,247.7 158.4,249 158.7,250.3 159.7,251.6 158.6,252.9 158.6,254.2 159.9,255.5 161,256.8 161.4,258.1 161,259.4 159.9,260.7 160.2,262 160.4,263.3 159.2,264.6 159.1,265.9 158.6,267.2 158,268.5 158.5,269.8 157.4,271.1 157.6,272.4 157.4,273.7 157.3,275 157.7,276.3 157.6,277.6 157.3,278.9 158.1,280.2 158.2,281.5 158,282.8 158.2,284.1 159.2,285.4 159.1,286.7 159.3,288 160.1,289.3 159.6,290.6 159.5,291.9 159.4,293.2 159.3,294.5 160.4,295.8 158.6,297.1 158.4,298.4 159.4,299.7 159.2,301 159.3,302.3 158.2,303.6 157.4,304.9 158.1,306.2 157.9,307.5 158.4,308.8 158.1,310.1 156.7,311.4 157.4,312.7 158,314 157.7,315.3 158.7,316.6 157.5,317.9 157.7,319.2 156.3,320.5 157.9,321.8 156.9,323.1 155.9,324.4 155.3,325.7 155.7,327 155.1,328.3 155.5,329.6 154.3,330.9 154.8,332.2 156.8,333.5 157.7,334.8 157.2,336.1 158,337.4 157.4,338.7 158.5,340 157.1,341.3 156.1,342.6 157.9,343.9 157.1,345.2 157.3,346.5 158.6,347.8 157.9,349.1 156.8,350.4 156.3,351.7 157.1,353 158.8,354.3 158.5,355.6 157.8,356.9 158.4,358.2 157,359.5 157.3,360.8 158.7,362.1 157.4,363.4 158.1,364.7 158.7,366 158.8,367.3 157,368.6 158.3,369.9" fill="none" stroke="#50c850" stroke-width="0.7" stroke-opacity="0.85"/>
<polyline points="163.3,93 163.3,94.3 163.4,95.6 163.2,96.9 163.5,98.2 163.7,99.5 163.6,100.8 163.7,102.1 163.4,103.4 163.6,104.7 163.8,106 163.5,107.3 163.7,108.6 163.5,109.9 163.2,111.2 163.3,112.5 163.3,113.8 163.2,115.1 163.4,116.4 163.5,117.7 163.5,119 163.4,120.3 163.4,121.6 163.4,122.9 163.4,124.2 163.4,125.5 163.3,126.8 163.4,128.1 163.4,129.4 163.3,130.7 163.1,132 163.4,133.3 163.4,134.6 163.6,135.9 163.6,137.2 163.4,138.5 163.6,139.8 163.7,141.1 163.7,142.4 163.7,143.7 163.5,145 163.3,146.3 163.4,147.6 163.6,148.9 163.8,150.2 163.6,151.5 163.5,152.8 163.4,154.1 163.6,155.4 163.4,156.7 163.5,158 163.7,159.3 163.8,160.6 163.9,161.9 163.5,163.2 163.6,164.5 163.7,165.8 163.4,167.1 163.7,168.4 163.5,169.7 163.5,171 163.2,172.3 163.2,173.6 163.1,174.9 163.5,176.2 163.7,177.5 163.8,178.8 163.7,180.1 163.6,181.4 163.4,182.7 163.7,184 163.5,185.3 163.5,186.6 163.8,187.9 163.6,189.2 163.6,190.5 163.4,191.8 163.5,193.1 163.5,194.4 163.5,195.7 163.3,197 163.3,198.3 163.1,199.6 163.1,200.9 163.2,202.2 163.5,203.5 163.3,204.8 163.4,206.1 163.2,207.4 163.5,208.7 163.4,210 163.3,211.3 163.5,212.6 163.5,213.9 163.6,215.2 163.4,216.5 163.6,217.8 163.6,219.1 163.8,220.4 163.7,221.7 163.6,223 163.8,224.3 163.6,225.6 163.7,226.9 163.8,228.2 163.5,229.5 163.6,230.8 163.7,232.1 163.6,233.4 163.6,234.7 163.6,236 163.3,237.3 163.6,238.6 163.6,239.9 163.7,241.2 163.7,242.5 163.7,243.8 163.6,245.1 163.4,246.4 163.6,247.7 163.8,249 163.6,250.3 163.4,251.6 163.7,252.9 163.4,254.2 163.4,255.5 163.7,256.8 163.7,258.1 163.6,259.4 163.4,260.7 163.6,262 163.3,263.3 163.6,264.6 163.4,265.9 163.5,267.2 163.5,268.5 163.3,269.8 163.5,271.1 163.4,272.4 163.3,273.7 163.5,275 163.5,276.3 163.5,277.6 163.5,278.9 163.3,280.2 163.3,281.5 163.3,282.8 163.2,284.1 163.5,285.4 163.5,286.7 163.7,288 163.9,289.3 163.9,290.6 163.7,291.9 163.6,293.2 163.4,294.5 163.3,295.8 163.2,297.1 163.1,298.4 163.2,299.7 163.2,301 163.1,302.3 163,303.6 163,304.9 163,306.2 163,307.5 163,308.8 163.3,310.1 163.2,311.4 163.5,312.7 163.7,314 163.6,315.3 163.4,316.6 163.4,317.9 163.3,319.2 163.5,320.5 163.6,321.8 163.4,323.1 163.5,324.4 163.6,325.7 163.4,327 163.2,328.3 163.1,329.6 163.4,330.9 163.3,332.2 163.5,333.5 163.5,334.8 163.6,336.1 163.3,337.4 163.4,338.7 163.5,340 163.5,341.3 163.5,342.6 163.7,343.9 163.7,345.2 163.6,346.5 163.5,347.8 163.5,349.1 163.4,350.4 163.4,351.7 163.2,353 163.5,354.3 163.5,355.6 163.5,356.9 163.5,358.2 163.4,359.5 163.4,360.8 163.3,362.1 163.5,363.4 163.6,364.7 163.7,366 163.8,367.3 163.5,368.6 163.3,369.9" fill="none" stroke="#e03030" stroke-width="0.8" stroke-opacity="0.85"/>
<polyline points="170.7,93 169.8,94.3 171.6,95.6 171.7,96.9 171.1,98.2 171,99.5 169.5,100.8 170.5,102.1 172.4,103.4 168.1,104.7 167,106 167.7,107.3 170.9,108.6 167,109.9 167,111.2 167,112.5 167,113.8 167,115.1 167,116.4 167,117.7 167.1,119 167.1,120.3 171.4,121.6 167,122.9 168,124.2 167.8,125.5 169,126.8 168.6,128.1 172.1,129.4 168.6,130.7 167.4,132 169.9,133.3 171.4,134.6 172.9,135.9 175.5,137.2 174.6,138.5 174.9,139.8 171.2,141.1 171.3,142.4 172.9,143.7 173.9,145 172.7,146.3 172.5,147.6 175.2,148.9 170.8,150.2 170.9,151.5 174.4,152.8 180.9,154.1 173.9,155.4 171.9,156.7 171,158 168.9,159.3 168.6,160.6 169.7,161.9 167.8,163.2 167.9,164.5 173.6,165.8 169.1,167.1 167.7,168.4 171.5,169.7 174.6,171 177.4,172.3 175.2,173.6 175,174.9 174.9,176.2 176.7,177.5 175.3,178.8 175.4,180.1 178.5,181.4 176,182.7 176.7,184 173.3,185.3 174.5,186.6 173.7,187.9 177.7,189.2 181.3,190.5 180.6,191.8 183.2,193.1 182.2,194.4 181.7,195.7 183.3,197 182.4,198.3 185.4,199.6 185.6,200.9 185.7,202.2 187.6,203.5 182.8,204.8 182.6,206.1 183.8,207.4 183,208.7 181.2,210 183,211.3 180.2,212.6 183.2,213.9 181.7,215.2 178.6,216.5 181.7,217.8 183.8,219.1 181.4,220.4 181.2,221.7 181.8,223 179.1,224.3 177.9,225.6 178.4,226.9 181.3,228.2 179,229.5 176.5,230.8 175.2,232.1 173.4,233.4 174.3,234.7 174.8,236 177.2,237.3 174.4,238.6 177.6,239.9 176.9,241.2 177.9,242.5 180.2,243.8 179.9,245.1 178.7,246.4 181.3,247.7 179.4,249 180.3,250.3 181.3,251.6 176.8,252.9 177.9,254.2 173.9,255.5 175.8,256.8 174.5,258.1 171.2,259.4 172.5,260.7 176,262 177.3,263.3 176.7,264.6 175.3,265.9 175.1,267.2 172.6,268.5 171.9,269.8 170.9,271.1 173.9,272.4 175.2,273.7 173.6,275 177,276.3 177.1,277.6 180.6,278.9 178.6,280.2 175.9,281.5 174.2,282.8 173.2,284.1 176.1,285.4 173,286.7 174.8,288 176.6,289.3 176.2,290.6 178.8,291.9 181.1,293.2 177.7,294.5 183.1,295.8 180.7,297.1 176.2,298.4 175.6,299.7 173.1,301 176.3,302.3 178,303.6 178.6,304.9 180.6,306.2 183.2,307.5 185,308.8 180.9,310.1 180.7,311.4 182,312.7 179.6,314 188.1,315.3 180,316.6 182.8,317.9 178.7,319.2 179,320.5 178.9,321.8 178.6,323.1 175.9,324.4 178.6,325.7 181.5,327 180.2,328.3 177.6,329.6 174.3,330.9 175.2,332.2 178.1,333.5 181.3,334.8 177,336.1 175.3,337.4 174.5,338.7 177.1,340 178,341.3 178.9,342.6 185,343.9 179.2,345.2 178.4,346.5 179.5,347.8 180.3,349.1 179.8,350.4 180.8,351.7 181,353 181.1,354.3 178,355.6 176.6,356.9 174.6,358.2 177.1,359.5 178.5,360.8 179.7,362.1 177.8,363.4 179.1,364.7 177.2,366 178.2,367.3 174.8,368.6 174.9,369.9" fill="none" stroke="#1a1a1a" stroke-width="0.75" />
<polyline points="286.8,93 287.5,94.3 287.1,95.6 286.2,96.9 285.7,98.2 287.1,99.5 285.5,100.8 286.2,102.1 286,103.4 284.7,104.7 284.1,106 285.4,107.3 287,108.6 286.2,109.9 287.4,111.2 286.1,112.5 286.4,113.8 285.5,115.1 286.2,116.4 284.4,117.7 283.7,119 286.6,120.3 287.6,121.6 288,122.9 287,124.2 287.5,125.5 287,126.8 287.9,128.1 285.5,129.4 285.3,130.7 284.7,132 283.7,133.3 282.8,134.6 281.8,135.9 281.1,137.2 282.9,138.5 283.6,139.8 283.8,141.1 282.7,142.4 284.9,143.7 283.8,145 283.6,146.3 283.7,147.6 283.1,148.9 285.4,150.2 284.2,151.5 285.2,152.8 285.4,154.1 285,155.4 287.3,156.7 287.5,158 288.6,159.3 288.5,160.6 289.7,161.9 288.9,163.2 290.1,164.5 289.6,165.8 288.7,167.1 288.2,168.4 289.4,169.7 287.2,171 288.3,172.3 287.6,173.6 289.5,174.9 289.7,176.2 289.9,177.5 291.6,178.8 292.6,180.1 292.9,181.4 293.2,182.7 292.5,184 291,185.3 290.3,186.6 290.5,187.9 291.1,189.2 291.8,190.5 292.4,191.8 291.9,193.1 290.8,194.4 291.9,195.7 290.9,197 290.2,198.3 289,199.6 290.3,200.9 291,202.2 292.2,203.5 292.8,204.8 292.1,206.1 290.6,207.4 289.9,208.7 290.4,210 291.4,211.3 290,212.6 288.4,213.9 288.1,215.2 288.4,216.5 290.6,217.8 290.5,219.1 288.6,220.4 288.4,221.7 290.3,223 289.9,224.3 290.9,225.6 290.3,226.9 291.6,228.2 289.8,229.5 290.9,230.8 288.4,232.1 287.4,233.4 288.5,234.7 287.6,236 289,237.3 287.3,238.6 288.1,239.9 288.6,241.2 288.5,242.5 287.8,243.8 287,245.1 285.1,246.4 285.8,247.7 284.1,249 285.9,250.3 285.4,251.6 283.5,252.9 285.4,254.2 284,255.5 285.7,256.8 286.4,258.1 285,259.4 284.7,260.7 283.1,262 282.9,263.3 284.9,264.6 284.6,265.9 283.7,267.2 284.8,268.5 285.9,269.8 284.3,271.1 285.4,272.4 283.7,273.7 284.6,275 285.1,276.3 284,277.6 285.4,278.9 285.7,280.2 285.8,281.5 284.2,282.8 285.3,284.1 285,285.4 285.2,286.7 283.5,288 282,289.3 283.5,290.6 284.1,291.9 283.8,293.2 282.2,294.5 282.1,295.8 283.8,297.1 284,298.4 282.7,299.7 282.7,301 283.1,302.3 282.3,303.6 283.4,304.9 284.1,306.2 283.8,307.5 284.9,308.8 284.4,310.1 283.2,311.4 283.6,312.7 282.6,314 283.6,315.3 284.7,316.6 284.5,317.9 286.5,319.2 284.8,320.5 283.2,321.8 284.7,323.1 284.9,324.4 283.7,325.7 282.2,327 283.9,328.3 284.1,329.6 285.3,330.9 285.9,332.2 285.9,333.5 284.3,334.8 286.8,336.1 287.7,337.4 287.3,338.7 285.2,340 285.7,341.3 286.5,342.6 285.3,343.9 284.6,345.2 286.7,346.5 286.9,347.8 287.5,349.1 286.5,350.4 285.6,351.7 284.2,353 285.8,354.3 284.7,355.6 287.4,356.9 286.3,358.2 285.4,359.5 286.5,360.8 286.1,362.1 284.7,363.4 285,364.7 284.4,366 286,367.3 284.4,368.6 283.5,369.9" fill="none" stroke="#50c850" stroke-width="0.7" stroke-opacity="0.85"/>
<polyline points="292.9,93 293.1,94.3 292.8,95.6 292.6,96.9 292.5,98.2 292.8,99.5 292.7,100.8 293,102.1 292.8,103.4 293.1,104.7 293.2,106 292.9,107.3 292.9,108.6 292.9,109.9 293.1,111.2 292.9,112.5 293.2,113.8 293.1,115.1 293.1,116.4 292.9,117.7 292.9,119 292.8,120.3 293.1,121.6 293.1,122.9 292.9,124.2 293.1,125.5 293,126.8 293.2,128.1 293,129.4 292.9,130.7 292.8,132 293,133.3 293.1,134.6 292.9,135.9 292.7,137.2 292.6,138.5 292.6,139.8 292.7,141.1 292.8,142.4 292.7,143.7 292.8,145 292.9,146.3 292.7,147.6 292.8,148.9 292.8,150.2 292.7,151.5 292.8,152.8 293,154.1 292.7,155.4 292.8,156.7 292.8,158 292.9,159.3 293,160.6 292.9,161.9 292.9,163.2 293,164.5 292.8,165.8 292.9,167.1 293.1,168.4 293.2,169.7 293.3,171 293,172.3 292.8,173.6 292.9,174.9 292.6,176.2 292.7,177.5 292.7,178.8 292.6,180.1 292.8,181.4 292.7,182.7 292.7,184 292.8,185.3 292.9,186.6 292.7,187.9 292.9,189.2 293,190.5 292.8,191.8 292.8,193.1 292.9,194.4 293.1,195.7 292.9,197 292.8,198.3 293.1,199.6 292.8,200.9 292.9,202.2 292.7,203.5 292.8,204.8 292.8,206.1 293,207.4 292.9,208.7 293,210 292.9,211.3 292.9,212.6 293.1,213.9 292.8,215.2 292.9,216.5 293,217.8 293,219.1 292.8,220.4 292.8,221.7 293,223 292.9,224.3 292.9,225.6 292.9,226.9 292.7,228.2 292.7,229.5 292.7,230.8 292.8,232.1 292.9,233.4 293.1,234.7 293.2,236 292.9,237.3 292.8,238.6 292.6,239.9 292.6,241.2 292.9,242.5 292.7,243.8 292.8,245.1 293,246.4 292.7,247.7 292.6,249 292.8,250.3 292.8,251.6 293,252.9 293,254.2 292.9,255.5 293.1,256.8 292.8,258.1 292.9,259.4 292.7,260.7 292.8,262 292.8,263.3 292.8,264.6 292.7,265.9 292.6,267.2 292.5,268.5 292.7,269.8 292.7,271.1 292.9,272.4 292.7,273.7 292.9,275 293,276.3 293.1,277.6 293,278.9 293.1,280.2 293.1,281.5 293,282.8 293.2,284.1 293.3,285.4 293.2,286.7 293,288 293.2,289.3 292.9,290.6 293,291.9 293,293.2 292.9,294.5 293,295.8 292.7,297.1 293.1,298.4 292.8,299.7 292.9,301 293,302.3 292.9,303.6 292.7,304.9 292.7,306.2 292.9,307.5 293,308.8 292.8,310.1 293,311.4 292.9,312.7 293,314 292.9,315.3 292.9,316.6 292.8,317.9 292.6,319.2 292.9,320.5 292.9,321.8 292.9,323.1 292.8,324.4 293.1,325.7 292.9,327 293.1,328.3 292.9,329.6 292.8,330.9 292.8,332.2 293,333.5 293,334.8 293.1,336.1 293.1,337.4 292.9,338.7 293,340 293.1,341.3 292.8,342.6 293,343.9 293.1,345.2 293.1,346.5 293.2,347.8 293,349.1 292.9,350.4 293.1,351.7 292.9,353 292.7,354.3 293,355.6 293,356.9 292.8,358.2 292.6,359.5 292.6,360.8 292.6,362.1 292.6,363.4 292.6,364.7 292.7,366 292.7,367.3 292.6,368.6 292.5,369.9" fill="none" stroke="#e03030" stroke-width="0.8" stroke-opacity="0.85"/>
<polyline points="302.1,93 303,94.3 303.8,95.6 302.1,96.9 301.1,98.2 301.8,99.5 298.3,100.8 297.2,102.1 297.8,103.4 298.1,104.7 299,106 298.8,107.3 296.9,108.6 295.9,109.9 297.7,111.2 298,112.5 297.9,113.8 298.3,115.1 300.5,116.4 301.7,117.7 300.3,119 297.5,120.3 295.9,121.6 298.3,122.9 299.5,124.2 299.2,125.5 300.3,126.8 303.3,128.1 300.7,129.4 299.4,130.7 298.7,132 302.7,133.3 302.3,134.6 304,135.9 308.7,137.2 302.4,138.5 304.2,139.8 304.5,141.1 304.8,142.4 307.6,143.7 307.3,145 310.3,146.3 314.3,147.6 310.3,148.9 309.9,150.2 308.2,151.5 308.9,152.8 308.2,154.1 308.3,155.4 305.6,156.7 307.4,158 308.6,159.3 303,160.6 305,161.9 306.9,163.2 309.2,164.5 310,165.8 309.3,167.1 310,168.4 311,169.7 305.7,171 304.1,172.3 308.9,173.6 302.2,174.9 301.2,176.2 304.2,177.5 306.6,178.8 304.2,180.1 305.6,181.4 305.6,182.7 303.9,184 301.6,185.3 303.1,186.6 302.8,187.9 302.3,189.2 303.3,190.5 304.8,191.8 305.1,193.1 303.4,194.4 308.2,195.7 303.7,197 305.6,198.3 305.1,199.6 306.4,200.9 304.4,202.2 303.3,203.5 309.9,204.8 304.1,206.1 304.2,207.4 302.1,208.7 306.2,210 300.7,211.3 302,212.6 303.2,213.9 307.1,215.2 306.2,216.5 308.8,217.8 306.5,219.1 306.3,220.4 305.4,221.7 309.3,223 309.7,224.3 312.7,225.6 313.6,226.9 311.8,228.2 311.8,229.5 314.5,230.8 315.1,232.1 312.6,233.4 311.3,234.7 310,236 313.9,237.3 313.7,238.6 309.3,239.9 308,241.2 306,242.5 305.1,243.8 307.7,245.1 309.4,246.4 308.1,247.7 315.1,249 310.2,250.3 309,251.6 309.2,252.9 308,254.2 306.6,255.5 305.8,256.8 303.9,258.1 306.6,259.4 308.4,260.7 306.3,262 305.2,263.3 305.2,264.6 306.7,265.9 306.6,267.2 309.7,268.5 310.5,269.8 309.3,271.1 308.1,272.4 306.9,273.7 306.5,275 307.4,276.3 307.5,277.6 308.1,278.9 307,280.2 307.3,281.5 307.8,282.8 307.3,284.1 308.2,285.4 307.5,286.7 310.7,288 310.6,289.3 313.7,290.6 312.6,291.9 313.9,293.2 313.5,294.5 311,295.8 312.3,297.1 318.7,298.4 314.2,299.7 318.5,301 313.6,302.3 312.2,303.6 311.1,304.9 311.9,306.2 310.7,307.5 309.8,308.8 308.4,310.1 307.7,311.4 309.1,312.7 306.4,314 307.6,315.3 305.6,316.6 305.2,317.9 307.4,319.2 308.3,320.5 309.4,321.8 307.6,323.1 308.8,324.4 307.9,325.7 308.4,327 307.8,328.3 306.4,329.6 303.9,330.9 307.5,332.2 306.3,333.5 305.2,334.8 305.8,336.1 304,337.4 306.5,338.7 306,340 305.5,341.3 304.9,342.6 304.6,343.9 306.4,345.2 304.8,346.5 305.5,347.8 302.7,349.1 301.7,350.4 304.2,351.7 304.3,353 305.6,354.3 306.2,355.6 304.5,356.9 301.9,358.2 304,359.5 305.1,360.8 306.7,362.1 306.7,363.4 308.1,364.7 307,366 307.1,367.3 308,368.6 305.3,369.9" fill="none" stroke="#1a1a1a" stroke-width="0.75" />
<polyline points="399,90 398.6,91.3 397.2,92.6 396.1,93.9 395.5,95.2 395.7,96.5 396.3,97.8 397.7,99.1 398.3,100.4 399,101.7 399.4,103 397.8,104.3 397.2,105.6 397.9,106.9 397.3,108.2 396,109.5 397.3,110.8 396.1,112.1 395.7,113.4 396.3,114.7 398.5,116 398.8,117.3 399.3,118.6 399.5,119.9 400,121.2 400.8,122.5 400.3,123.8 399.7,125.1 398.7,126.4 400.1,127.7 398.8,129 398.9,130.3 399.5,131.6 399,132.9 399.5,134.2 398.4,135.5 396.8,136.8 397.5,138.1 398.6,139.4 396.9,140.7 397.1,142 397.1,143.3 397.2,144.6 395.7,145.9 396.8,147.2 396.4,148.5 397.1,149.8 397.5,151.1 397,152.4 398.4,153.7 399.1,155 399.3,156.3 397.6,157.6 397.7,158.9 397.6,160.2 397.6,161.5 398.4,162.8 398,164.1 398.1,165.4 397.6,166.7 396.9,168 397.4,169.3 397.3,170.6 397.1,171.9 397.4,173.2 396.3,174.5 396.2,175.8 395.5,177.1 396.1,178.4 396.3,179.7 396.7,181 397,182.3 398.3,183.6 397.3,184.9 397.1,186.2 398.3,187.5 398.2,188.8 399,190.1 398.7,191.4 397.1,192.7 396.9,194 396.4,195.3 398.1,196.6 397.7,197.9 398.4,199.2 397.9,200.5 398.2,201.8 398,203.1 397.9,204.4 397.8,205.7 399.3,207 399.6,208.3 400.8,209.6 399.2,210.9 399.7,212.2 400.8,213.5 400.9,214.8 400.6,216.1 400.4,217.4 399.6,218.7 399.3,220 398.1,221.3 397.3,222.6 398.8,223.9 399.9,225.2 398.8,226.5 397.9,227.8 397.4,229.1 396.4,230.4 398.1,231.7 397.5,233 398.6,234.3 397.7,235.6 397.9,236.9 398.4,238.2 397.6,239.5 399.3,240.8 397.5,242.1 398,243.4 397.5,244.7 398.3,246 397.5,247.3 396.6,248.6 396.9,249.9 396,251.2 397.5,252.5 397.1,253.8 398.7,255.1 398.9,256.4 398.4,257.7 397.7,259 400,260.3 400.2,261.6 399.8,262.9 398.6,264.2 400,265.5 400.7,266.8 399.5,268.1 397.9,269.4 397.3,270.7 396.8,272 397.5,273.3 396.3,274.6 396,275.9 395.8,277.2 397.6,278.5 398.9,279.8 398.2,281.1 399.2,282.4 397.8,283.7 398.3,285 398.3,286.3 399.3,287.6 398.6,288.9 398.8,290.2 400.3,291.5 399.1,292.8 399.3,294.1 399.8,295.4 399.9,296.7 398.9,298 399.6,299.3 399.8,300.6 399.4,301.9 397.2,303.2 396.5,304.5 396.5,305.8 396.7,307.1 397.4,308.4 399.3,309.7 399.1,311 399.2,312.3 398.3,313.6 399.4,314.9 398.7,316.2 398,317.5 398.4,318.8 398,320.1 399.3,321.4 400.5,322.7 398.9,324 399.9,325.3 400.4,326.6 399,327.9 398.7,329.2 399.7,330.5 399.8,331.8 400.3,333.1 401,334.4 399.9,335.7 400.2,337 399.3,338.3 399.3,339.6 400.4,340.9 400,342.2 400.8,343.5 400.8,344.8 399.1,346.1 400.2,347.4 399.4,348.7 399.7,350 399.4,351.3 398.7,352.6 399.6,353.9 398.4,355.2 399.3,356.5 399.2,357.8 397.9,359.1 397.7,360.4 397.1,361.7 396.9,363 399.1,364.3 398.8,365.6 399.5,366.9 400,368.2 400.9,369.5" fill="none" stroke="#3838c0" stroke-width="0.7" stroke-opacity="0.85"/>
<polyline points="408.5,90 407.5,91.3 406,92.6 408.9,93.9 411.1,95.2 407.6,96.5 408.8,97.8 409.6,99.1 409.8,100.4 409.9,101.7 407.8,103 408.9,104.3 409.5,105.6 407.4,106.9 409,108.2 409.8,109.5 409.5,110.8 407.9,112.1 407.2,113.4 409.4,114.7 410.6,116 412.9,117.3 410.8,118.6 411.7,119.9 410.6,121.2 413.1,122.5 412.6,123.8 413.5,125.1 412.2,126.4 410.9,127.7 413.2,129 411.7,130.3 413.2,131.6 414.5,132.9 414.1,134.2 415.1,135.5 413.9,136.8 415.9,138.1 415.1,139.4 415.7,140.7 414.2,142 416.1,143.3 413.8,144.6 412.5,145.9 413.5,147.2 414.5,148.5 414.8,149.8 412.8,151.1 411.1,152.4 411.2,153.7 410.5,155 412.6,156.3 411.1,157.6 413.8,158.9 414.8,160.2 415.8,161.5 413.7,162.8 413.8,164.1 414.3,165.4 412.5,166.7 414.2,168 416.2,169.3 414.7,170.6 415.8,171.9 417.7,173.2 417.4,174.5 416.8,175.8 417.7,177.1 419.3,178.4 418.2,179.7 416.3,181 417.5,182.3 418.5,183.6 420,184.9 417.8,186.2 419.3,187.5 419.3,188.8 419.5,190.1 417.9,191.4 417,192.7 417.3,194 417.2,195.3 418,196.6 418.7,197.9 417.6,199.2 417.7,200.5 417.3,201.8 420.3,203.1 418,204.4 418.9,205.7 418.9,207 420.6,208.3 420.2,209.6 419.4,210.9 418,212.2 419.2,213.5 420.1,214.8 421.3,216.1 420.3,217.4 418.9,218.7 418.8,220 416.2,221.3 417.8,222.6 415.3,223.9 414.3,225.2 413.2,226.5 416,227.8 414.8,229.1 415.2,230.4 412.8,231.7 413.4,233 413.2,234.3 414.5,235.6 415,236.9 415.5,238.2 414.3,239.5 414.5,240.8 415.7,242.1 412.8,243.4 412.1,244.7 411.5,246 410.7,247.3 411.2,248.6 411.9,249.9 414.1,251.2 416.4,252.5 415.4,253.8 417,255.1 413.7,256.4 414,257.7 415.3,259 415,260.3 413.5,261.6 411.8,262.9 411.2,264.2 412.6,265.5 415.3,266.8 415.8,268.1 416.6,269.4 416.4,270.7 415.5,272 416.1,273.3 413.9,274.6 415.1,275.9 416.3,277.2 416.6,278.5 414.7,279.8 415.9,281.1 416.4,282.4 414.9,283.7 415.6,285 414.7,286.3 412.4,287.6 412.6,288.9 414.5,290.2 413,291.5 414.4,292.8 414.2,294.1 414.5,295.4 413.4,296.7 413.9,298 415,299.3 413.3,300.6 414.1,301.9 413.9,303.2 416.4,304.5 414.8,305.8 413.6,307.1 411.5,308.4 410.3,309.7 411.1,311 411.7,312.3 410.5,313.6 413.3,314.9 415.4,316.2 414,317.5 414.8,318.8 415.6,320.1 415.7,321.4 417.1,322.7 415.8,324 414.6,325.3 414.4,326.6 414,327.9 412.9,329.2 414.2,330.5 415.4,331.8 415,333.1 417.5,334.4 415.1,335.7 413.9,337 414.3,338.3 412.5,339.6 414.6,340.9 412.9,342.2 414.5,343.5 413.6,344.8 412.8,346.1 414.3,347.4 412.3,348.7 413.3,350 413.3,351.3 410.8,352.6 411.3,353.9 412.4,355.2 412.3,356.5 412.1,357.8 412.1,359.1 412.4,360.4 411.6,361.7 409.7,363 410.5,364.3 413.2,365.6 414.5,366.9 416.3,368.2 413.3,369.5" fill="none" stroke="#50c850" stroke-width="0.7" stroke-opacity="0.85"/>
<polyline points="418.2,90 418.7,91.3 419,92.6 418.9,93.9 418.6,95.2 418.6,96.5 419,97.8 419,99.1 419.1,100.4 419.4,101.7 419.4,103 419.8,104.3 420.2,105.6 420.1,106.9 420.5,108.2 420.5,109.5 420.4,110.8 420.5,112.1 420.5,113.4 420.8,114.7 420.5,116 420.6,117.3 420.4,118.6 420.5,119.9 420.7,121.2 420.8,122.5 420.9,123.8 420.9,125.1 420.8,126.4 421.1,127.7 420.8,129 420.8,130.3 420.6,131.6 420.7,132.9 421.1,134.2 421.2,135.5 421.4,136.8 421,138.1 421.1,139.4 420.8,140.7 420.9,142 421,143.3 421.1,144.6 421,145.9 421.3,147.2 421.4,148.5 421.2,149.8 421,151.1 420.6,152.4 420.5,153.7 420.4,155 420.4,156.3 420.7,157.6 421,158.9 421.2,160.2 421,161.5 420.7,162.8 420.7,164.1 420.4,165.4 420.6,166.7 420.3,168 420.5,169.3 420.4,170.6 420.7,171.9 420.8,173.2 420.6,174.5 420.6,175.8 420.8,177.1 420.4,178.4 420.1,179.7 420.2,181 420.6,182.3 420.6,183.6 420.9,184.9 420.8,186.2 420.9,187.5 420.7,188.8 421.1,190.1 420.6,191.4 420.2,192.7 419.9,194 420.5,195.3 420.9,196.6 420.7,197.9 420.4,199.2 420.7,200.5 421,201.8 420.9,203.1 420.7,204.4 421,205.7 420.6,207 420.6,208.3 421,209.6 421.1,210.9 421.1,212.2 420.7,213.5 420.5,214.8 420.6,216.1 420.8,217.4 420.6,218.7 420.8,220 420.6,221.3 420.5,222.6 420.8,223.9 420.9,225.2 421.2,226.5 421.4,227.8 421.6,229.1 421.2,230.4 421.5,231.7 421.9,233 421.5,234.3 421.3,235.6 421.2,236.9 421.7,238.2 421.6,239.5 421.9,240.8 422.2,242.1 422,243.4 421.8,244.7 421.7,246 421.5,247.3 421.8,248.6 422.2,249.9 422.5,251.2 422.1,252.5 422.3,253.8 422.4,255.1 422.5,256.4 422,257.7 422.3,259 421.9,260.3 422.1,261.6 422,262.9 421.6,264.2 422,265.5 422,266.8 421.7,268.1 422,269.4 421.9,270.7 421.8,272 421.5,273.3 421.7,274.6 421.5,275.9 421.2,277.2 421.1,278.5 421.6,279.8 421.2,281.1 421.2,282.4 421.3,283.7 421.7,285 421.6,286.3 421.7,287.6 421.5,288.9 421.3,290.2 421.3,291.5 421.4,292.8 421.8,294.1 421.9,295.4 421.7,296.7 421.5,298 421.5,299.3 421.2,300.6 421.4,301.9 421.8,303.2 421.3,304.5 421.5,305.8 421.7,307.1 421.5,308.4 421.1,309.7 421.5,311 421.4,312.3 421.5,313.6 421.5,314.9 421.3,316.2 421.5,317.5 421,318.8 420.9,320.1 421.2,321.4 420.9,322.7 421.1,324 421,325.3 421.1,326.6 421.1,327.9 420.8,329.2 420.7,330.5 421,331.8 421,333.1 421.1,334.4 421,335.7 420.9,337 420.7,338.3 420.7,339.6 420.6,340.9 420.5,342.2 420.3,343.5 419.7,344.8 419.7,346.1 419.8,347.4 419.9,348.7 420,350 419.8,351.3 419.2,352.6 419,353.9 418.8,355.2 418.5,356.5 418.5,357.8 418.4,359.1 418.3,360.4 418.2,361.7 418.5,363 418.5,364.3 418.5,365.6 418.2,366.9 418,368.2 418.3,369.5" fill="none" stroke="#e03030" stroke-width="0.8" stroke-opacity="0.85"/>
<polyline points="434.3,90 433.7,91.3 441.4,92.6 444.9,93.9 449,95.2 447.7,96.5 447.9,97.8 449,99.1 445,100.4 444.7,101.7 441.9,103 442.4,104.3 443.1,105.6 442.2,106.9 441.7,108.2 439.9,109.5 436.4,110.8 431.5,112.1 433.8,113.4 431.9,114.7 431.8,116 433.4,117.3 434.2,118.6 434,119.9 430.6,121.2 428.5,122.5 431.4,123.8 432.2,125.1 430.7,126.4 430.9,127.7 432.1,129 434.4,130.3 431.1,131.6 431.9,132.9 431.9,134.2 431.7,135.5 430.2,136.8 429.4,138.1 432.4,139.4 431.2,140.7 434.5,142 432.6,143.3 433.2,144.6 430.4,145.9 430,147.2 430.9,148.5 432,149.8 432.3,151.1 431.9,152.4 429.4,153.7 428.2,155 428.4,156.3 431.6,157.6 434.5,158.9 430.2,160.2 429.3,161.5 430.9,162.8 433.9,164.1 434.4,165.4 434.9,166.7 434.6,168 432.3,169.3 433.3,170.6 432.4,171.9 431.5,173.2 429.5,174.5 429.9,175.8 431.5,177.1 433,178.4 433.6,179.7 432.2,181 433.5,182.3 433.2,183.6 433.4,184.9 434,186.2 431.4,187.5 429.7,188.8 431.2,190.1 432.4,191.4 429.8,192.7 428.9,194 426.9,195.3 430.5,196.6 429.6,197.9 429.5,199.2 432.6,200.5 429.8,201.8 428.6,203.1 431.7,204.4 433.5,205.7 434.2,207 436.3,208.3 436.7,209.6 435.5,210.9 436.3,212.2 438,213.5 439.8,214.8 441.2,216.1 441.8,217.4 438.3,218.7 439.1,220 438.6,221.3 439.2,222.6 436.4,223.9 435.3,225.2 433.8,226.5 441.4,227.8 438.7,229.1 437.6,230.4 437.9,231.7 440,233 440.6,234.3 436.4,235.6 437.8,236.9 436.9,238.2 437.8,239.5 435.9,240.8 433,242.1 433,243.4 436.4,244.7 433.4,246 435,247.3 432.6,248.6 433.7,249.9 434.4,251.2 433.8,252.5 434.1,253.8 434.2,255.1 429.7,256.4 427.8,257.7 427.1,259 428.1,260.3 430.8,261.6 430.1,262.9 430.5,264.2 431.7,265.5 428.7,266.8 432.1,268.1 440.2,269.4 431.6,270.7 432.5,272 431,273.3 433.6,274.6 434.8,275.9 433.5,277.2 435.4,278.5 436.3,279.8 435.5,281.1 436.5,282.4 435.4,283.7 438.5,285 438.3,286.3 433.3,287.6 431.6,288.9 433.4,290.2 433.3,291.5 432.4,292.8 434.6,294.1 434.2,295.4 435.9,296.7 434.6,298 435.9,299.3 433.5,300.6 434.2,301.9 434.4,303.2 434.1,304.5 431.9,305.8 434.2,307.1 431.7,308.4 430.9,309.7 431,311 431,312.3 430,313.6 430,314.9 428.5,316.2 432.7,317.5 434.9,318.8 432.2,320.1 432.8,321.4 431,322.7 431.1,324 435.1,325.3 435,326.6 435.6,327.9 435.5,329.2 432.4,330.5 431.4,331.8 434.7,333.1 434.6,334.4 432.5,335.7 433.1,337 433.8,338.3 432.8,339.6 433.9,340.9 435.3,342.2 435.1,343.5 433.7,344.8 433.7,346.1 434.2,347.4 436.2,348.7 438.4,350 434.5,351.3 432.6,352.6 435.4,353.9 431.7,355.2 433.2,356.5 435.7,357.8 436.2,359.1 436.6,360.4 434,361.7 434.3,363 435.4,364.3 434.2,365.6 432.1,366.9 431.2,368.2 431.2,369.5" fill="none" stroke="#1a1a1a" stroke-width="0.75" />
<polyline points="548.3,90 548.1,91.3 548,92.6 547.8,93.9 548.2,95.2 547.9,96.5 547.9,97.8 547.8,99.1 547.7,100.4 548.1,101.7 548,103 547.8,104.3 547.9,105.6 548.3,106.9 548.2,108.2 548.3,109.5 548.2,110.8 548.2,112.1 548.4,113.4 548.3,114.7 548.2,116 548.3,117.3 548.3,118.6 548.1,119.9 547.9,121.2 547.8,122.5 548,123.8 548,125.1 548.1,126.4 548.2,127.7 548.1,129 547.9,130.3 548.2,131.6 548,132.9 548.1,134.2 548.1,135.5 547.9,136.8 547.9,138.1 547.8,139.4 548.1,140.7 548.4,142 548,143.3 547.9,144.6 548,145.9 547.9,147.2 548.2,148.5 548.1,149.8 547.9,151.1 547.8,152.4 547.7,153.7 547.8,155 547.8,156.3 548.1,157.6 548.3,158.9 548.3,160.2 548.4,161.5 548.2,162.8 548.4,164.1 548.3,165.4 548.1,166.7 548.1,168 548.2,169.3 548.1,170.6 547.9,171.9 548.1,173.2 548.1,174.5 548.3,175.8 548.2,177.1 547.9,178.4 547.9,179.7 548.2,181 548,182.3 547.9,183.6 548.1,184.9 548.3,186.2 548.2,187.5 548.1,188.8 548.1,190.1 548.3,191.4 548.3,192.7 548.3,194 548.3,195.3 548.1,196.6 548.1,197.9 548,199.2 547.9,200.5 548.1,201.8 547.9,203.1 548,204.4 548.2,205.7 548.3,207 548.4,208.3 548.4,209.6 548.5,210.9 548.1,212.2 548.1,213.5 547.9,214.8 547.8,216.1 547.7,217.4 547.8,218.7 548,220 547.8,221.3 548.1,222.6 548.2,223.9 548.4,225.2 548.3,226.5 548.3,227.8 548,229.1 548,230.4 548,231.7 548.1,233 548.2,234.3 548,235.6 548,236.9 548.1,238.2 548.1,239.5 548.2,240.8 548,242.1 548,243.4 547.9,244.7 547.8,246 548.1,247.3 547.9,248.6 548.2,249.9 548.2,251.2 548.2,252.5 548.3,253.8 548.4,255.1 548.4,256.4 548.1,257.7 548.2,259 548.1,260.3 547.9,261.6 548.2,262.9 548.2,264.2 548,265.5 548,266.8 548,268.1 548.2,269.4 548.1,270.7 547.8,272 547.7,273.3 547.9,274.6 547.8,275.9 548,277.2 547.8,278.5 548.2,279.8 548.1,281.1 548,282.4 548.1,283.7 547.9,285 547.9,286.3 548,287.6 548.1,288.9 547.9,290.2 547.9,291.5 547.8,292.8 548.1,294.1 548.3,295.4 548.5,296.7 548.2,298 548.2,299.3 548.1,300.6 548.3,301.9 548,303.2 548.2,304.5 548,305.8 548.1,307.1 548.2,308.4 548.3,309.7" fill="none" stroke="#e03030" stroke-width="0.8" stroke-opacity="0.85" stroke-dasharray="3 1"/>
<polyline points="559.7,92 558.7,93.3 565.3,94.6 557.8,95.9 559.5,97.2 558.9,98.5 558.3,99.8 559.6,101.1 561.8,102.4 559.1,103.7 560.9,105 560.5,106.3 561.9,107.6 562.8,108.9 562,110.2 563.1,111.5 561.7,112.8 562.6,114.1 563.1,115.4 560.6,116.7 560.9,118 561.5,119.3 561.9,120.6 567.9,121.9 562.4,123.2 562.5,124.5 562.9,125.8 562.1,127.1 564.7,128.4 564.2,129.7 566.4,131 567.1,132.3 566.1,133.6 566.2,134.9 567.6,136.2 569.2,137.5 567.8,138.8 569,140.1 569.6,141.4 571,142.7 572.9,144 573.5,145.3 573.3,146.6 571.7,147.9 569.5,149.2 573.6,150.5 573.8,151.8 572.3,153.1 574.6,154.4 573.9,155.7 573.5,157 571.1,158.3 571.8,159.6 570.7,160.9 570.4,162.2 568.8,163.5 567.3,164.8 567.8,166.1 570.7,167.4 570.1,168.7 569.7,170 573.7,171.3 573,172.6 567,173.9 564.7,175.2 557.5,176.5 563.3,177.8 567.2,179.1 567.3,180.4 564.3,181.7 569.1,183 558.3,184.3 557.7,185.6 564.2,186.9 565.4,188.2 569.6,189.5 569.3,190.8 571.2,192.1 564.7,193.4 557.4,194.7 561.4,196 562.7,197.3 572.9,198.6 568.7,199.9 568.7,201.2 567.4,202.5 566.5,203.8 566.4,205.1 562.9,206.4 563.4,207.7 560,209 560.6,210.3 563.2,211.6 564.5,212.9 563.5,214.2 563.9,215.5 566.3,216.8 567.9,218.1 570,219.4 570.1,220.7 569.1,222 569.4,223.3 568.9,224.6 566.1,225.9 567.6,227.2 563.7,228.5 564.5,229.8 563.2,231.1 562.8,232.4 562.4,233.7 562.7,235 565.7,236.3 566.4,237.6 562.8,238.9 561.7,240.2 567.8,241.5 566.9,242.8 569.4,244.1 564.6,245.4 563.2,246.7 562.8,248 563.3,249.3 563.3,250.6 564.3,251.9 560.8,253.2 562.3,254.5 564,255.8 561.6,257.1 559,258.4 558.7,259.7 560,261 562.4,262.3 560.8,263.6 560.7,264.9 561.9,266.2 561,267.5 559.6,268.8 565.8,270.1 565.1,271.4 564.1,272.7 562.1,274 563.7,275.3 563.8,276.6 564.2,277.9 562.1,279.2 561.1,280.5 559.1,281.8 559.2,283.1 558.8,284.4 560.2,285.7 558.6,287 558.3,288.3 557.8,289.6 557.3,290.9 557.5,292.2 556.5,293.5 559.7,294.8 561.9,296.1 560.8,297.4 561.9,298.7 561.4,300 559.7,301.3 557.4,302.6 556.9,303.9 556.5,305.2 557.5,306.5 558.1,307.8 558.6,309.1" fill="none" stroke="#1a1a1a" stroke-width="0.75" />
<polyline points="543.8,222 543.7,223.3 543.5,224.6 542.3,225.9 542.4,227.2 543,228.5 542.8,229.8 542.5,231.1 543.3,232.4 542.6,233.7 542.6,235 541.8,236.3 541.5,237.6 541.2,238.9 541.5,240.2 541,241.5 542.1,242.8 541.6,244.1 540.9,245.4 541.7,246.7 541.2,248 542.5,249.3 542.6,250.6 543,251.9 543.4,253.2 543.6,254.5 543.7,255.8 542,257.1 542.6,258.4 542.7,259.7 542.3,261 542.7,262.3 542.9,263.6 542.7,264.9 543,266.2 543.3,267.5 542.3,268.8 543.1,270.1 543.2,271.4 543.3,272.7 542,274 542.4,275.3 543.4,276.6 543.4,277.9 543.1,279.2 542.5,280.5 543.4,281.8 542,283.1 542.2,284.4 541.7,285.7 543.1,287 540.9,288.3 539.6,289.6 539.2,290.9 540.6,292.2 539.9,293.5 540.6,294.8 539.8,296.1 540.9,297.4 539.4,298.7 538.3,300 539.4,301.3 540,302.6 539.7,303.9 538.7,305.2 538.6,306.5 539.2,307.8 539.1,309.1 538.4,310.4" fill="none" stroke="#d07070" stroke-width="0.6" stroke-opacity="0.85"/>
<polyline points="659.8,100 661.7,101.3 661.8,102.6 661.6,103.9 661,105.2 660.3,106.5 658.3,107.8 658.5,109.1 658.3,110.4 659.7,111.7 661.3,113 660.5,114.3 659.4,115.6 659.5,116.9 659.8,118.2 660.7,119.5 660.1,120.8 659.4,122.1 659.9,123.4 657.9,124.7 659.1,126 658.3,127.3 658.6,128.6 660.1,129.9 659.7,131.2 659.5,132.5 659.1,133.8 659,135.1 659.5,136.4 657.9,137.7 656.5,139 657,140.3 656.6,141.6 656.8,142.9 656.3,144.2 656.7,145.5 656.2,146.8 655.7,148.1 656.7,149.4 657.4,150.7 659.2,152 660.7,153.3 661.5,154.6 661.1,155.9 659.7,157.2 660.1,158.5 661.8,159.8 660.9,161.1 662.4,162.4 663.2,163.7 661.2,165 661.5,166.3 662.2,167.6 662.6,168.9 662.7,170.2 663.4,171.5 664.1,172.8 664.5,174.1 665.5,175.4 663.4,176.7 664.9,178 665.2,179.3 663.8,180.6 663.1,181.9 661.7,183.2 662.4,184.5 661.9,185.8 663,187.1 664.2,188.4 662.7,189.7 663.8,191 662.8,192.3 663.7,193.6 662.2,194.9 660.1,196.2 661,197.5 662.3,198.8 662.1,200.1 662,201.4 661.1,202.7 660.4,204 661.6,205.3 660.3,206.6 660.6,207.9 660.3,209.2 661.2,210.5 660.2,211.8 662.7,213.1 662.6,214.4 660.4,215.7 661.9,217 663.3,218.3 662.5,219.6 662,220.9 661.6,222.2 660.7,223.5 660.6,224.8 660.3,226.1 660.1,227.4 659.8,228.7 660.2,230 659.5,231.3 660.7,232.6 662.1,233.9 661.8,235.2 662.5,236.5 661.9,237.8 660.4,239.1 662.2,240.4 661.2,241.7 661.9,243 660.8,244.3 662.6,245.6 662.1,246.9 662,248.2 661.8,249.5 663,250.8 661.5,252.1 661.8,253.4 660.9,254.7 661,256 660.6,257.3 661.3,258.6 661.7,259.9 662,261.2 662.6,262.5 661.6,263.8 661.6,265.1 662.2,266.4 662.1,267.7 663.9,269 663.3,270.3 662.2,271.6 664.3,272.9 663,274.2 663,275.5 661.7,276.8 663.1,278.1 663.6,279.4 664.5,280.7 662.6,282 663.4,283.3 662,284.6 663,285.9 663,287.2 661.8,288.5 661.6,289.8 661.8,291.1 663.5,292.4 664.6,293.7 664.8,295 662.4,296.3 660.6,297.6 660,298.9 659.2,300.2 661.3,301.5 659.9,302.8 658.8,304.1 661.1,305.4 660.7,306.7 660.9,308 661.2,309.3 659,310.6 659.1,311.9 660,313.2 659.4,314.5 658.7,315.8 660.4,317.1 662.4,318.4 662.9,319.7 664.3,321 662.8,322.3 662.5,323.6 661.1,324.9 660.5,326.2 661.6,327.5 660.6,328.8 660.8,330.1 660.4,331.4 661.9,332.7 662.2,334 663.1,335.3 662.9,336.6 661.2,337.9 661.8,339.2 661.3,340.5 660.3,341.8 659.5,343.1 659.3,344.4 661.5,345.7 662.8,347 662.1,348.3 663.3,349.6 664.7,350.9 662.8,352.2 662.2,353.5 662.8,354.8 662.5,356.1 662.6,357.4 663,358.7 662,360 662.6,361.3 660.9,362.6 660.3,363.9 658.8,365.2 660.8,366.5 660.8,367.8 661.8,369.1" fill="none" stroke="#3838c0" stroke-width="0.7" stroke-opacity="0.85"/>
<polyline points="665.6,150 665.1,151.3 664.5,152.6 666.5,153.9 666.8,155.2 668,156.5 666.7,157.8 665.8,159.1 667,160.4 667.7,161.7 667,163 666.7,164.3 667.1,165.6 669,166.9 667.1,168.2 667.1,169.5 666.8,170.8 668.9,172.1 667.2,173.4 667.5,174.7 669.8,176 669.2,177.3 669,178.6 670.9,179.9 669.4,181.2 668,182.5 667.8,183.8 669.4,185.1 669.9,186.4 669.8,187.7 670.3,189 671.4,190.3 671.9,191.6 673.4,192.9 670.9,194.2 671.7,195.5 671.4,196.8 670.5,198.1 671.7,199.4 671.3,200.7 672.3,202 671,203.3 671.9,204.6 673.2,205.9 672.5,207.2 674.1,208.5 673.2,209.8 673.3,211.1 672.1,212.4 673.7,213.7 673.1,215 671.4,216.3 671.9,217.6 673.6,218.9 673.9,220.2 673.5,221.5 672,222.8 671.8,224.1 670.2,225.4 669.1,226.7 669,228 669.3,229.3 669.1,230.6 668.5,231.9 668.4,233.2 669.9,234.5 671.6,235.8 673,237.1 671.8,238.4 671.5,239.7 671,241 670.9,242.3 671.3,243.6 672.9,244.9 673.8,246.2 674.1,247.5 674.1,248.8 674.1,250.1 673.7,251.4 673.4,252.7 671.6,254 670.9,255.3 671.1,256.6 670.9,257.9 670.7,259.2 671.4,260.5 672.3,261.8 672.5,263.1 673.4,264.4 674.3,265.7 672.3,267 670.4,268.3 672.8,269.6 672,270.9 671.6,272.2 670.9,273.5 669.9,274.8 670.1,276.1 669.8,277.4 671.2,278.7 671.4,280 672.4,281.3 671.3,282.6 671.3,283.9 670.2,285.2 671.3,286.5 671.6,287.8 670.9,289.1 672.5,290.4 674.3,291.7 673.4,293 673.7,294.3 673.5,295.6 675.3,296.9 675.4,298.2 676,299.5 674.9,300.8 674.8,302.1 674.2,303.4 674,304.7 672.9,306 672.4,307.3 672.5,308.6 674,309.9 674.6,311.2 672.6,312.5 672.9,313.8 673.1,315.1 672.9,316.4 671.9,317.7 672.5,319 671,320.3 671.1,321.6 671.6,322.9 673.3,324.2 672.6,325.5 674.1,326.8 672.3,328.1 673.2,329.4 673.1,330.7 674.3,332 674.6,333.3 672.5,334.6 671.2,335.9 672.7,337.2 673.1,338.5 672,339.8 673.8,341.1 672.9,342.4 673,343.7 672.1,345 671,346.3 672.9,347.6 673,348.9 673.3,350.2 673.4,351.5 671.7,352.8 672,354.1 672.4,355.4 671,356.7 670.3,358 669.6,359.3 670.7,360.6 671.9,361.9 671.8,363.2 671.7,364.5 670.7,365.8 673,367.1 672.3,368.4 670.5,369.7" fill="none" stroke="#50c850" stroke-width="0.7" stroke-opacity="0.85"/>
<polyline points="676.7,100 676.5,101.3 676.5,102.6 676.4,103.9 676.4,105.2 676.6,106.5 676.6,107.8 676.5,109.1 676.5,110.4 676.4,111.7 676.6,113 676.6,114.3 676.8,115.6 676.8,116.9 676.9,118.2 677,119.5 676.8,120.8 676.8,122.1 676.6,123.4 676.7,124.7 676.8,126 676.9,127.3 676.8,128.6 677,129.9 676.8,131.2 676.7,132.5 676.7,133.8 676.7,135.1 676.6,136.4 676.8,137.7 676.8,139 676.9,140.3 676.8,141.6 676.7,142.9 676.5,144.2 676.8,145.5 676.7,146.8 676.6,148.1 676.8,149.4 676.9,150.7 676.7,152 676.7,153.3 676.9,154.6 676.9,155.9 676.9,157.2 676.7,158.5 676.7,159.8 676.6,161.1 676.5,162.4 676.6,163.7 676.6,165 676.5,166.3 676.5,167.6 676.5,168.9 676.6,170.2 676.5,171.5 676.8,172.8 676.9,174.1 676.7,175.4 676.9,176.7 677,178 677,179.3 677,180.6 677,181.9 676.8,183.2 676.8,184.5 676.7,185.8 676.9,187.1 676.8,188.4 676.8,189.7 676.8,191 676.6,192.3 676.7,193.6 676.7,194.9 676.6,196.2 676.5,197.5 676.6,198.8 676.6,200.1 676.5,201.4 676.6,202.7 676.7,204 676.7,205.3 676.7,206.6 676.7,207.9 676.7,209.2 676.8,210.5 676.7,211.8 676.7,213.1 676.7,214.4 676.5,215.7 676.6,217 676.5,218.3 676.5,219.6 676.7,220.9 676.7,222.2 676.8,223.5 676.6,224.8 676.6,226.1 676.7,227.4 676.9,228.7 676.7,230 676.6,231.3 676.8,232.6 676.7,233.9 676.9,235.2 677,236.5 677,237.8 676.8,239.1 676.7,240.4 676.7,241.7 676.6,243 676.6,244.3 676.5,245.6 676.7,246.9 676.8,248.2 676.7,249.5 676.6,250.8 676.6,252.1 676.5,253.4 676.5,254.7 676.5,256 676.7,257.3 676.9,258.6 676.7,259.9 676.7,261.2 676.6,262.5 676.8,263.8 676.9,265.1 677,266.4 676.7,267.7 676.9,269 676.6,270.3 676.8,271.6 676.8,272.9 676.8,274.2 676.8,275.5 676.9,276.8 676.7,278.1 676.9,279.4 676.8,280.7 676.7,282 676.9,283.3 676.8,284.6 676.6,285.9 676.8,287.2 676.8,288.5 676.9,289.8 676.9,291.1 676.7,292.4 676.6,293.7 676.6,295 676.8,296.3 676.8,297.6 676.7,298.9 676.6,300.2 676.5,301.5 676.7,302.8 676.8,304.1 676.7,305.4 676.7,306.7 676.8,308 676.9,309.3 676.6,310.6 676.7,311.9 676.7,313.2 676.6,314.5 676.5,315.8 676.7,317.1 676.8,318.4 676.6,319.7 676.8,321 676.8,322.3 676.8,323.6 676.8,324.9 676.6,326.2 676.8,327.5 676.7,328.8 676.7,330.1 676.6,331.4 676.7,332.7 676.5,334 676.5,335.3 676.7,336.6 676.5,337.9 676.8,339.2 676.7,340.5 676.8,341.8 676.9,343.1 676.8,344.4 676.9,345.7 676.7,347 676.8,348.3 676.8,349.6 676.8,350.9 676.8,352.2 676.9,353.5 676.7,354.8 676.6,356.1 676.8,357.4 676.7,358.7 676.8,360 676.9,361.3 677,362.6 677,363.9 676.9,365.2 676.9,366.5 677,367.8 676.8,369.1" fill="none" stroke="#e03030" stroke-width="0.8" stroke-opacity="0.85" stroke-dasharray="3 1"/>
<polyline points="688.1,103 686.1,104.3 686.7,105.6 685,106.9 683.7,108.2 692.6,109.5 686.5,110.8 688.1,112.1 690.7,113.4 689.7,114.7 693.2,116 692.8,117.3 692.1,118.6 695,119.9 693.9,121.2 695.9,122.5 695.6,123.8 696.4,125.1 694.5,126.4 694.6,127.7 696.8,129 699.1,130.3 696.1,131.6 700.1,132.9 697.6,134.2 698.7,135.5 699.3,136.8 700,138.1 700.9,139.4 701.7,140.7 700.8,142 701,143.3 701.4,144.6 702.2,145.9 698.2,147.2 696.8,148.5 693.3,149.8 688.1,151.1 682.1,152.4 682.2,153.7 687,155 689,156.3 687.6,157.6 691.3,158.9 692.8,160.2 691.5,161.5 688.2,162.8 689.4,164.1 690.9,165.4 692,166.7 688.8,168 688.7,169.3 689.7,170.6 692.2,171.9 692,173.2 694,174.5 693.4,175.8 693.1,177.1 690.8,178.4 693.2,179.7 690.4,181 691.8,182.3 688.8,183.6 686.4,184.9 687,186.2 687.7,187.5 686.5,188.8 684.4,190.1 686.4,191.4 687.7,192.7 689.6,194 688.8,195.3 689.4,196.6 690.4,197.9 694.6,199.2 696.9,200.5 694.2,201.8 691.8,203.1 693,204.4 693.3,205.7 695.6,207 694.3,208.3 693.2,209.6 695.7,210.9 697.3,212.2 698.2,213.5 698.2,214.8 697.6,216.1 698.8,217.4 694.6,218.7 694.2,220 690.6,221.3 690,222.6 689.5,223.9 693.5,225.2 695.5,226.5 694.2,227.8 696,229.1 696.6,230.4 698.5,231.7 694.5,233 693.1,234.3 696.7,235.6 692.6,236.9 691.5,238.2 693,239.5 691.2,240.8 691.8,242.1 689.6,243.4 695.2,244.7 693.1,246 690.9,247.3 692.7,248.6 692.7,249.9 695.8,251.2 697.2,252.5 694.4,253.8 693.1,255.1 694.7,256.4 695.9,257.7 697,259 696.2,260.3 696.3,261.6 693,262.9 694.4,264.2 694.6,265.5 695.1,266.8 695.8,268.1 692.8,269.4 691.6,270.7 692.4,272 693.1,273.3 693.8,274.6 692.8,275.9 692.8,277.2 699.4,278.5 697.3,279.8 695,281.1 695.7,282.4 696.6,283.7 697.6,285 698.8,286.3 698.3,287.6 699.9,288.9 697,290.2 695.9,291.5 694.3,292.8 694.1,294.1 696.2,295.4 695.9,296.7 698.4,298 698.4,299.3 697.3,300.6 705.6,301.9 698.9,303.2 698.3,304.5 699.7,305.8 698.2,307.1 699.8,308.4 701.4,309.7 701.9,311 707.1,312.3 704.8,313.6 707.1,314.9 702.8,316.2 702.9,317.5 707.1,318.8 701.7,320.1 701.3,321.4 701.1,322.7 701.5,324 701.9,325.3 701.4,326.6 700.7,327.9 699.5,329.2 701.1,330.5 699,331.8 699.2,333.1 700.1,334.4 702.6,335.7 703.3,337 703.1,338.3 701.5,339.6 704,340.9 699.3,342.2 704,343.5 698.4,344.8 699.8,346.1 702.6,347.4 700.7,348.7 701.3,350 700.8,351.3 700.4,352.6 699.5,353.9 698.2,355.2 700,356.5 701.3,357.8 700.4,359.1 698.3,360.4 704.8,361.7 699.6,363 697.6,364.3 699.6,365.6 701.2,366.9 702.5,368.2 702.2,369.5" fill="none" stroke="#1a1a1a" stroke-width="0.75" />
<polyline points="794.2,130 794.6,131.3 793.4,132.6 795.3,133.9 793.7,135.2 793.1,136.5 793.2,137.8 794.7,139.1 794.2,140.4 793.2,141.7 795.4,143 795.6,144.3 793.6,145.6 795.9,146.9 796.5,148.2 798.5,149.5 796.8,150.8 797.1,152.1 798.7,153.4 799.6,154.7 800.2,156 800.7,157.3 799.6,158.6 798.6,159.9 795.7,161.2 796.9,162.5 795.4,163.8 793.4,165.1 793,166.4 793.1,167.7 794.8,169 792.8,170.3 792.4,171.6 793.7,172.9 793.1,174.2 793.4,175.5 795.2,176.8 792.7,178.1 793.4,179.4 790.7,180.7 792.7,182 791.1,183.3 792.1,184.6 793.9,185.9 792.3,187.2 790.7,188.5 791.6,189.8 791.5,191.1 789.9,192.4 791.6,193.7 791.8,195 790.4,196.3 791.9,197.6 793.5,198.9 794.2,200.2 795.3,201.5 792.4,202.8 794.1,204.1 795.5,205.4 795.3,206.7 794.1,208 794.7,209.3 791.8,210.6 791.3,211.9 791,213.2 792.5,214.5 791.5,215.8 793.1,217.1 792.4,218.4 792.6,219.7 793.9,221 795.4,222.3 793.4,223.6 794.5,224.9 793,226.2 794.7,227.5 793.1,228.8 794.4,230.1 794.6,231.4 793.4,232.7 795.1,234 794.7,235.3 794.8,236.6 795.2,237.9 796,239.2 794,240.5 792.6,241.8 791.3,243.1 792.9,244.4 792.6,245.7 792.3,247 792.3,248.3 792.4,249.6 791.9,250.9 792.4,252.2 791.6,253.5 790.3,254.8 789.7,256.1 791,257.4 792,258.7 794,260 794.8,261.3 793.7,262.6 795.4,263.9 794.5,265.2 795.2,266.5 795.1,267.8 794.8,269.1 792.8,270.4 795.1,271.7 793.2,273 792.8,274.3 795.2,275.6 795.8,276.9 796.4,278.2 796.3,279.5 795.1,280.8 792.5,282.1 792.5,283.4 792.8,284.7 794.6,286 795.7,287.3 793.9,288.6 792.5,289.9 795,291.2 796.4,292.5 796.1,293.8 794,295.1 793.9,296.4 792.9,297.7 793.8,299 796.3,300.3 796.1,301.6 797.6,302.9 795.9,304.2 797.2,305.5 796,306.8 797.2,308.1 797,309.4 794.6,310.7 796.6,312 797.6,313.3 797.4,314.6 797.2,315.9 797.4,317.2 794,318.5 792.6,319.8 795.6,321.1 797.3,322.4 795.2,323.7 796.4,325 795.2,326.3 794.7,327.6 792.5,328.9 792,330.2 794.1,331.5 795.2,332.8 795.2,334.1 794.5,335.4 794.7,336.7 796.4,338 794.9,339.3 795.3,340.6 794.3,341.9 793.4,343.2 794.3,344.5 794.7,345.8 794,347.1 794.3,348.4 796.5,349.7 796.9,351 796.7,352.3 795,353.6 794.1,354.9 796.1,356.2 797.5,357.5 795,358.8 793.8,360.1 792.9,361.4 794.9,362.7 796.7,364 795.5,365.3 794.9,366.6 796.6,367.9 796.9,369.2" fill="none" stroke="#50c850" stroke-width="0.7" stroke-opacity="0.85"/>
<polyline points="822,90 822.3,91.3 822.3,92.6 824.4,93.9 822.8,95.2 827.2,96.5 828.4,97.8 830.1,99.1 829.7,100.4 830.7,101.7 830.1,103 829.2,104.3 825.5,105.6 829.5,106.9 827.5,108.2 830.2,109.5 831.9,110.8 834.2,112.1 830.4,113.4 830.8,114.7 828.6,116 826.6,117.3 832,118.6 827.5,119.9 829.1,121.2 828.8,122.5 828,123.8 828.8,125.1 831,126.4 832.9,127.7 831.7,129 827.9,130.3 831.4,131.6 827.5,132.9 829.5,134.2 831,135.5 830.4,136.8 829.6,138.1 828.7,139.4 822.9,140.7 824.8,142 825.7,143.3 821.9,144.6 821.9,145.9 822.8,147.2 821.7,148.5 820.2,149.8 819.6,151.1 821,152.4 821.4,153.7 821.2,155 823.9,156.3 819.6,157.6 820.1,158.9 824.7,160.2 826.4,161.5 827.3,162.8 826.3,164.1 825.3,165.4 825.4,166.7 821.5,168 824.4,169.3 824,170.6 818.8,171.9 827.3,173.2 818.8,174.5 822.7,175.8 820.8,177.1 824.8,178.4 817.7,179.7 817.8,181 815.8,182.3 818.9,183.6 815.6,184.9 817.5,186.2 814.1,187.5 812.8,188.8 813.9,190.1 814.8,191.4 814.5,192.7 816.7,194 817.1,195.3 818.1,196.6 820.8,197.9 822.3,199.2 823.3,200.5 825.4,201.8 821,203.1 820,204.4 819.4,205.7 820.2,207 818.5,208.3 823.1,209.6 823.2,210.9 822.1,212.2 821.3,213.5 819.4,214.8 819.1,216.1 822.8,217.4 823.8,218.7 823.7,220 821,221.3 819.7,222.6 816.8,223.9 819.3,225.2 816,226.5 817.6,227.8 814.9,229.1 816.8,230.4 813.7,231.7 818.8,233 820.2,234.3 817.4,235.6 816.4,236.9 815.6,238.2 818.2,239.5 819.4,240.8 817.5,242.1 817.5,243.4 814.6,244.7 816.2,246 819.2,247.3 821.6,248.6 817.5,249.9 815.8,251.2 817.9,252.5 817.7,253.8 815.2,255.1 816.5,256.4 814.8,257.7 819.7,259 815.7,260.3 815.8,261.6 817.4,262.9 815.8,264.2 821.4,265.5 824.2,266.8 823,268.1 819.4,269.4 818.4,270.7 816.9,272 819.5,273.3 820.8,274.6 819,275.9 819.3,277.2 817.7,278.5 815.8,279.8 821.6,281.1 821.1,282.4 820.2,283.7 820.1,285 820.8,286.3 824.1,287.6 821.2,288.9 825.4,290.2 825.1,291.5 821.7,292.8 822.2,294.1 829.1,295.4 823.6,296.7 826.4,298 828.7,299.3 829.5,300.6 827.8,301.9 830.3,303.2 825.1,304.5 824.9,305.8 828.4,307.1 827,308.4 827.9,309.7 828.2,311 828.3,312.3 831.6,313.6 827.3,314.9 824.3,316.2 824.5,317.5 822.6,318.8 821.2,320.1 824.3,321.4 826.2,322.7 824,324 823.9,325.3 824.9,326.6 824.5,327.9 823.9,329.2 825.6,330.5 826.7,331.8 828.8,333.1 827.1,334.4 824.6,335.7 833.2,337 825,338.3 828,339.6 827.8,340.9 827.3,342.2 827.3,343.5 824.8,344.8 821.2,346.1 821.2,347.4 821.1,348.7 823.1,350 821.7,351.3 825.4,352.6 823.3,353.9 822.2,355.2 821.5,356.5 825,357.8 829,359.1 829.4,360.4 830.7,361.7 830.4,363 825.6,364.3 824.5,365.6 828.6,366.9 824.8,368.2 821.2,369.5" fill="none" stroke="#1a1a1a" stroke-width="0.75" />
<polyline points="924.1,91 922.4,92.3 921.7,93.6 921.8,94.9 922.2,96.2 922.8,97.5 922,98.8 921.2,100.1 922.6,101.4 923.5,102.7 922.3,104 923.2,105.3 923,106.6 925,107.9 924.9,109.2 924.2,110.5 924.5,111.8 924.6,113.1 926.1,114.4 923.4,115.7 922.8,117 922.9,118.3 924.1,119.6 925.5,120.9 923.9,122.2 925.1,123.5 926.1,124.8 924.4,126.1 923.5,127.4 924.9,128.7 923.8,130 923.5,131.3 923.7,132.6 925.3,133.9 924.7,135.2 924.9,136.5 925.9,137.8 925.8,139.1 926.5,140.4 927.9,141.7 926.2,143 925.8,144.3 925.3,145.6 927.3,146.9 926.8,148.2 926.7,149.5 925.4,150.8 925.2,152.1 924.9,153.4 926.6,154.7 926.5,156 926.4,157.3 925,158.6 925.9,159.9 925.1,161.2 924.4,162.5 924.2,163.8 925.1,165.1 926.9,166.4 927.1,167.7 927.5,169 925.7,170.3 924.3,171.6 924.1,172.9 924.6,174.2 925.9,175.5 926.6,176.8 925.5,178.1 926.9,179.4 926.9,180.7 925.8,182 925.1,183.3 926.8,184.6 927.3,185.9 928,187.2 926.8,188.5 927.4,189.8 926.4,191.1 924.9,192.4 925.1,193.7 923.6,195 922.9,196.3 923.8,197.6 923.2,198.9 922.4,200.2 923.8,201.5 923.9,202.8 923.7,204.1 924.9,205.4 924,206.7 923.2,208 922.7,209.3 924.7,210.6 924.4,211.9 925.3,213.2 923.7,214.5 922.3,215.8 922.8,217.1 923.7,218.4 924,219.7 923.7,221 923.5,222.3 923.8,223.6 924.5,224.9 923,226.2 923.3,227.5 924.8,228.8 923.4,230.1 924.9,231.4 924.2,232.7 923.2,234 923.9,235.3 921.8,236.6 922.4,237.9 923.4,239.2 924.4,240.5 923,241.8 921.7,243.1 921.3,244.4 921.2,245.7 921.6,247 922.9,248.3 923.6,249.6 924.2,250.9 924.3,252.2 923.7,253.5 924.6,254.8 924.3,256.1 923.9,257.4 922.1,258.7 920.5,260 922.2,261.3 923.7,262.6 923.6,263.9 923.5,265.2 923.5,266.5 923.5,267.8 921.2,269.1 922.1,270.4 922.2,271.7 921,273 922.5,274.3 924.2,275.6 925.4,276.9 922.5,278.2 922.7,279.5 921.4,280.8 921.4,282.1 922.7,283.4 922,284.7 921.4,286 921.1,287.3 921.3,288.6 921.9,289.9 919.7,291.2 919.7,292.5 919.4,293.8 920.2,295.1 919.5,296.4 919,297.7 917.6,299 917.4,300.3 919.3,301.6 920.9,302.9 922.1,304.2 922.6,305.5 923.8,306.8 924.6,308.1 922.3,309.4 920.2,310.7 918.8,312 921.5,313.3 921.7,314.6 922.9,315.9 924.2,317.2 923.4,318.5 921.2,319.8 920.1,321.1 921.5,322.4 921.1,323.7 920.2,325 920.7,326.3 920.2,327.6 921.1,328.9 920.9,330.2 920.7,331.5 919.6,332.8 919.5,334.1 921.5,335.4 921,336.7 920.7,338 921.6,339.3 922.3,340.6 923.8,341.9 922.9,343.2 923.2,344.5 924.1,345.8 923.5,347.1 922.6,348.4 922.7,349.7 922.3,351 922,352.3 922.6,353.6 922.8,354.9 924.7,356.2 924.4,357.5 925.2,358.8 926.4,360.1 926.2,361.4 925.5,362.7 923.9,364 923.8,365.3 922.7,366.6 923.1,367.9 924.6,369.2" fill="none" stroke="#50c850" stroke-width="0.7" stroke-opacity="0.85"/>
<polyline points="947.6,91 946.5,92.3 945.2,93.6 944.5,94.9 948.2,96.2 946.3,97.5 946.1,98.8 947.9,100.1 948.7,101.4 951.3,102.7 953.5,104 955.7,105.3 955.3,106.6 953.7,107.9 952.8,109.2 948.8,110.5 950.4,111.8 953.4,113.1 950.1,114.4 953.3,115.7 953,117 949.8,118.3 954.1,119.6 951.9,120.9 955.3,122.2 949.9,123.5 948.6,124.8 950.6,126.1 949.9,127.4 951.4,128.7 951.7,130 955.9,131.3 956.1,132.6 953.5,133.9 955.4,135.2 956.2,136.5 955.3,137.8 954.6,139.1 958.6,140.4 958,141.7 955,143 956.3,144.3 959,145.6 956.8,146.9 958.1,148.2 962.1,149.5 957.9,150.8 956.2,152.1 957,153.4 956.1,154.7 956.1,156 956.3,157.3 957.5,158.6 959.7,159.9 958.3,161.2 957.6,162.5 959.1,163.8 958,165.1 960.5,166.4 957.2,167.7 956.7,169 963.8,170.3 958.8,171.6 958.6,172.9 957.5,174.2 957.1,175.5 959.2,176.8 954.6,178.1 957,179.4 955.3,180.7 957.1,182 953.1,183.3 955.9,184.6 954.2,185.9 952.6,187.2 951.4,188.5 953.9,189.8 953.2,191.1 951.8,192.4 953.2,193.7 951.3,195 949.7,196.3 952.3,197.6 949.5,198.9 946.2,200.2 951.6,201.5 951.8,202.8 953.6,204.1 953.1,205.4 954.4,206.7 950.8,208 950.6,209.3 955.2,210.6 954.3,211.9 952,213.2 949.3,214.5 948.8,215.8 951.3,217.1 954.2,218.4 950.8,219.7 951,221 953.6,222.3 952.2,223.6 948.5,224.9 951.8,226.2 949.1,227.5 948.6,228.8 948.5,230.1 950.2,231.4 950.9,232.7 950.8,234 950,235.3 947.7,236.6 946.4,237.9 949.5,239.2 951.4,240.5 951.5,241.8 954.5,243.1 951.3,244.4 952.3,245.7 952.2,247 950.5,248.3 949,249.6 946.9,250.9 945.8,252.2 944.7,253.5 945.2,254.8 947.5,256.1 952.4,257.4 955.8,258.7 953.4,260 955.6,261.3 958.8,262.6 955.1,263.9 957.3,265.2 955.9,266.5 957.3,267.8 954.6,269.1 954.6,270.4 952,271.7 950.5,273 956,274.3 955.2,275.6 951,276.9 951,278.2 949.3,279.5 948.6,280.8 953.2,282.1 955.8,283.4 960.1,284.7 956.2,286 958,287.3 960.8,288.6 961.7,289.9 956.9,291.2 958.7,292.5 954.9,293.8 959.2,295.1 960.5,296.4 961.8,297.7 958.4,299 956.6,300.3 960.6,301.6 956.8,302.9 957.1,304.2 959,305.5 959.1,306.8 959.9,308.1 958.3,309.4 956.5,310.7 951.7,312 948.6,313.3 950.8,314.6 950.5,315.9 954.4,317.2 958.1,318.5 957.3,319.8 956.8,321.1 954.6,322.4 956,323.7 953.5,325 950.3,326.3 952.5,327.6 954.2,328.9 951.8,330.2 951.7,331.5 953.4,332.8 953.7,334.1 953.7,335.4 952.9,336.7 951.5,338 951,339.3 954.1,340.6 953.7,341.9 950.6,343.2 952.7,344.5 950.9,345.8 955,347.1 954.8,348.4 956.1,349.7 953.7,351 956.2,352.3 956.2,353.6 957.4,354.9 951.1,356.2 948.3,357.5 952.1,358.8 953,360.1 953.8,361.4 953.3,362.7 953,364 955.2,365.3 954.4,366.6 952.2,367.9 949,369.2" fill="none" stroke="#1a1a1a" stroke-width="0.75" />
<polyline points="828,97 833.4,98 828,99.2" fill="none" stroke="#1a1a1a" stroke-width="0.7" />
<polyline points="828,101 833.5,102 828,103.2" fill="none" stroke="#1a1a1a" stroke-width="0.7" />
<polyline points="828,106 832.5,107 828,108.2" fill="none" stroke="#1a1a1a" stroke-width="0.7" />
<polyline points="828,110 831.8,111 828,112.2" fill="none" stroke="#1a1a1a" stroke-width="0.7" />
<polyline points="828,115 831,116 828,117.2" fill="none" stroke="#1a1a1a" stroke-width="0.7" />
<polyline points="828,120 833,121 828,122.2" fill="none" stroke="#1a1a1a" stroke-width="0.7" />
<polyline points="828,125 832.4,126 828,127.2" fill="none" stroke="#1a1a1a" stroke-width="0.7" />
<polyline points="165,200 179.5,199.3 173.7,201.5" fill="none" stroke="#60b0e0" stroke-width="0.6" />
<polyline points="165,203 184.1,202.1 176.5,204.5" fill="none" stroke="#60b0e0" stroke-width="0.6" />
<polyline points="165,207 182.5,206.7 175.5,208.5" fill="none" stroke="#60b0e0" stroke-width="0.6" />
<polyline points="165,210 175.8,210 171.5,211.5" fill="none" stroke="#60b0e0" stroke-width="0.6" />
<polyline points="165,214 175.5,213.9 171.3,215.5" fill="none" stroke="#60b0e0" stroke-width="0.6" />
<polyline points="165,219 176,218.2 171.6,220.5" fill="none" stroke="#60b0e0" stroke-width="0.6" />
<polyline points="165,222 180.9,222.7 174.6,223.5" fill="none" stroke="#60b0e0" stroke-width="0.6" />
<polyline points="422,205 433.7,204.4 429,206.5" fill="none" stroke="#60b0e0" stroke-width="0.6" />
<polyline points="422,210 440.8,210.9 433.3,211.5" fill="none" stroke="#60b0e0" stroke-width="0.6" />
<polyline points="422,216 440.1,215.8 432.8,217.5" fill="none" stroke="#60b0e0" stroke-width="0.6" />
<polyline points="809,125 832.7,124.1 823.2,126.5" fill="none" stroke="#60b0e0" stroke-width="0.6" />
<polyline points="809,128 831,127.6 822.2,129.5" fill="none" stroke="#60b0e0" stroke-width="0.6" />
<rect x="63.6" y="233.8" width="9.5" height="3.2" fill="#ffee00" />
<rect x="73.1" y="233.8" width="12.5" height="3.2" fill="#20a8b0" />
<rect x="63.6" y="293.8" width="9.5" height="6" fill="#ffee00" />
<rect x="73.1" y="293.8" width="12.5" height="6" fill="#1414d8" />
<rect x="63.6" y="347" width="9.5" height="2.5" fill="#ffee00" />
<rect x="73.1" y="347" width="12.5" height="2.5" fill="#20a8b0" />
<rect x="63.6" y="354.5" width="9.5" height="6.5" fill="#ffee00" />
<rect x="73.1" y="354.5" width="12.5" height="6.5" fill="#1414d8" />
<rect x="63.6" y="366.5" width="9.5" height="2.5" fill="#ffee00" />
<text x="68.6" y="258" font-size="2.6" fill="#222" text-anchor="middle">Clay</text>
<text x="79.1" y="258" font-size="2.6" fill="#222" text-anchor="middle">W</text>
<text x="68.6" y="354" font-size="2.6" fill="#222" text-anchor="middle">Clay</text>
<text x="79.1" y="354" font-size="2.6" fill="#222" text-anchor="middle">W</text>
<rect x="192" y="229.5" width="9.5" height="5.2" fill="#ffee00" />
<rect x="201.5" y="229.5" width="12.5" height="5.2" fill="#ee1010" />
<rect x="192" y="287.6" width="9.5" height="3.6" fill="#ffee00" />
<rect x="201.5" y="287.6" width="12.5" height="3.6" fill="#ee1010" />
<rect x="192" y="351.6" width="9.5" height="5.2" fill="#ffee00" />
<rect x="201.5" y="351.6" width="12.5" height="5.2" fill="#1414d8" />
<rect x="192" y="366.6" width="9.5" height="4.4" fill="#ffee00" />
<rect x="201.5" y="366.6" width="12.5" height="4.4" fill="#1414d8" />
<text x="197" y="115" font-size="2.6" fill="#222" text-anchor="middle">Clay</text>
<text x="207.5" y="115" font-size="2.6" fill="#222" text-anchor="middle">W</text>
<text x="197" y="255" font-size="2.6" fill="#222" text-anchor="middle">Clay</text>
<text x="207.5" y="255" font-size="2.6" fill="#222" text-anchor="middle">W</text>
<text x="197" y="316" font-size="2.6" fill="#222" text-anchor="middle">Clay</text>
<text x="207.5" y="316" font-size="2.6" fill="#222" text-anchor="middle">W</text>
<rect x="320.9" y="306" width="9.5" height="4" fill="#ffee00" />
<rect x="330.4" y="306" width="12.5" height="4" fill="#ee1010" />
<rect x="320.9" y="314" width="9.5" height="12" fill="#ffee00" />
<rect x="330.4" y="314" width="12.5" height="12" fill="#ee1010" />
<rect x="449" y="89.7" width="9.5" height="1.8" fill="#b0a020" />
<rect x="458.5" y="89.7" width="12.5" height="1.8" fill="#101090" />
<rect x="449" y="93" width="9.5" height="2.4" fill="#b0a020" />
<rect x="458.5" y="93" width="12.5" height="2.4" fill="#101090" />
<rect x="449" y="112" width="9.5" height="1.7" fill="#ffee00" />
<rect x="458.5" y="112" width="12.5" height="1.7" fill="#101090" />
<rect x="449" y="232.8" width="9.5" height="1.8" fill="#ffee00" />
<rect x="458.5" y="232.8" width="12.5" height="1.8" fill="#28b4ec" />
<rect x="449" y="289" width="9.5" height="3.4" fill="#ffee00" />
<rect x="458.5" y="289" width="12.5" height="3.4" fill="#ee1010" />
<rect x="449" y="355" width="9.5" height="5.8" fill="#ffee00" />
<rect x="458.5" y="355" width="12.5" height="5.8" fill="#1414d8" />
<rect x="449" y="363.2" width="9.5" height="1.6" fill="#ffee00" />
<rect x="458.5" y="363.2" width="12.5" height="1.6" fill="#101090" />
<rect x="449" y="366.8" width="9.5" height="2.7" fill="#ffee00" />
<rect x="458.5" y="366.8" width="12.5" height="2.7" fill="#101090" />
<text x="454" y="107" font-size="2.6" fill="#222" text-anchor="middle">Clay</text>
<text x="464.5" y="107" font-size="2.6" fill="#222" text-anchor="middle">W</text>
<text x="454" y="178" font-size="2.6" fill="#222" text-anchor="middle">Clay</text>
<text x="464.5" y="178" font-size="2.6" fill="#222" text-anchor="middle">W</text>
<text x="454" y="269" font-size="2.6" fill="#222" text-anchor="middle">Clay</text>
<text x="464.5" y="269" font-size="2.6" fill="#222" text-anchor="middle">W</text>
<text x="454" y="325" font-size="2.6" fill="#222" text-anchor="middle">Clay</text>
<text x="464.5" y="325" font-size="2.6" fill="#222" text-anchor="middle">W</text>
<rect x="578.5" y="183.7" width="9.5" height="2.3" fill="#ffee00" />
<rect x="588" y="183.7" width="12.5" height="2.3" fill="#20a8b0" />
<rect x="578.5" y="226" width="9.5" height="2.2" fill="#ffee00" />
<rect x="588" y="226" width="12.5" height="2.2" fill="#28b4ec" />
<rect x="578.5" y="229.5" width="9.5" height="2" fill="#ffee00" />
<rect x="588" y="229.5" width="12.5" height="2" fill="#ee1010" />
<rect x="588" y="231.5" width="12.5" height="13.1" fill="#ee1010" />
<rect x="578.5" y="235.5" width="9.5" height="2" fill="#ffee00" />
<rect x="578.5" y="242.5" width="9.5" height="2" fill="#ffee00" />
<rect x="578.5" y="292" width="9.5" height="2.5" fill="#b0a020" />
<rect x="588" y="292" width="12.5" height="2.5" fill="#1414d8" />
<rect x="588" y="294.5" width="12.5" height="2.5" fill="#1414d8" />
<rect x="578.5" y="296.7" width="9.5" height="2.1" fill="#ffee00" />
<rect x="588" y="296.7" width="12.5" height="2.1" fill="#101090" />
<rect x="588" y="300.9" width="12.5" height="1.6" fill="#1414d8" />
<rect x="578.5" y="303.7" width="9.5" height="6.3" fill="#ffee00" />
<rect x="588" y="303.7" width="12.5" height="6.3" fill="#1414d8" />
<text x="583.5" y="251" font-size="2.6" fill="#222" text-anchor="middle">Clay</text>
<text x="594" y="251" font-size="2.6" fill="#222" text-anchor="middle">W</text>
<text x="583.5" y="313" font-size="2.6" fill="#222" text-anchor="middle">Clay</text>
<text x="594" y="313" font-size="2.6" fill="#222" text-anchor="middle">W</text>
<rect x="707.1" y="154.2" width="9.5" height="3.4" fill="#ffee00" />
<rect x="716.6" y="154.2" width="12.5" height="3.4" fill="#ff90dc" />
<rect x="707.1" y="207.7" width="9.5" height="5.8" fill="#ffee00" />
<rect x="716.6" y="207.7" width="12.5" height="5.8" fill="#28b4ec" />
<rect x="707.1" y="214" width="9.5" height="1.4" fill="#ffee00" />
<rect x="716.6" y="214" width="12.5" height="1.4" fill="#101090" />
<rect x="707.1" y="216.9" width="9.5" height="6.5" fill="#ffee00" />
<rect x="716.6" y="216.9" width="12.5" height="6.5" fill="#ff90dc" />
<rect x="716.6" y="224.2" width="12.5" height="1" fill="#101090" />
<rect x="707.1" y="225.6" width="9.5" height="3" fill="#ffee00" />
<rect x="716.6" y="225.6" width="12.5" height="3" fill="#ff90dc" />
<rect x="707.1" y="282.5" width="9.5" height="16.8" fill="#ffee00" />
<rect x="716.6" y="282.5" width="12.5" height="16.8" fill="#28b4ec" />
<rect x="707.1" y="307.5" width="9.5" height="2.5" fill="#ffee00" />
<rect x="716.6" y="307.5" width="12.5" height="2.5" fill="#20a8b0" />
<rect x="707.1" y="312.5" width="9.5" height="5.1" fill="#ffee00" />
<rect x="716.6" y="312.5" width="12.5" height="5.1" fill="#28b4ec" />
<rect x="707.1" y="319" width="9.5" height="3.2" fill="#ffee00" />
<rect x="716.6" y="319" width="12.5" height="3.2" fill="#20a8b0" />
<rect x="716.6" y="324.6" width="12.5" height="1.9" fill="#20a8b0" />
<rect x="707.1" y="331.4" width="9.5" height="1.8" fill="#ffee00" />
<rect x="716.6" y="331.4" width="12.5" height="1.8" fill="#20a8b0" />
<rect x="707.1" y="335" width="9.5" height="3" fill="#ffee00" />
<rect x="716.6" y="335" width="12.5" height="3" fill="#101090" />
<rect x="716.6" y="338" width="12.5" height="2" fill="#101090" />
<rect x="707.1" y="340" width="9.5" height="2.3" fill="#ffee00" />
<rect x="716.6" y="340" width="12.5" height="2.3" fill="#101090" />
<text x="712.1" y="122" font-size="2.6" fill="#222" text-anchor="middle">Clay</text>
<text x="722.6" y="122" font-size="2.6" fill="#222" text-anchor="middle">W</text>
<text x="712.1" y="218" font-size="2.6" fill="#222" text-anchor="middle">Clay</text>
<text x="722.6" y="218" font-size="2.6" fill="#222" text-anchor="middle">W</text>
<text x="712.1" y="252" font-size="2.6" fill="#222" text-anchor="middle">Clay</text>
<text x="722.6" y="252" font-size="2.6" fill="#222" text-anchor="middle">W</text>
<rect x="836" y="140.6" width="9.5" height="1.6" fill="#ffee00" />
<rect x="845.5" y="140.6" width="12.5" height="1.6" fill="#20a8b0" />
<rect x="836" y="192" width="9.5" height="9.2" fill="#ffee00" />
<rect x="845.5" y="192" width="12.5" height="9.2" fill="#ee1010" />
<rect x="836" y="260.2" width="9.5" height="5.3" fill="#ffee00" />
<rect x="845.5" y="260.2" width="12.5" height="5.3" fill="#ee1010" />
<rect x="836" y="272" width="9.5" height="3" fill="#ffee00" />
<rect x="845.5" y="272" width="12.5" height="3" fill="#ee1010" />
<rect x="836" y="279.8" width="9.5" height="6.6" fill="#ffee00" />
<rect x="845.5" y="279.8" width="12.5" height="6.6" fill="#ee1010" />
<rect x="836" y="289" width="9.5" height="2.6" fill="#ffee00" />
<rect x="845.5" y="289" width="12.5" height="2.6" fill="#20a8b0" />
<text x="841" y="168" font-size="2.6" fill="#222" text-anchor="middle">Clay</text>
<text x="851.5" y="168" font-size="2.6" fill="#222" text-anchor="middle">W</text>
<text x="841" y="233" font-size="2.6" fill="#222" text-anchor="middle">Clay</text>
<text x="851.5" y="233" font-size="2.6" fill="#222" text-anchor="middle">W</text>
<text x="841" y="301" font-size="2.6" fill="#222" text-anchor="middle">Clay</text>
<text x="851.5" y="301" font-size="2.6" fill="#222" text-anchor="middle">W</text>
<rect x="965" y="235.4" width="9.5" height="2.6" fill="#ffee00" />
<rect x="974.5" y="235.4" width="12.5" height="2.6" fill="#ee1010" />
<rect x="965" y="239.5" width="9.5" height="3" fill="#ffee00" />
<rect x="974.5" y="239.5" width="12.5" height="3" fill="#ee1010" />
<rect x="965" y="244" width="9.5" height="7" fill="#ffee00" />
<rect x="974.5" y="244" width="12.5" height="7" fill="#ee1010" />
<rect x="965" y="321.6" width="9.5" height="3.9" fill="#ffee00" />
<rect x="965" y="356.9" width="9.5" height="3.9" fill="#ffee00" />
<rect x="974.5" y="356.9" width="12.5" height="3.9" fill="#101090" />
<text x="970" y="250" font-size="2.6" fill="#222" text-anchor="middle">Clay</text>
<text x="980.5" y="250" font-size="2.6" fill="#222" text-anchor="middle">W</text>
<text x="970" y="334" font-size="2.6" fill="#222" text-anchor="middle">Clay</text>
<text x="980.5" y="334" font-size="2.6" fill="#222" text-anchor="middle">W</text>
<rect x="87.7" y="288.6" width="22.3" height="7.4" fill="#f2dc96" stroke="#a88838" stroke-width="0.7"/>
<line x1="89" y1="290.9" x2="106.7" y2="290.9" stroke="#6a5828" stroke-width="1.0" stroke-dasharray="2 0.6"/>
<line x1="89" y1="293.9" x2="103.8" y2="293.9" stroke="#6a5828" stroke-width="1.0" stroke-dasharray="2 0.6"/>
<rect x="115.2" y="296.4" width="7.9" height="6.2" fill="#f2dc96" stroke="#a88838" stroke-width="0.7"/>
<line x1="116.5" y1="298.7" x2="121.3" y2="298.7" stroke="#6a5828" stroke-width="1.0" stroke-dasharray="2 0.6"/>
<rect x="217" y="227.4" width="19.4" height="6.6" fill="#f2dc96" stroke="#a88838" stroke-width="0.7"/>
<line x1="218.3" y1="229.7" x2="233.4" y2="229.7" stroke="#6a5828" stroke-width="1.0" stroke-dasharray="2 0.6"/>
<line x1="218.3" y1="232.7" x2="230.9" y2="232.7" stroke="#6a5828" stroke-width="1.0" stroke-dasharray="2 0.6"/>
<rect x="217.6" y="280.7" width="19.4" height="7.4" fill="#f2dc96" stroke="#a88838" stroke-width="0.7"/>
<line x1="218.9" y1="283" x2="234" y2="283" stroke="#6a5828" stroke-width="1.0" stroke-dasharray="2 0.6"/>
<line x1="218.9" y1="286" x2="231.5" y2="286" stroke="#6a5828" stroke-width="1.0" stroke-dasharray="2 0.6"/>
<rect x="244" y="228" width="7.5" height="6" fill="#f2dc96" stroke="#a88838" stroke-width="0.7"/>
<line x1="245.3" y1="230.3" x2="249.7" y2="230.3" stroke="#6a5828" stroke-width="1.0" stroke-dasharray="2 0.6"/>
<rect x="244" y="287.1" width="7.5" height="5.1" fill="#f2dc96" stroke="#a88838" stroke-width="0.7"/>
<line x1="245.3" y1="289.4" x2="249.7" y2="289.4" stroke="#6a5828" stroke-width="1.0" stroke-dasharray="2 0.6"/>
<rect x="344" y="308" width="22" height="9" fill="#f2dc96" stroke="#a88838" stroke-width="0.7"/>
<line x1="345.3" y1="310.3" x2="362.8" y2="310.3" stroke="#6a5828" stroke-width="1.0" stroke-dasharray="2 0.6"/>
<line x1="345.3" y1="313.3" x2="359.9" y2="313.3" stroke="#6a5828" stroke-width="1.0" stroke-dasharray="2 0.6"/>
<rect x="372.7" y="316" width="7.8" height="13" fill="#f2dc96" stroke="#a88838" stroke-width="0.7"/>
<line x1="374" y1="318.3" x2="378.7" y2="318.3" stroke="#6a5828" stroke-width="1.0" stroke-dasharray="2 0.6"/>
<line x1="374" y1="321.3" x2="377.9" y2="321.3" stroke="#6a5828" stroke-width="1.0" stroke-dasharray="2 0.6"/>
<line x1="374" y1="324.3" x2="378.7" y2="324.3" stroke="#6a5828" stroke-width="1.0" stroke-dasharray="2 0.6"/>
<line x1="374" y1="327.3" x2="377.9" y2="327.3" stroke="#6a5828" stroke-width="1.0" stroke-dasharray="2 0.6"/>
<rect x="473.5" y="230.7" width="22.7" height="7.9" fill="#f2dc96" stroke="#a88838" stroke-width="0.7"/>
<line x1="474.8" y1="233" x2="492.9" y2="233" stroke="#6a5828" stroke-width="1.0" stroke-dasharray="2 0.6"/>
<line x1="474.8" y1="236" x2="489.9" y2="236" stroke="#6a5828" stroke-width="1.0" stroke-dasharray="2 0.6"/>
<rect x="474" y="283.7" width="20.4" height="8.7" fill="#f2dc96" stroke="#a88838" stroke-width="0.7"/>
<line x1="475.3" y1="286" x2="491.3" y2="286" stroke="#6a5828" stroke-width="1.0" stroke-dasharray="2 0.6"/>
<line x1="475.3" y1="289" x2="488.6" y2="289" stroke="#6a5828" stroke-width="1.0" stroke-dasharray="2 0.6"/>
<rect x="730" y="209.8" width="24" height="16.2" fill="#f2dc96" stroke="#a88838" stroke-width="0.7"/>
<line x1="731.3" y1="212.1" x2="750.6" y2="212.1" stroke="#6a5828" stroke-width="1.0" stroke-dasharray="2 0.6"/>
<line x1="731.3" y1="215.1" x2="747.3" y2="215.1" stroke="#6a5828" stroke-width="1.0" stroke-dasharray="2 0.6"/>
<line x1="731.3" y1="218.1" x2="750.6" y2="218.1" stroke="#6a5828" stroke-width="1.0" stroke-dasharray="2 0.6"/>
<line x1="731.3" y1="221.1" x2="747.3" y2="221.1" stroke="#6a5828" stroke-width="1.0" stroke-dasharray="2 0.6"/>
<line x1="731.3" y1="224.1" x2="750.6" y2="224.1" stroke="#6a5828" stroke-width="1.0" stroke-dasharray="2 0.6"/>
<rect x="758.7" y="154" width="8.3" height="3.5" fill="#f2dc96" stroke="#a88838" stroke-width="0.7"/>
<line x1="760" y1="156.3" x2="765.1" y2="156.3" stroke="#6a5828" stroke-width="1.0" stroke-dasharray="2 0.6"/>
<rect x="758.7" y="209" width="8.3" height="4" fill="#f2dc96" stroke="#a88838" stroke-width="0.7"/>
<line x1="760" y1="211.3" x2="765.1" y2="211.3" stroke="#6a5828" stroke-width="1.0" stroke-dasharray="2 0.6"/>
<rect x="758.7" y="216" width="8.3" height="4" fill="#f2dc96" stroke="#a88838" stroke-width="0.7"/>
<line x1="760" y1="218.3" x2="765.1" y2="218.3" stroke="#6a5828" stroke-width="1.0" stroke-dasharray="2 0.6"/>
<rect x="758.7" y="221.5" width="8.3" height="4" fill="#f2dc96" stroke="#a88838" stroke-width="0.7"/>
<line x1="760" y1="223.8" x2="765.1" y2="223.8" stroke="#6a5828" stroke-width="1.0" stroke-dasharray="2 0.6"/>
<rect x="758.7" y="226.5" width="8.3" height="3" fill="#f2dc96" stroke="#a88838" stroke-width="0.7"/>
<line x1="760" y1="228.8" x2="765.1" y2="228.8" stroke="#6a5828" stroke-width="1.0" stroke-dasharray="2 0.6"/>
<rect x="859.3" y="192.8" width="23.5" height="12.8" fill="#f2dc96" stroke="#a88838" stroke-width="0.7"/>
<line x1="860.6" y1="195.1" x2="879.4" y2="195.1" stroke="#6a5828" stroke-width="1.0" stroke-dasharray="2 0.6"/>
<line x1="860.6" y1="198.1" x2="876.3" y2="198.1" stroke="#6a5828" stroke-width="1.0" stroke-dasharray="2 0.6"/>
<line x1="860.6" y1="201.1" x2="879.4" y2="201.1" stroke="#6a5828" stroke-width="1.0" stroke-dasharray="2 0.6"/>
<rect x="988.4" y="202.9" width="14.7" height="8.4" fill="#f2dc96" stroke="#a88838" stroke-width="0.7"/>
<line x1="989.7" y1="205.2" x2="1000.6" y2="205.2" stroke="#6a5828" stroke-width="1.0" stroke-dasharray="2 0.6"/>
<line x1="989.7" y1="208.2" x2="998.8" y2="208.2" stroke="#6a5828" stroke-width="1.0" stroke-dasharray="2 0.6"/>
<rect x="1016.7" y="246" width="7.8" height="4.5" fill="#f2dc96" stroke="#a88838" stroke-width="0.7"/>
<line x1="1018" y1="248.3" x2="1022.7" y2="248.3" stroke="#6a5828" stroke-width="1.0" stroke-dasharray="2 0.6"/>
<rect x="1016.7" y="236" width="7.8" height="4" fill="#f2dc96" stroke="#a88838" stroke-width="0.7"/>
<line x1="1018" y1="238.3" x2="1022.7" y2="238.3" stroke="#6a5828" stroke-width="1.0" stroke-dasharray="2 0.6"/>
<polyline points="-3.4,233.6 123.6,233.6 128.2,226.4 252,226.4 257.1,260.8 380.9,260.8 385.2,228.8 509,228.8 514.7,175.8 638.5,175.8 643.3,150.2 767.1,150.2 772.2,134.6 896,134.6 901.2,182.5 1026,182.5" fill="none" stroke="#2b4874" stroke-width="1.9" stroke-linejoin="round"/>
<polyline points="-3.4,276 123.6,276 128.2,266.7 252,266.7 257.1,299.2 380.9,299.2 385.2,270.8 509,270.8 514.7,221.9 638.5,221.9 643.3,197.3 767.1,197.3 772.2,178.4 896,178.4 901.2,231.7 1026,231.7" fill="none" stroke="#2b4874" stroke-width="1.9" stroke-linejoin="round"/>
<polyline points="-3.4,324.8 123.6,324.8 128.2,318.2 252,318.2 257.1,365.3 380.9,365.3 385.2,334.5 509,334.5 514.7,286.9 638.5,286.9 643.3,258.8 767.1,258.8 772.2,243.3 896,243.3 901.2,282.6 1026,282.6" fill="none" stroke="#2b4874" stroke-width="1.9" stroke-linejoin="round"/>
<rect x="525" y="339.2" width="113" height="36" fill="#ffffff" />
<rect x="600.2" y="317" width="37.5" height="22.2" fill="#ffffff" />
<line x1="600.2" y1="317" x2="600.2" y2="339.2" stroke="#707070" stroke-width="0.7" />
<line x1="600.2" y1="339.2" x2="638.5" y2="339.2" stroke="#707070" stroke-width="0.7" />
<line x1="-2" y1="236.6" x2="1054" y2="236.6" stroke="#0a0ae0" stroke-width="2.3" stroke-dasharray="17.7 6.3"/>
<line x1="-2" y1="294.6" x2="1054" y2="294.6" stroke="#0a0ae0" stroke-width="2.3" stroke-dasharray="17.7 6.3"/>
<line x1="-2.8" y1="327" x2="1054" y2="327" stroke="#0a0ae0" stroke-width="2.3" stroke-dasharray="17.7 6.3"/>
</svg>
<svg class="abs" style="left:900px;top:25px" width="100" height="36" viewBox="900 25 100 36">
<g fill="#151515">
<rect x="905.8" y="37.6" width="2.3" height="6" rx="1"/>
<path d="M909 35.2 q0 -0.8 1.1 -0.8 q1.2 0 1.2 0.8 v9 q0 2 1.2 3.4 l-0.6 0.5 q-2.9 -1.8 -2.9 -4.6z"/>
<rect x="912.4" y="31.5" width="2.1" height="12" rx="1"/>
<rect x="915.1" y="28.8" width="2.1" height="13.6" rx="1"/>
<rect x="917.9" y="31.5" width="2.1" height="12" rx="1"/>
<path d="M921.3 35.2 q0 -0.8 1.2 -0.8 q1.2 0 1.2 0.8 v7.6 q0 2.8 -2.9 4.4 l-0.5 -0.5 q1 -1.4 1 -3.1z"/>
<rect x="924.4" y="37.6" width="2.4" height="6.4" rx="1"/>
</g>
<path d="M911.9 42.2 L916.1 40.4 L920.1 42.2 V57 H911.9 Z" fill="#f4c800"/>
<rect x="915.1" y="40" width="2.1" height="2.6" fill="#151515"/>
<text x="924.1" y="57.2" font-family="Liberation Sans" font-weight="bold" font-size="8.9" fill="#151515" textLength="67.3" lengthAdjust="spacingAndGlyphs">РОСНЕФТЬ</text>
</svg>
<svg class="abs" style="left:0;top:0" width="1024" height="574" viewBox="0 0 1024 574"><text x="6.4" y="256.7" font-size="14.6" font-weight="bold" fill="#111" stroke="#111" stroke-width="0.35" textLength="17" lengthAdjust="spacingAndGlyphs">Ю</text>
<text x="23.6" y="261.4" font-size="12.2" font-weight="bold" fill="#111" stroke="#111" stroke-width="0.3">1</text>
<text x="29.0" y="252.6" font-size="8.4" font-weight="bold" fill="#111">1</text>
<text x="7.1" y="311.8" font-size="14.6" font-weight="bold" fill="#111" stroke="#111" stroke-width="0.35" textLength="17" lengthAdjust="spacingAndGlyphs">Ю</text>
<text x="25.0" y="317.7" font-size="12.2" font-weight="bold" fill="#111" stroke="#111" stroke-width="0.3">1</text>
<text x="31.2" y="307.9" font-size="8.6" font-weight="bold" fill="#111">2</text>
<text x="860.3" y="233.2" font-size="18.7" font-weight="bold" fill="#1818d0" stroke="#1818d0" stroke-width="0.25" textLength="121" lengthAdjust="spacingAndGlyphs">Ю1_1 -2946,6</text>
<text x="860.3" y="290.9" font-size="18.7" font-weight="bold" fill="#1818d0" stroke="#1818d0" stroke-width="0.25" textLength="151.5" lengthAdjust="spacingAndGlyphs">Ю1_2 -2967(р90)</text>
<text x="860.3" y="322.2" font-size="18.7" font-weight="bold" fill="#1818d0" stroke="#1818d0" stroke-width="0.25" textLength="172" lengthAdjust="spacingAndGlyphs">Ю1_2 -2978,1(р50)</text>
<rect x="-1" y="383.3" width="123" height="50.69999999999999" fill="#fff" stroke="#333" stroke-width="1.2"/>
<text x="49.6" y="398.6" font-size="11.9" font-weight="bold" fill="#111">Ю</text>
<text x="61.8" y="400.9" font-size="7.3" font-weight="bold" fill="#111">1</text>
<text x="66.0" y="395.0" font-size="7.3" font-weight="bold" fill="#111">2</text>
<text x="5.6" y="412.6" font-size="11.8" fill="#111" stroke="#111" stroke-width="0.22" text-anchor="start" >-2964,6 – -2969,6</text>
<text x="6.0" y="426.6" font-size="11.8" fill="#2424c4" stroke="#2424c4" stroke-width="0.22" text-anchor="start" >Вода 1.56 м3/сут</text>
<rect x="122" y="383.3" width="123.69999999999999" height="100.89999999999998" fill="#fff" stroke="#333" stroke-width="1.2"/>
<line x1="122" y1="434" x2="245.7" y2="434" stroke="#333" stroke-width="1.2"/>
<text x="174.4" y="398.6" font-size="11.9" font-weight="bold" fill="#111">Ю</text>
<text x="186.6" y="400.9" font-size="7.3" font-weight="bold" fill="#111">1</text>
<text x="190.8" y="395.0" font-size="7.3" font-weight="bold" fill="#111">1</text>
<text x="130" y="412.6" font-size="11.8" fill="#111" stroke="#111" stroke-width="0.22" text-anchor="start" >-2943,4 – -2946,4</text>
<text x="130" y="426.4" font-size="11.8" fill="#c41c1c" stroke="#c41c1c" stroke-width="0.22" text-anchor="start" >Нефть 2.0 м3/сут</text>
<text x="174.4" y="448.6" font-size="11.9" font-weight="bold" fill="#111">Ю</text>
<text x="186.6" y="450.9" font-size="7.3" font-weight="bold" fill="#111">1</text>
<text x="190.8" y="445.0" font-size="7.3" font-weight="bold" fill="#111">2</text>
<text x="130" y="462.6" font-size="11.8" fill="#111" stroke="#111" stroke-width="0.22" text-anchor="start" >-2960,4 – -2966,4</text>
<text x="130" y="476.4" font-size="11.8" fill="#c41c1c" stroke="#c41c1c" stroke-width="0.22" text-anchor="start" >Нефть 6.0 м3/сут</text>
<rect x="249.8" y="382.7" width="132.39999999999998" height="85.90000000000003" fill="#fff" stroke="#333" stroke-width="1.2"/>
<text x="305.7" y="394.5" font-size="11.9" font-weight="bold" fill="#111">Ю</text>
<text x="317.9" y="396.8" font-size="7.3" font-weight="bold" fill="#111">1</text>
<text x="322.1" y="390.9" font-size="7.3" font-weight="bold" fill="#111">2</text>
<text x="315.8" y="408.5" font-size="11.8" fill="#2424c4" stroke="#2424c4" stroke-width="0.22" text-anchor="middle" >Вода 0.5 м3/сут</text>
<text x="315.8" y="422.5" font-size="11.8" fill="#2424c4" stroke="#2424c4" stroke-width="0.22" text-anchor="middle" >пленка нефти</text>
<text x="315.8" y="436.3" font-size="11.8" fill="#111" stroke="#111" stroke-width="0.22" text-anchor="middle" >после инетнсиф. и СКО</text>
<text x="315.8" y="450.6" font-size="11.8" fill="#111" stroke="#111" stroke-width="0.22" text-anchor="middle" >-2970,7 – -2976,7</text>
<text x="315.8" y="464.3" font-size="11.8" fill="#c41c1c" stroke="#c41c1c" stroke-width="0.22" text-anchor="middle" >Нефть 2,3м3/сут</text>
<rect x="386.3" y="382.6" width="124.39999999999998" height="100.89999999999998" fill="#fff" stroke="#333" stroke-width="1.2"/>
<line x1="386.3" y1="433.6" x2="510.7" y2="433.6" stroke="#333" stroke-width="1.2"/>
<text x="438.6" y="397.7" font-size="11.9" font-weight="bold" fill="#111">Ю</text>
<text x="450.8" y="400.0" font-size="7.3" font-weight="bold" fill="#111">1</text>
<text x="455.0" y="394.1" font-size="7.3" font-weight="bold" fill="#111">1</text>
<text x="394.8" y="412.9" font-size="11.8" fill="#111" stroke="#111" stroke-width="0.22" text-anchor="start" >-2945,3 – -2947,3</text>
<text x="395.0" y="426.4" font-size="11.8" fill="#c41c1c" stroke="#c41c1c" stroke-width="0.22" text-anchor="start" >Нефть 0.97 м3/сут</text>
<text x="438.6" y="448.6" font-size="11.9" font-weight="bold" fill="#111">Ю</text>
<text x="450.8" y="450.9" font-size="7.3" font-weight="bold" fill="#111">1</text>
<text x="455.0" y="445.0" font-size="7.3" font-weight="bold" fill="#111">2</text>
<text x="394.8" y="462.9" font-size="11.8" fill="#111" stroke="#111" stroke-width="0.22" text-anchor="start" >-2962,3 – -2967,3</text>
<text x="395.0" y="476.4" font-size="11.8" fill="#c41c1c" stroke="#c41c1c" stroke-width="0.22" text-anchor="start" >Нефть 3.4 м3/сут</text>
<rect x="640" y="375.6" width="124.5" height="78.5" fill="#fff" stroke="#333" stroke-width="1.2"/>
<text x="692.4" y="390.7" font-size="11.9" font-weight="bold" fill="#111">Ю</text>
<text x="704.6" y="393.0" font-size="7.3" font-weight="bold" fill="#111">1</text>
<text x="708.8" y="387.1" font-size="7.3" font-weight="bold" fill="#111">2</text>
<text x="648.0" y="405.1" font-size="11.8" fill="#111" stroke="#111" stroke-width="0.22" text-anchor="start" >-2936,8 – -2944,3</text>
<text x="648.2" y="418.8" font-size="11.8" fill="#111" stroke="#111" stroke-width="0.22" text-anchor="start" >Газ 15м3/сут</text>
<text x="648.2" y="432.8" font-size="11.8" fill="#c41c1c" stroke="#c41c1c" stroke-width="0.22" text-anchor="start" >Нефть 67,2м3/сут</text>
<text x="648.2" y="446.9" font-size="11.8" fill="#2424c4" stroke="#2424c4" stroke-width="0.22" text-anchor="start" >Вода 28,8м3/сут</text>
<rect x="773.4" y="367.3" width="124.20000000000005" height="64.89999999999998" fill="none" stroke="#333" stroke-width="1.2"/>
<text x="825.5" y="382.5" font-size="11.9" font-weight="bold" fill="#111">Ю</text>
<text x="837.7" y="384.8" font-size="7.3" font-weight="bold" fill="#111">1</text>
<text x="841.9" y="378.9" font-size="7.3" font-weight="bold" fill="#111">2</text>
<text x="781.2" y="396.5" font-size="11.8" fill="#111" stroke="#111" stroke-width="0.22" text-anchor="start" >-2929,7 – -2938,7</text>
<text x="781.6" y="410.4" font-size="11.8" fill="#111" stroke="#111" stroke-width="0.22" text-anchor="start" >Газ 1,3м3/сут</text>
<text x="781.6" y="424.7" font-size="11.8" fill="#c41c1c" stroke="#c41c1c" stroke-width="0.22" text-anchor="start" >Нефть 22,8м3/сут</text>
<rect x="897.4" y="364.8" width="122.89999999999998" height="36.19999999999999" fill="none" stroke="#333" stroke-width="1.2"/>
<text x="932.6" y="379.7" font-size="11.5" font-weight="bold" fill="#111">Ю</text>
<text x="944.8" y="382.0" font-size="7.3" font-weight="bold" fill="#111">1</text>
<text x="949.0" y="376.1" font-size="7.3" font-weight="bold" fill="#111">1</text>
<text x="955.4" y="379.7" font-size="11.5" font-weight="bold" fill="#111">+</text>
<text x="965.8" y="379.7" font-size="11.5" font-weight="bold" fill="#111">Ю</text>
<text x="978.0" y="382.0" font-size="7.3" font-weight="bold" fill="#111">1</text>
<text x="982.2" y="376.1" font-size="7.3" font-weight="bold" fill="#111">2</text>
<text x="906.6" y="393.2" font-size="11.8" fill="#2424c4" stroke="#2424c4" stroke-width="0.22" text-anchor="start" >ФБР</text>
<rect x="524.4" y="361.3" width="44.4" height="15" fill="#ff0000"/>
<text x="590.1" y="373.4" font-size="11.9" fill="#111" stroke="#111" stroke-width="0.22" text-anchor="start" >нефть</text>
<rect x="524.4" y="379.0" width="44.4" height="15" fill="#0000ee"/>
<text x="590.1" y="391.0" font-size="11.9" fill="#111" stroke="#111" stroke-width="0.22" text-anchor="start" >вода</text>
<rect x="524.4" y="397.3" width="44.4" height="15" fill="#20c0e6"/>
<text x="589.3" y="408.8" font-size="11.9" fill="#111" stroke="#111" stroke-width="0.22" text-anchor="start" >не ясно</text>
<rect x="524.4" y="415.5" width="44.4" height="15" fill="#ff90e0"/>
<text x="589.3" y="426.0" font-size="11.9" fill="#111" stroke="#111" stroke-width="0.22" text-anchor="start" >продукт</text>
<rect x="0" y="530.5" width="44" height="44" fill="#f8cb00"/>
<text x="20.5" y="556.8" font-size="12.5" fill="#fff8d0" text-anchor="middle">13</text>
<text x="38" y="507.0" font-size="14.6" fill="#1e1e1e" stroke="#1e1e1e" stroke-width="0.3" style="font-family:DejaVu Sans Condensed,DejaVu Sans,sans-serif" textLength="834.0" lengthAdjust="spacingAndGlyphs">УПУ (ВНК) Ю<tspan font-size="10" dy="3" font-weight="bold">1</tspan><tspan font-size="10" dy="-8">1</tspan><tspan dy="5"> принят по подошве испытанного коллектора в скв.92R на отметке </tspan><tspan font-weight="bold">-2946,6м</tspan> (получено 0,97м3/сут нефти)</text>
<text x="38" y="524.6" font-size="14.6" fill="#1e1e1e" stroke="#1e1e1e" stroke-width="0.3" style="font-family:DejaVu Sans Condensed,DejaVu Sans,sans-serif" textLength="770.0" lengthAdjust="spacingAndGlyphs">УПУ Ю<tspan font-size="10" dy="3" font-weight="bold">1</tspan><tspan font-size="10" dy="-8">2</tspan><tspan dy="5"> </tspan><tspan font-weight="bold">в варианте р50</tspan> принят по подошве вскрытого коллектора в скв.114R на отметке <tspan font-weight="bold">-2978,1м</tspan> (получено</text>
<text x="38" y="542.4" font-size="14.6" fill="#1e1e1e" stroke="#1e1e1e" stroke-width="0.3" style="font-family:DejaVu Sans Condensed,DejaVu Sans,sans-serif" textLength="771.0" lengthAdjust="spacingAndGlyphs">2,3м3/сут нефти после СКО и вызова притока). Для варианта <tspan font-weight="bold">р90</tspan> в связи с полученной при испытании водой в</text>
<text x="38" y="560.2" font-size="14.6" fill="#1e1e1e" stroke="#1e1e1e" stroke-width="0.3" style="font-family:DejaVu Sans Condensed,DejaVu Sans,sans-serif" textLength="621.0" lengthAdjust="spacingAndGlyphs">скважины 257Р, ВНК принят по кровле водонасыщенного пропластка на отметке <tspan font-weight="bold">-2967м.</tspan></text><rect x="869.5" y="403.5" width="150" height="171" fill="#ffffff"/>
<rect x="877.5" y="406.3" width="137.5" height="149.2" fill="#3dcef2"/>
<path fill="#471ece" d="M949.5 548.8h3v1.6h-3zM951 550.3h1.5v1.6h-1.5z"/>
<path fill="#2424d4" d="M934.5 409.3h1.5v1.6h-1.5zM934.5 410.8h3v1.6h-3zM951 544.3h3v1.6h-3zM948 545.8h7.5v1.6h-7.5zM948 547.3h7.5v1.6h-7.5zM946.5 548.8h3v1.6h-3zM952.5 548.8h4.5v1.6h-4.5zM948 550.3h3v1.6h-3zM952.5 550.3h3v1.6h-3zM948 551.8h7.5v1.6h-7.5zM949.5 553.3h4.5v1.6h-4.5z"/>
<path fill="#2244df" d="M930 407.8h9v1.6h-9zM928.5 409.3h6v1.6h-6zM936 409.3h3v1.6h-3zM930 410.8h4.5v1.6h-4.5zM937.5 410.8h1.5v1.6h-1.5zM931.5 412.3h7.5v1.6h-7.5zM933 413.8h6v1.6h-6zM934.5 415.3h3v1.6h-3zM952.5 541.3h3v1.6h-3zM948 542.8h9v1.6h-9zM946.5 544.3h4.5v1.6h-4.5zM954 544.3h3v1.6h-3zM945 545.8h3v1.6h-3zM955.5 545.8h3v1.6h-3zM945 547.3h3v1.6h-3zM955.5 547.3h3v1.6h-3zM945 548.8h1.5v1.6h-1.5zM957 548.8h1.5v1.6h-1.5zM945 550.3h3v1.6h-3zM955.5 550.3h3v1.6h-3zM946.5 551.8h1.5v1.6h-1.5zM955.5 551.8h3v1.6h-3zM946.5 553.3h3v1.6h-3zM954 553.3h3v1.6h-3zM949.5 554.8h6v0.8h-6z"/>
<path fill="#2064ea" d="M919.5 406.3h19.5v1.6h-19.5zM880.5 407.8h3v1.6h-3zM919.5 407.8h10.5v1.6h-10.5zM939 407.8h1.5v1.6h-1.5zM879 409.3h6v1.6h-6zM921 409.3h7.5v1.6h-7.5zM939 409.3h1.5v1.6h-1.5zM877.5 410.8h7.5v1.6h-7.5zM922.5 410.8h7.5v1.6h-7.5zM939 410.8h3v1.6h-3zM879 412.3h4.5v1.6h-4.5zM928.5 412.3h3v1.6h-3zM939 412.3h3v1.6h-3zM930 413.8h3v1.6h-3zM939 413.8h1.5v1.6h-1.5zM931.5 415.3h3v1.6h-3zM937.5 415.3h3v1.6h-3zM933 416.8h6v1.6h-6zM1011 533.8h3v1.6h-3zM1011 535.3h4v1.6h-4zM1012.5 536.8h1.5v1.6h-1.5zM952.5 538.3h6v1.6h-6zM949.5 539.8h9v1.6h-9zM946.5 541.3h6v1.6h-6zM955.5 541.3h4.5v1.6h-4.5zM945 542.8h3v1.6h-3zM957 542.8h3v1.6h-3zM943.5 544.3h3v1.6h-3zM957 544.3h3v1.6h-3zM943.5 545.8h1.5v1.6h-1.5zM958.5 545.8h1.5v1.6h-1.5zM943.5 547.3h1.5v1.6h-1.5zM958.5 547.3h1.5v1.6h-1.5zM943.5 548.8h1.5v1.6h-1.5zM958.5 548.8h1.5v1.6h-1.5zM943.5 550.3h1.5v1.6h-1.5zM958.5 550.3h1.5v1.6h-1.5zM943.5 551.8h3v1.6h-3zM958.5 551.8h1.5v1.6h-1.5zM945 553.3h1.5v1.6h-1.5zM957 553.3h3v1.6h-3zM946.5 554.8h3v0.8h-3zM955.5 554.8h3v0.8h-3z"/>
<path fill="#2580ee" d="M879 406.3h6v1.6h-6zM916.5 406.3h3v1.6h-3zM939 406.3h3v1.6h-3zM877.5 407.8h3v1.6h-3zM883.5 407.8h3v1.6h-3zM918 407.8h1.5v1.6h-1.5zM940.5 407.8h1.5v1.6h-1.5zM877.5 409.3h1.5v1.6h-1.5zM885 409.3h1.5v1.6h-1.5zM918 409.3h3v1.6h-3zM940.5 409.3h3v1.6h-3zM885 410.8h1.5v1.6h-1.5zM919.5 410.8h3v1.6h-3zM942 410.8h1.5v1.6h-1.5zM877.5 412.3h1.5v1.6h-1.5zM883.5 412.3h3v1.6h-3zM921 412.3h7.5v1.6h-7.5zM942 412.3h1.5v1.6h-1.5zM877.5 413.8h7.5v1.6h-7.5zM927 413.8h3v1.6h-3zM940.5 413.8h3v1.6h-3zM879 415.3h3v1.6h-3zM930 415.3h1.5v1.6h-1.5zM940.5 415.3h1.5v1.6h-1.5zM931.5 416.8h1.5v1.6h-1.5zM939 416.8h3v1.6h-3zM931.5 418.3h9v1.6h-9zM934.5 419.8h3v1.6h-3zM880.5 469.3h1.5v1.6h-1.5zM879 470.8h4.5v1.6h-4.5zM879 472.3h3v1.6h-3zM1014 473.8h1v1.6h-1zM1012.5 475.3h2.5v1.6h-2.5zM1011 476.8h4v1.6h-4zM1011 478.3h4v1.6h-4zM906 517.3h3v1.6h-3zM906 518.8h3v1.6h-3zM906 520.3h3v1.6h-3zM906 521.8h3v1.6h-3zM904.5 523.3h4.5v1.6h-4.5zM904.5 524.8h3v1.6h-3zM904.5 526.3h3v1.6h-3zM916.5 526.3h3v1.6h-3zM918 527.8h1.5v1.6h-1.5zM1009.5 532.3h4.5v1.6h-4.5zM1009.5 533.8h1.5v1.6h-1.5zM1014 533.8h1v1.6h-1zM1009.5 535.3h1.5v1.6h-1.5zM951 536.8h9v1.6h-9zM1009.5 536.8h3v1.6h-3zM1014 536.8h1v1.6h-1zM946.5 538.3h6v1.6h-6zM958.5 538.3h3v1.6h-3zM1012.5 538.3h1.5v1.6h-1.5zM945 539.8h4.5v1.6h-4.5zM958.5 539.8h3v1.6h-3zM943.5 541.3h3v1.6h-3zM960 541.3h1.5v1.6h-1.5zM942 542.8h3v1.6h-3zM960 542.8h3v1.6h-3zM942 544.3h1.5v1.6h-1.5zM960 544.3h3v1.6h-3zM942 545.8h1.5v1.6h-1.5zM960 545.8h3v1.6h-3zM942 547.3h1.5v1.6h-1.5zM960 547.3h3v1.6h-3zM942 548.8h1.5v1.6h-1.5zM960 548.8h3v1.6h-3zM942 550.3h1.5v1.6h-1.5zM960 550.3h3v1.6h-3zM942 551.8h1.5v1.6h-1.5zM960 551.8h3v1.6h-3zM943.5 553.3h1.5v1.6h-1.5zM960 553.3h1.5v1.6h-1.5zM943.5 554.8h3v0.8h-3zM958.5 554.8h3v0.8h-3z"/>
<path fill="#2a9cf2" d="M877.5 406.3h1.5v1.6h-1.5zM885 406.3h3v1.6h-3zM915 406.3h1.5v1.6h-1.5zM942 406.3h1.5v1.6h-1.5zM886.5 407.8h1.5v1.6h-1.5zM915 407.8h3v1.6h-3zM942 407.8h1.5v1.6h-1.5zM886.5 409.3h3v1.6h-3zM898.5 409.3h3v1.6h-3zM916.5 409.3h1.5v1.6h-1.5zM943.5 409.3h1.5v1.6h-1.5zM886.5 410.8h3v1.6h-3zM897 410.8h4.5v1.6h-4.5zM916.5 410.8h3v1.6h-3zM943.5 410.8h1.5v1.6h-1.5zM886.5 412.3h1.5v1.6h-1.5zM898.5 412.3h3v1.6h-3zM918 412.3h3v1.6h-3zM943.5 412.3h1.5v1.6h-1.5zM885 413.8h3v1.6h-3zM919.5 413.8h7.5v1.6h-7.5zM943.5 413.8h1.5v1.6h-1.5zM877.5 415.3h1.5v1.6h-1.5zM882 415.3h4.5v1.6h-4.5zM925.5 415.3h4.5v1.6h-4.5zM942 415.3h3v1.6h-3zM879 416.8h4.5v1.6h-4.5zM928.5 416.8h3v1.6h-3zM942 416.8h1.5v1.6h-1.5zM930 418.3h1.5v1.6h-1.5zM940.5 418.3h3v1.6h-3zM930 419.8h4.5v1.6h-4.5zM937.5 419.8h4.5v1.6h-4.5zM931.5 421.3h7.5v1.6h-7.5zM877.5 467.8h7.5v1.6h-7.5zM877.5 469.3h3v1.6h-3zM882 469.3h4.5v1.6h-4.5zM877.5 470.8h1.5v1.6h-1.5zM883.5 470.8h1.5v1.6h-1.5zM1014 470.8h1v1.6h-1zM877.5 472.3h1.5v1.6h-1.5zM882 472.3h3v1.6h-3zM1011 472.3h4v1.6h-4zM877.5 473.8h7.5v1.6h-7.5zM1009.5 473.8h4.5v1.6h-4.5zM877.5 475.3h4.5v1.6h-4.5zM1006.5 475.3h6v1.6h-6zM1006.5 476.8h4.5v1.6h-4.5zM1005 478.3h6v1.6h-6zM1005 479.8h10v1.6h-10zM1006.5 481.3h8.5v1.6h-8.5zM1008 482.8h7v1.6h-7zM1009.5 484.3h3v1.6h-3zM879 487.3h3v1.6h-3zM877.5 488.8h6v1.6h-6zM877.5 490.3h6v1.6h-6zM877.5 491.8h4.5v1.6h-4.5zM1008 494.8h1.5v1.6h-1.5zM1005 496.3h7.5v1.6h-7.5zM1006.5 497.8h6v1.6h-6zM1008 499.3h3v1.6h-3zM904.5 512.8h3v1.6h-3zM903 514.3h7.5v1.6h-7.5zM903 515.8h7.5v1.6h-7.5zM903 517.3h3v1.6h-3zM909 517.3h3v1.6h-3zM903 518.8h3v1.6h-3zM909 518.8h3v1.6h-3zM903 520.3h3v1.6h-3zM909 520.3h3v1.6h-3zM901.5 521.8h4.5v1.6h-4.5zM909 521.8h3v1.6h-3zM901.5 523.3h3v1.6h-3zM909 523.3h4.5v1.6h-4.5zM916.5 523.3h1.5v1.6h-1.5zM900 524.8h4.5v1.6h-4.5zM907.5 524.8h15v1.6h-15zM898.5 526.3h6v1.6h-6zM907.5 526.3h9v1.6h-9zM919.5 526.3h3v1.6h-3zM886.5 527.8h1.5v1.6h-1.5zM898.5 527.8h19.5v1.6h-19.5zM919.5 527.8h3v1.6h-3zM885 529.3h6v1.6h-6zM897 529.3h24v1.6h-24zM886.5 530.8h3v1.6h-3zM900 530.8h9v1.6h-9zM1008 530.8h6v1.6h-6zM1006.5 532.3h3v1.6h-3zM1014 532.3h1v1.6h-1zM954 533.8h4.5v1.6h-4.5zM1006.5 533.8h3v1.6h-3zM946.5 535.3h15v1.6h-15zM1008 535.3h1.5v1.6h-1.5zM943.5 536.8h7.5v1.6h-7.5zM960 536.8h3v1.6h-3zM1008 536.8h1.5v1.6h-1.5zM942 538.3h4.5v1.6h-4.5zM961.5 538.3h1.5v1.6h-1.5zM1009.5 538.3h3v1.6h-3zM1014 538.3h1v1.6h-1zM940.5 539.8h4.5v1.6h-4.5zM961.5 539.8h3v1.6h-3zM940.5 541.3h3v1.6h-3zM961.5 541.3h3v1.6h-3zM939 542.8h3v1.6h-3zM963 542.8h1.5v1.6h-1.5zM939 544.3h3v1.6h-3zM963 544.3h3v1.6h-3zM939 545.8h3v1.6h-3zM963 545.8h3v1.6h-3zM939 547.3h3v1.6h-3zM963 547.3h3v1.6h-3zM939 548.8h3v1.6h-3zM963 548.8h3v1.6h-3zM939 550.3h3v1.6h-3zM963 550.3h3v1.6h-3zM940.5 551.8h1.5v1.6h-1.5zM963 551.8h3v1.6h-3zM940.5 553.3h3v1.6h-3zM961.5 553.3h3v1.6h-3zM942 554.8h1.5v0.8h-1.5zM961.5 554.8h3v0.8h-3z"/>
<path fill="#2faff2" d="M888 406.3h1.5v1.6h-1.5zM897 406.3h6v1.6h-6zM913.5 406.3h1.5v1.6h-1.5zM943.5 406.3h1.5v1.6h-1.5zM888 407.8h3v1.6h-3zM895.5 407.8h7.5v1.6h-7.5zM913.5 407.8h1.5v1.6h-1.5zM943.5 407.8h3v1.6h-3zM889.5 409.3h1.5v1.6h-1.5zM895.5 409.3h3v1.6h-3zM901.5 409.3h3v1.6h-3zM913.5 409.3h3v1.6h-3zM945 409.3h1.5v1.6h-1.5zM889.5 410.8h3v1.6h-3zM894 410.8h3v1.6h-3zM901.5 410.8h3v1.6h-3zM915 410.8h1.5v1.6h-1.5zM945 410.8h1.5v1.6h-1.5zM888 412.3h4.5v1.6h-4.5zM894 412.3h4.5v1.6h-4.5zM901.5 412.3h3v1.6h-3zM915 412.3h3v1.6h-3zM945 412.3h1.5v1.6h-1.5zM888 413.8h3v1.6h-3zM895.5 413.8h9v1.6h-9zM916.5 413.8h3v1.6h-3zM945 413.8h1.5v1.6h-1.5zM886.5 415.3h3v1.6h-3zM898.5 415.3h3v1.6h-3zM918 415.3h7.5v1.6h-7.5zM945 415.3h1.5v1.6h-1.5zM877.5 416.8h1.5v1.6h-1.5zM883.5 416.8h3v1.6h-3zM921 416.8h7.5v1.6h-7.5zM943.5 416.8h3v1.6h-3zM877.5 418.3h6v1.6h-6zM925.5 418.3h4.5v1.6h-4.5zM943.5 418.3h1.5v1.6h-1.5zM927 419.8h3v1.6h-3zM942 419.8h3v1.6h-3zM928.5 421.3h3v1.6h-3zM939 421.3h4.5v1.6h-4.5zM928.5 422.8h13.5v1.6h-13.5zM931.5 424.3h7.5v1.6h-7.5zM916.5 434.8h6v1.6h-6zM916.5 436.3h6v1.6h-6zM916.5 437.8h6v1.6h-6zM916.5 439.3h4.5v1.6h-4.5zM888 440.8h4.5v1.6h-4.5zM888 442.3h4.5v1.6h-4.5zM889.5 443.8h3v1.6h-3zM880.5 464.8h4.5v1.6h-4.5zM877.5 466.3h9v1.6h-9zM885 467.8h3v1.6h-3zM886.5 469.3h1.5v1.6h-1.5zM1014 469.3h1v1.6h-1zM885 470.8h1.5v1.6h-1.5zM1009.5 470.8h4.5v1.6h-4.5zM885 472.3h1.5v1.6h-1.5zM1006.5 472.3h4.5v1.6h-4.5zM885 473.8h1.5v1.6h-1.5zM1005 473.8h4.5v1.6h-4.5zM882 475.3h3v1.6h-3zM1003.5 475.3h3v1.6h-3zM877.5 476.8h6v1.6h-6zM1002 476.8h4.5v1.6h-4.5zM877.5 478.3h4.5v1.6h-4.5zM1002 478.3h3v1.6h-3zM1002 479.8h3v1.6h-3zM1002 481.3h4.5v1.6h-4.5zM1003.5 482.8h4.5v1.6h-4.5zM879 484.3h1.5v1.6h-1.5zM1003.5 484.3h6v1.6h-6zM1012.5 484.3h2.5v1.6h-2.5zM877.5 485.8h6v1.6h-6zM1003.5 485.8h11.5v1.6h-11.5zM877.5 487.3h1.5v1.6h-1.5zM882 487.3h3v1.6h-3zM1005 487.3h10v1.6h-10zM883.5 488.8h1.5v1.6h-1.5zM1003.5 488.8h11.5v1.6h-11.5zM883.5 490.3h1.5v1.6h-1.5zM1003.5 490.3h11.5v1.6h-11.5zM882 491.8h3v1.6h-3zM1002 491.8h13v1.6h-13zM877.5 493.3h6v1.6h-6zM1002 493.3h13v1.6h-13zM877.5 494.8h4.5v1.6h-4.5zM1000.5 494.8h7.5v1.6h-7.5zM1009.5 494.8h5.5v1.6h-5.5zM1000.5 496.3h4.5v1.6h-4.5zM1012.5 496.3h2.5v1.6h-2.5zM1002 497.8h4.5v1.6h-4.5zM1012.5 497.8h2.5v1.6h-2.5zM1002 499.3h6v1.6h-6zM1011 499.3h4v1.6h-4zM1003.5 500.8h11.5v1.6h-11.5zM898.5 502.3h4.5v1.6h-4.5zM1005 502.3h10v1.6h-10zM897 503.8h7.5v1.6h-7.5zM1008 503.8h6v1.6h-6zM897 505.3h7.5v1.6h-7.5zM897 506.8h9v1.6h-9zM897 508.3h9v1.6h-9zM897 509.8h10.5v1.6h-10.5zM897 511.3h13.5v1.6h-13.5zM897 512.8h7.5v1.6h-7.5zM907.5 512.8h4.5v1.6h-4.5zM897 514.3h6v1.6h-6zM910.5 514.3h1.5v1.6h-1.5zM897 515.8h6v1.6h-6zM910.5 515.8h3v1.6h-3zM898.5 517.3h4.5v1.6h-4.5zM912 517.3h1.5v1.6h-1.5zM900 518.8h3v1.6h-3zM912 518.8h1.5v1.6h-1.5zM900 520.3h3v1.6h-3zM912 520.3h3v1.6h-3zM898.5 521.8h3v1.6h-3zM912 521.8h7.5v1.6h-7.5zM883.5 523.3h4.5v1.6h-4.5zM897 523.3h4.5v1.6h-4.5zM913.5 523.3h3v1.6h-3zM918 523.3h4.5v1.6h-4.5zM880.5 524.8h19.5v1.6h-19.5zM922.5 524.8h1.5v1.6h-1.5zM880.5 526.3h18v1.6h-18zM922.5 526.3h3v1.6h-3zM879 527.8h7.5v1.6h-7.5zM888 527.8h10.5v1.6h-10.5zM922.5 527.8h1.5v1.6h-1.5zM879 529.3h6v1.6h-6zM891 529.3h6v1.6h-6zM921 529.3h3v1.6h-3zM1006.5 529.3h7.5v1.6h-7.5zM879 530.8h7.5v1.6h-7.5zM889.5 530.8h10.5v1.6h-10.5zM909 530.8h13.5v1.6h-13.5zM1005 530.8h3v1.6h-3zM1014 530.8h1v1.6h-1zM879 532.3h36v1.6h-36zM952.5 532.3h9v1.6h-9zM1005 532.3h1.5v1.6h-1.5zM880.5 533.8h28.5v1.6h-28.5zM943.5 533.8h10.5v1.6h-10.5zM958.5 533.8h4.5v1.6h-4.5zM1005 533.8h1.5v1.6h-1.5zM882 535.3h9v1.6h-9zM942 535.3h4.5v1.6h-4.5zM961.5 535.3h3v1.6h-3zM1006.5 535.3h1.5v1.6h-1.5zM940.5 536.8h3v1.6h-3zM963 536.8h1.5v1.6h-1.5zM1006.5 536.8h1.5v1.6h-1.5zM939 538.3h3v1.6h-3zM963 538.3h3v1.6h-3zM1008 538.3h1.5v1.6h-1.5zM936 539.8h4.5v1.6h-4.5zM964.5 539.8h1.5v1.6h-1.5zM1009.5 539.8h5.5v1.6h-5.5zM934.5 541.3h6v1.6h-6zM964.5 541.3h3v1.6h-3zM934.5 542.8h4.5v1.6h-4.5zM964.5 542.8h3v1.6h-3zM934.5 544.3h4.5v1.6h-4.5zM966 544.3h1.5v1.6h-1.5zM934.5 545.8h4.5v1.6h-4.5zM966 545.8h1.5v1.6h-1.5zM934.5 547.3h4.5v1.6h-4.5zM966 547.3h3v1.6h-3zM936 548.8h3v1.6h-3zM966 548.8h3v1.6h-3zM936 550.3h3v1.6h-3zM966 550.3h3v1.6h-3zM936 551.8h4.5v1.6h-4.5zM966 551.8h1.5v1.6h-1.5zM937.5 553.3h3v1.6h-3zM964.5 553.3h3v1.6h-3zM939 554.8h3v0.8h-3zM964.5 554.8h3v0.8h-3z"/>
<path fill="#34c2f2" d="M889.5 406.3h7.5v1.6h-7.5zM903 406.3h3v1.6h-3zM910.5 406.3h3v1.6h-3zM945 406.3h3v1.6h-3zM972 406.3h9v1.6h-9zM891 407.8h4.5v1.6h-4.5zM903 407.8h3v1.6h-3zM910.5 407.8h3v1.6h-3zM946.5 407.8h1.5v1.6h-1.5zM970.5 407.8h9v1.6h-9zM891 409.3h4.5v1.6h-4.5zM904.5 409.3h3v1.6h-3zM910.5 409.3h3v1.6h-3zM946.5 409.3h3v1.6h-3zM969 409.3h9v1.6h-9zM892.5 410.8h1.5v1.6h-1.5zM904.5 410.8h3v1.6h-3zM912 410.8h3v1.6h-3zM946.5 410.8h3v1.6h-3zM969 410.8h9v1.6h-9zM892.5 412.3h1.5v1.6h-1.5zM904.5 412.3h3v1.6h-3zM912 412.3h3v1.6h-3zM946.5 412.3h3v1.6h-3zM969 412.3h7.5v1.6h-7.5zM891 413.8h4.5v1.6h-4.5zM904.5 413.8h3v1.6h-3zM912 413.8h4.5v1.6h-4.5zM946.5 413.8h3v1.6h-3zM970.5 413.8h6v1.6h-6zM889.5 415.3h9v1.6h-9zM901.5 415.3h6v1.6h-6zM913.5 415.3h4.5v1.6h-4.5zM946.5 415.3h3v1.6h-3zM970.5 415.3h4.5v1.6h-4.5zM886.5 416.8h6v1.6h-6zM895.5 416.8h12v1.6h-12zM913.5 416.8h7.5v1.6h-7.5zM946.5 416.8h1.5v1.6h-1.5zM972 416.8h1.5v1.6h-1.5zM883.5 418.3h6v1.6h-6zM900 418.3h7.5v1.6h-7.5zM915 418.3h10.5v1.6h-10.5zM945 418.3h3v1.6h-3zM877.5 419.8h9v1.6h-9zM901.5 419.8h9v1.6h-9zM918 419.8h9v1.6h-9zM945 419.8h1.5v1.6h-1.5zM877.5 421.3h6v1.6h-6zM903 421.3h7.5v1.6h-7.5zM919.5 421.3h9v1.6h-9zM943.5 421.3h3v1.6h-3zM903 422.8h9v1.6h-9zM921 422.8h7.5v1.6h-7.5zM942 422.8h3v1.6h-3zM904.5 424.3h6v1.6h-6zM922.5 424.3h9v1.6h-9zM939 424.3h6v1.6h-6zM906 425.8h4.5v1.6h-4.5zM922.5 425.8h21v1.6h-21zM922.5 427.3h19.5v1.6h-19.5zM919.5 428.8h21v1.6h-21zM916.5 430.3h10.5v1.6h-10.5zM915 431.8h12v1.6h-12zM913.5 433.3h13.5v1.6h-13.5zM913.5 434.8h3v1.6h-3zM922.5 434.8h4.5v1.6h-4.5zM913.5 436.3h3v1.6h-3zM922.5 436.3h4.5v1.6h-4.5zM888 437.8h3v1.6h-3zM913.5 437.8h3v1.6h-3zM922.5 437.8h4.5v1.6h-4.5zM886.5 439.3h7.5v1.6h-7.5zM913.5 439.3h3v1.6h-3zM921 439.3h6v1.6h-6zM886.5 440.8h1.5v1.6h-1.5zM892.5 440.8h3v1.6h-3zM913.5 440.8h12v1.6h-12zM885 442.3h3v1.6h-3zM892.5 442.3h4.5v1.6h-4.5zM915 442.3h9v1.6h-9zM886.5 443.8h3v1.6h-3zM892.5 443.8h7.5v1.6h-7.5zM918 443.8h3v1.6h-3zM886.5 445.3h13.5v1.6h-13.5zM888 446.8h13.5v1.6h-13.5zM888 448.3h13.5v1.6h-13.5zM889.5 449.8h10.5v1.6h-10.5zM889.5 451.3h10.5v1.6h-10.5zM891 452.8h7.5v1.6h-7.5zM891 454.3h7.5v1.6h-7.5zM892.5 455.8h4.5v1.6h-4.5zM892.5 457.3h3v1.6h-3zM946.5 458.8h1.5v1.6h-1.5zM945 460.3h1.5v1.6h-1.5zM943.5 461.8h3v1.6h-3zM877.5 463.3h10.5v1.6h-10.5zM943.5 463.3h1.5v1.6h-1.5zM877.5 464.8h3v1.6h-3zM885 464.8h4.5v1.6h-4.5zM942 464.8h3v1.6h-3zM886.5 466.3h3v1.6h-3zM942 466.3h1.5v1.6h-1.5zM888 467.8h1.5v1.6h-1.5zM888 469.3h1.5v1.6h-1.5zM1006.5 469.3h7.5v1.6h-7.5zM886.5 470.8h1.5v1.6h-1.5zM1003.5 470.8h6v1.6h-6zM886.5 472.3h1.5v1.6h-1.5zM1002 472.3h4.5v1.6h-4.5zM886.5 473.8h1.5v1.6h-1.5zM1000.5 473.8h4.5v1.6h-4.5zM885 475.3h1.5v1.6h-1.5zM999 475.3h4.5v1.6h-4.5zM883.5 476.8h3v1.6h-3zM999 476.8h3v1.6h-3zM882 478.3h3v1.6h-3zM997.5 478.3h4.5v1.6h-4.5zM877.5 479.8h6v1.6h-6zM997.5 479.8h4.5v1.6h-4.5zM877.5 481.3h6v1.6h-6zM999 481.3h3v1.6h-3zM877.5 482.8h6v1.6h-6zM999 482.8h4.5v1.6h-4.5zM877.5 484.3h1.5v1.6h-1.5zM880.5 484.3h4.5v1.6h-4.5zM999 484.3h4.5v1.6h-4.5zM883.5 485.8h3v1.6h-3zM1000.5 485.8h3v1.6h-3zM885 487.3h1.5v1.6h-1.5zM1000.5 487.3h4.5v1.6h-4.5zM885 488.8h1.5v1.6h-1.5zM999 488.8h4.5v1.6h-4.5zM885 490.3h1.5v1.6h-1.5zM999 490.3h4.5v1.6h-4.5zM885 491.8h1.5v1.6h-1.5zM999 491.8h3v1.6h-3zM883.5 493.3h3v1.6h-3zM999 493.3h3v1.6h-3zM882 494.8h3v1.6h-3zM999 494.8h1.5v1.6h-1.5zM877.5 496.3h6v1.6h-6zM999 496.3h1.5v1.6h-1.5zM877.5 497.8h4.5v1.6h-4.5zM898.5 497.8h7.5v1.6h-7.5zM999 497.8h3v1.6h-3zM877.5 499.3h1.5v1.6h-1.5zM895.5 499.3h12v1.6h-12zM999 499.3h3v1.6h-3zM895.5 500.8h12v1.6h-12zM1000.5 500.8h3v1.6h-3zM894 502.3h4.5v1.6h-4.5zM903 502.3h6v1.6h-6zM1002 502.3h3v1.6h-3zM894 503.8h3v1.6h-3zM904.5 503.8h4.5v1.6h-4.5zM1003.5 503.8h4.5v1.6h-4.5zM1014 503.8h1v1.6h-1zM894 505.3h3v1.6h-3zM904.5 505.3h4.5v1.6h-4.5zM1005 505.3h10v1.6h-10zM894 506.8h3v1.6h-3zM906 506.8h4.5v1.6h-4.5zM1006.5 506.8h8.5v1.6h-8.5zM894 508.3h3v1.6h-3zM906 508.3h4.5v1.6h-4.5zM1009.5 508.3h5.5v1.6h-5.5zM894 509.8h3v1.6h-3zM907.5 509.8h4.5v1.6h-4.5zM894 511.3h3v1.6h-3zM910.5 511.3h3v1.6h-3zM894 512.8h3v1.6h-3zM912 512.8h1.5v1.6h-1.5zM894 514.3h3v1.6h-3zM912 514.3h3v1.6h-3zM894 515.8h3v1.6h-3zM913.5 515.8h1.5v1.6h-1.5zM894 517.3h4.5v1.6h-4.5zM913.5 517.3h3v1.6h-3zM882 518.8h4.5v1.6h-4.5zM895.5 518.8h4.5v1.6h-4.5zM913.5 518.8h4.5v1.6h-4.5zM879 520.3h12v1.6h-12zM895.5 520.3h4.5v1.6h-4.5zM915 520.3h6v1.6h-6zM877.5 521.8h21v1.6h-21zM919.5 521.8h4.5v1.6h-4.5zM877.5 523.3h6v1.6h-6zM888 523.3h9v1.6h-9zM922.5 523.3h3v1.6h-3zM877.5 524.8h3v1.6h-3zM924 524.8h3v1.6h-3zM877.5 526.3h3v1.6h-3zM925.5 526.3h3v1.6h-3zM1006.5 526.3h4.5v1.6h-4.5zM877.5 527.8h1.5v1.6h-1.5zM924 527.8h4.5v1.6h-4.5zM1005 527.8h9v1.6h-9zM877.5 529.3h1.5v1.6h-1.5zM924 529.3h4.5v1.6h-4.5zM954 529.3h10.5v1.6h-10.5zM1003.5 529.3h3v1.6h-3zM1014 529.3h1v1.6h-1zM877.5 530.8h1.5v1.6h-1.5zM922.5 530.8h7.5v1.6h-7.5zM940.5 530.8h25.5v1.6h-25.5zM1003.5 530.8h1.5v1.6h-1.5zM877.5 532.3h1.5v1.6h-1.5zM915 532.3h16.5v1.6h-16.5zM940.5 532.3h12v1.6h-12zM961.5 532.3h4.5v1.6h-4.5zM1003.5 532.3h1.5v1.6h-1.5zM877.5 533.8h3v1.6h-3zM909 533.8h24v1.6h-24zM939 533.8h4.5v1.6h-4.5zM963 533.8h3v1.6h-3zM1003.5 533.8h1.5v1.6h-1.5zM877.5 535.3h4.5v1.6h-4.5zM891 535.3h24v1.6h-24zM924 535.3h10.5v1.6h-10.5zM937.5 535.3h4.5v1.6h-4.5zM964.5 535.3h3v1.6h-3zM1005 535.3h1.5v1.6h-1.5zM877.5 536.8h19.5v1.6h-19.5zM925.5 536.8h15v1.6h-15zM964.5 536.8h3v1.6h-3zM1005 536.8h1.5v1.6h-1.5zM877.5 538.3h15v1.6h-15zM925.5 538.3h13.5v1.6h-13.5zM966 538.3h1.5v1.6h-1.5zM1006.5 538.3h1.5v1.6h-1.5zM879 539.8h10.5v1.6h-10.5zM925.5 539.8h10.5v1.6h-10.5zM966 539.8h3v1.6h-3zM1006.5 539.8h3v1.6h-3zM925.5 541.3h9v1.6h-9zM967.5 541.3h1.5v1.6h-1.5zM1008 541.3h7v1.6h-7zM925.5 542.8h9v1.6h-9zM967.5 542.8h1.5v1.6h-1.5zM1011 542.8h4v1.6h-4zM927 544.3h7.5v1.6h-7.5zM967.5 544.3h3v1.6h-3zM927 545.8h7.5v1.6h-7.5zM967.5 545.8h3v1.6h-3zM927 547.3h7.5v1.6h-7.5zM969 547.3h1.5v1.6h-1.5zM928.5 548.8h7.5v1.6h-7.5zM969 548.8h1.5v1.6h-1.5zM928.5 550.3h7.5v1.6h-7.5zM969 550.3h1.5v1.6h-1.5zM930 551.8h6v1.6h-6zM967.5 551.8h3v1.6h-3zM930 553.3h7.5v1.6h-7.5zM967.5 553.3h3v1.6h-3zM885 554.8h7.5v0.8h-7.5zM900 554.8h7.5v0.8h-7.5zM931.5 554.8h7.5v0.8h-7.5zM967.5 554.8h1.5v0.8h-1.5z"/>
<path fill="#46daf2" d="M979.5 407.8h1.5v1.6h-1.5zM954 413.8h4.5v1.6h-4.5zM952.5 415.3h9v1.6h-9zM975 415.3h1.5v1.6h-1.5zM952.5 416.8h10.5v1.6h-10.5zM951 418.3h12v1.6h-12zM949.5 419.8h4.5v1.6h-4.5zM960 419.8h4.5v1.6h-4.5zM972 419.8h1.5v1.6h-1.5zM892.5 421.3h3v1.6h-3zM949.5 421.3h3v1.6h-3zM960 421.3h4.5v1.6h-4.5zM889.5 422.8h7.5v1.6h-7.5zM948 422.8h4.5v1.6h-4.5zM960 422.8h4.5v1.6h-4.5zM886.5 424.3h12v1.6h-12zM948 424.3h4.5v1.6h-4.5zM958.5 424.3h4.5v1.6h-4.5zM969 424.3h1.5v1.6h-1.5zM885 425.8h15v1.6h-15zM948 425.8h6v1.6h-6zM957 425.8h6v1.6h-6zM882 427.3h10.5v1.6h-10.5zM895.5 427.3h6v1.6h-6zM948 427.3h13.5v1.6h-13.5zM967.5 427.3h1.5v1.6h-1.5zM880.5 428.8h9v1.6h-9zM897 428.8h6v1.6h-6zM948 428.8h12v1.6h-12zM880.5 430.3h7.5v1.6h-7.5zM898.5 430.3h6v1.6h-6zM949.5 430.3h7.5v1.6h-7.5zM879 431.8h9v1.6h-9zM900 431.8h6v1.6h-6zM964.5 431.8h1.5v1.6h-1.5zM879 433.3h12v1.6h-12zM900 433.3h7.5v1.6h-7.5zM879 434.8h30v1.6h-30zM879 436.3h7.5v1.6h-7.5zM892.5 436.3h15v1.6h-15zM961.5 436.3h1.5v1.6h-1.5zM879 437.8h4.5v1.6h-4.5zM895.5 437.8h12v1.6h-12zM880.5 439.3h1.5v1.6h-1.5zM903 439.3h3v1.6h-3zM958.5 440.8h1.5v1.6h-1.5zM879 443.8h1.5v1.6h-1.5zM877.5 445.3h3v1.6h-3zM955.5 445.3h1.5v1.6h-1.5zM877.5 446.8h4.5v1.6h-4.5zM877.5 448.3h6v1.6h-6zM912 448.3h4.5v1.6h-4.5zM954 448.3h1.5v1.6h-1.5zM877.5 449.8h6v1.6h-6zM909 449.8h16.5v1.6h-16.5zM877.5 451.3h7.5v1.6h-7.5zM906 451.3h21v1.6h-21zM877.5 452.8h7.5v1.6h-7.5zM904.5 452.8h24v1.6h-24zM951 452.8h1.5v1.6h-1.5zM877.5 454.3h9v1.6h-9zM904.5 454.3h10.5v1.6h-10.5zM918 454.3h12v1.6h-12zM877.5 455.8h9v1.6h-9zM903 455.8h7.5v1.6h-7.5zM921 455.8h10.5v1.6h-10.5zM949.5 455.8h1.5v1.6h-1.5zM877.5 457.3h9v1.6h-9zM901.5 457.3h7.5v1.6h-7.5zM922.5 457.3h9v1.6h-9zM877.5 458.8h7.5v1.6h-7.5zM900 458.8h6v1.6h-6zM924 458.8h7.5v1.6h-7.5zM948 458.8h1.5v1.6h-1.5zM877.5 460.3h1.5v1.6h-1.5zM898.5 460.3h4.5v1.6h-4.5zM924 460.3h9v1.6h-9zM948 460.3h1.5v1.6h-1.5zM895.5 461.8h6v1.6h-6zM907.5 461.8h4.5v1.6h-4.5zM924 461.8h10.5v1.6h-10.5zM894 463.3h4.5v1.6h-4.5zM907.5 463.3h6v1.6h-6zM924 463.3h12v1.6h-12zM946.5 463.3h1.5v1.6h-1.5zM892.5 464.8h3v1.6h-3zM907.5 464.8h6v1.6h-6zM924 464.8h13.5v1.6h-13.5zM946.5 464.8h3v1.6h-3zM1003.5 464.8h11.5v1.6h-11.5zM891 466.3h3v1.6h-3zM909 466.3h4.5v1.6h-4.5zM922.5 466.3h15v1.6h-15zM945 466.3h4.5v1.6h-4.5zM1000.5 466.3h9v1.6h-9zM1014 466.3h1v1.6h-1zM891 467.8h1.5v1.6h-1.5zM921 467.8h16.5v1.6h-16.5zM945 467.8h4.5v1.6h-4.5zM999 467.8h4.5v1.6h-4.5zM918 469.3h21v1.6h-21zM943.5 469.3h6v1.6h-6zM997.5 469.3h3v1.6h-3zM889.5 470.8h1.5v1.6h-1.5zM915 470.8h24v1.6h-24zM942 470.8h7.5v1.6h-7.5zM996 470.8h3v1.6h-3zM889.5 472.3h1.5v1.6h-1.5zM912 472.3h25.5v1.6h-25.5zM939 472.3h10.5v1.6h-10.5zM994.5 472.3h4.5v1.6h-4.5zM888 473.8h1.5v1.6h-1.5zM912 473.8h13.5v1.6h-13.5zM931.5 473.8h6v1.6h-6zM939 473.8h9v1.6h-9zM993 473.8h4.5v1.6h-4.5zM888 475.3h1.5v1.6h-1.5zM910.5 475.3h13.5v1.6h-13.5zM937.5 475.3h9v1.6h-9zM991.5 475.3h4.5v1.6h-4.5zM888 476.8h1.5v1.6h-1.5zM910.5 476.8h13.5v1.6h-13.5zM936 476.8h9v1.6h-9zM991.5 476.8h4.5v1.6h-4.5zM886.5 478.3h3v1.6h-3zM909 478.3h22.5v1.6h-22.5zM936 478.3h7.5v1.6h-7.5zM991.5 478.3h3v1.6h-3zM886.5 479.8h3v1.6h-3zM909 479.8h24v1.6h-24zM934.5 479.8h9v1.6h-9zM991.5 479.8h3v1.6h-3zM886.5 481.3h3v1.6h-3zM909 481.3h36v1.6h-36zM991.5 481.3h3v1.6h-3zM886.5 482.8h4.5v1.6h-4.5zM909 482.8h36v1.6h-36zM991.5 482.8h3v1.6h-3zM888 484.3h3v1.6h-3zM907.5 484.3h39v1.6h-39zM991.5 484.3h4.5v1.6h-4.5zM888 485.8h4.5v1.6h-4.5zM907.5 485.8h39v1.6h-39zM993 485.8h3v1.6h-3zM888 487.3h4.5v1.6h-4.5zM904.5 487.3h18v1.6h-18zM931.5 487.3h16.5v1.6h-16.5zM993 487.3h3v1.6h-3zM889.5 488.8h31.5v1.6h-31.5zM933 488.8h15v1.6h-15zM993 488.8h3v1.6h-3zM889.5 490.3h30v1.6h-30zM933 490.3h16.5v1.6h-16.5zM993 490.3h3v1.6h-3zM888 491.8h15v1.6h-15zM912 491.8h7.5v1.6h-7.5zM934.5 491.8h15v1.6h-15zM993 491.8h3v1.6h-3zM888 493.3h9v1.6h-9zM913.5 493.3h4.5v1.6h-4.5zM934.5 493.3h6v1.6h-6zM946.5 493.3h3v1.6h-3zM994.5 493.3h1.5v1.6h-1.5zM888 494.8h7.5v1.6h-7.5zM913.5 494.8h4.5v1.6h-4.5zM934.5 494.8h6v1.6h-6zM948 494.8h3v1.6h-3zM994.5 494.8h1.5v1.6h-1.5zM886.5 496.3h7.5v1.6h-7.5zM913.5 496.3h4.5v1.6h-4.5zM933 496.3h6v1.6h-6zM949.5 496.3h1.5v1.6h-1.5zM994.5 496.3h1.5v1.6h-1.5zM886.5 497.8h6v1.6h-6zM913.5 497.8h4.5v1.6h-4.5zM933 497.8h6v1.6h-6zM949.5 497.8h3v1.6h-3zM994.5 497.8h3v1.6h-3zM885 499.3h6v1.6h-6zM913.5 499.3h4.5v1.6h-4.5zM933 499.3h4.5v1.6h-4.5zM949.5 499.3h3v1.6h-3zM996 499.3h1.5v1.6h-1.5zM885 500.8h4.5v1.6h-4.5zM913.5 500.8h4.5v1.6h-4.5zM933 500.8h4.5v1.6h-4.5zM951 500.8h1.5v1.6h-1.5zM996 500.8h1.5v1.6h-1.5zM883.5 502.3h6v1.6h-6zM913.5 502.3h4.5v1.6h-4.5zM931.5 502.3h6v1.6h-6zM951 502.3h3v1.6h-3zM996 502.3h3v1.6h-3zM883.5 503.8h4.5v1.6h-4.5zM913.5 503.8h4.5v1.6h-4.5zM931.5 503.8h6v1.6h-6zM951 503.8h3v1.6h-3zM997.5 503.8h1.5v1.6h-1.5zM882 505.3h6v1.6h-6zM913.5 505.3h4.5v1.6h-4.5zM930 505.3h7.5v1.6h-7.5zM951 505.3h3v1.6h-3zM997.5 505.3h3v1.6h-3zM880.5 506.8h7.5v1.6h-7.5zM913.5 506.8h6v1.6h-6zM928.5 506.8h3v1.6h-3zM951 506.8h3v1.6h-3zM997.5 506.8h4.5v1.6h-4.5zM879 508.3h9v1.6h-9zM915 508.3h4.5v1.6h-4.5zM927 508.3h3v1.6h-3zM937.5 508.3h4.5v1.6h-4.5zM949.5 508.3h4.5v1.6h-4.5zM999 508.3h3v1.6h-3zM880.5 509.8h6v1.6h-6zM915 509.8h4.5v1.6h-4.5zM927 509.8h3v1.6h-3zM936 509.8h18v1.6h-18zM999 509.8h4.5v1.6h-4.5zM916.5 511.3h4.5v1.6h-4.5zM927 511.3h3v1.6h-3zM934.5 511.3h6v1.6h-6zM946.5 511.3h9v1.6h-9zM999 511.3h4.5v1.6h-4.5zM916.5 512.8h4.5v1.6h-4.5zM927 512.8h10.5v1.6h-10.5zM949.5 512.8h6v1.6h-6zM1000.5 512.8h4.5v1.6h-4.5zM918 514.3h18v1.6h-18zM951 514.3h6v1.6h-6zM1000.5 514.3h4.5v1.6h-4.5zM918 515.8h18v1.6h-18zM951 515.8h6v1.6h-6zM1000.5 515.8h6v1.6h-6zM919.5 517.3h16.5v1.6h-16.5zM951 517.3h6v1.6h-6zM1000.5 517.3h6v1.6h-6zM922.5 518.8h13.5v1.6h-13.5zM951 518.8h6v1.6h-6zM1000.5 518.8h6v1.6h-6zM927 520.3h10.5v1.6h-10.5zM949.5 520.3h7.5v1.6h-7.5zM1000.5 520.3h6v1.6h-6zM931.5 521.8h7.5v1.6h-7.5zM949.5 521.8h7.5v1.6h-7.5zM1000.5 521.8h6v1.6h-6zM1014 521.8h1v1.6h-1zM936 523.3h6v1.6h-6zM948 523.3h10.5v1.6h-10.5zM1000.5 523.3h4.5v1.6h-4.5zM1012.5 523.3h2.5v1.6h-2.5zM939 524.8h15v1.6h-15zM955.5 524.8h12v1.6h-12zM1000.5 524.8h3v1.6h-3zM1014 524.8h1v1.6h-1zM943.5 526.3h9v1.6h-9zM966 526.3h3v1.6h-3zM1000.5 526.3h3v1.6h-3zM967.5 527.8h1.5v1.6h-1.5zM1000.5 527.8h1.5v1.6h-1.5zM967.5 529.3h1.5v1.6h-1.5zM1000.5 529.3h1.5v1.6h-1.5zM967.5 530.8h1.5v1.6h-1.5zM1000.5 530.8h1.5v1.6h-1.5zM967.5 532.3h1.5v1.6h-1.5zM1000.5 532.3h1.5v1.6h-1.5zM969 533.8h1.5v1.6h-1.5zM1000.5 533.8h1.5v1.6h-1.5zM969 535.3h1.5v1.6h-1.5zM1000.5 535.3h3v1.6h-3zM969 536.8h3v1.6h-3zM1002 536.8h1.5v1.6h-1.5zM904.5 538.3h6v1.6h-6zM970.5 538.3h1.5v1.6h-1.5zM1002 538.3h1.5v1.6h-1.5zM897 539.8h21v1.6h-21zM970.5 539.8h1.5v1.6h-1.5zM1002 539.8h3v1.6h-3zM895.5 541.3h9v1.6h-9zM910.5 541.3h9v1.6h-9zM970.5 541.3h3v1.6h-3zM1003.5 541.3h3v1.6h-3zM894 542.8h7.5v1.6h-7.5zM913.5 542.8h6v1.6h-6zM972 542.8h1.5v1.6h-1.5zM1003.5 542.8h3v1.6h-3zM892.5 544.3h7.5v1.6h-7.5zM915 544.3h6v1.6h-6zM972 544.3h1.5v1.6h-1.5zM1005 544.3h3v1.6h-3zM892.5 545.8h7.5v1.6h-7.5zM915 545.8h6v1.6h-6zM972 545.8h1.5v1.6h-1.5zM1005 545.8h6v1.6h-6zM892.5 547.3h10.5v1.6h-10.5zM913.5 547.3h7.5v1.6h-7.5zM972 547.3h1.5v1.6h-1.5zM1005 547.3h10v1.6h-10zM877.5 548.8h1.5v1.6h-1.5zM894 548.8h25.5v1.6h-25.5zM972 548.8h1.5v1.6h-1.5zM1006.5 548.8h8.5v1.6h-8.5zM877.5 550.3h4.5v1.6h-4.5zM897 550.3h22.5v1.6h-22.5zM972 550.3h1.5v1.6h-1.5zM1006.5 550.3h8.5v1.6h-8.5zM877.5 551.8h4.5v1.6h-4.5zM910.5 551.8h6v1.6h-6zM972 551.8h1.5v1.6h-1.5zM1008 551.8h7v1.6h-7zM877.5 553.3h4.5v1.6h-4.5zM972 553.3h1.5v1.6h-1.5zM1008 553.3h7v1.6h-7zM877.5 554.8h3v0.8h-3zM972 554.8h1.5v0.8h-1.5zM1011 554.8h3v0.8h-3z"/>
<path fill="#52e0eb" d="M981 406.3h1.5v1.6h-1.5zM978 410.8h1.5v1.6h-1.5zM954 419.8h6v1.6h-6zM952.5 421.3h7.5v1.6h-7.5zM952.5 422.8h7.5v1.6h-7.5zM970.5 422.8h1.5v1.6h-1.5zM952.5 424.3h6v1.6h-6zM954 425.8h3v1.6h-3zM892.5 427.3h3v1.6h-3zM889.5 428.8h7.5v1.6h-7.5zM888 430.3h10.5v1.6h-10.5zM966 430.3h1.5v1.6h-1.5zM888 431.8h12v1.6h-12zM891 433.3h9v1.6h-9zM963 434.8h1.5v1.6h-1.5zM957 443.8h1.5v1.6h-1.5zM952.5 451.3h1.5v1.6h-1.5zM915 454.3h3v1.6h-3zM951 454.3h1.5v1.6h-1.5zM910.5 455.8h10.5v1.6h-10.5zM909 457.3h13.5v1.6h-13.5zM949.5 457.3h1.5v1.6h-1.5zM906 458.8h18v1.6h-18zM903 460.3h21v1.6h-21zM1005 460.3h10v1.6h-10zM901.5 461.8h6v1.6h-6zM912 461.8h12v1.6h-12zM948 461.8h3v1.6h-3zM1000.5 461.8h14.5v1.6h-14.5zM898.5 463.3h9v1.6h-9zM913.5 463.3h10.5v1.6h-10.5zM948 463.3h3v1.6h-3zM1000.5 463.3h14.5v1.6h-14.5zM895.5 464.8h4.5v1.6h-4.5zM904.5 464.8h3v1.6h-3zM913.5 464.8h10.5v1.6h-10.5zM949.5 464.8h1.5v1.6h-1.5zM999 464.8h4.5v1.6h-4.5zM894 466.3h3v1.6h-3zM906 466.3h3v1.6h-3zM913.5 466.3h9v1.6h-9zM949.5 466.3h1.5v1.6h-1.5zM997.5 466.3h3v1.6h-3zM892.5 467.8h1.5v1.6h-1.5zM906 467.8h15v1.6h-15zM949.5 467.8h3v1.6h-3zM994.5 467.8h4.5v1.6h-4.5zM891 469.3h3v1.6h-3zM907.5 469.3h10.5v1.6h-10.5zM949.5 469.3h3v1.6h-3zM991.5 469.3h6v1.6h-6zM891 470.8h1.5v1.6h-1.5zM907.5 470.8h7.5v1.6h-7.5zM949.5 470.8h1.5v1.6h-1.5zM990 470.8h6v1.6h-6zM891 472.3h1.5v1.6h-1.5zM907.5 472.3h4.5v1.6h-4.5zM949.5 472.3h1.5v1.6h-1.5zM988.5 472.3h6v1.6h-6zM889.5 473.8h1.5v1.6h-1.5zM907.5 473.8h4.5v1.6h-4.5zM948 473.8h3v1.6h-3zM988.5 473.8h4.5v1.6h-4.5zM889.5 475.3h1.5v1.6h-1.5zM906 475.3h4.5v1.6h-4.5zM946.5 475.3h3v1.6h-3zM988.5 475.3h3v1.6h-3zM889.5 476.8h1.5v1.6h-1.5zM906 476.8h4.5v1.6h-4.5zM945 476.8h4.5v1.6h-4.5zM988.5 476.8h3v1.6h-3zM889.5 478.3h1.5v1.6h-1.5zM904.5 478.3h4.5v1.6h-4.5zM943.5 478.3h6v1.6h-6zM988.5 478.3h3v1.6h-3zM889.5 479.8h3v1.6h-3zM904.5 479.8h4.5v1.6h-4.5zM943.5 479.8h4.5v1.6h-4.5zM988.5 479.8h3v1.6h-3zM889.5 481.3h4.5v1.6h-4.5zM903 481.3h6v1.6h-6zM945 481.3h4.5v1.6h-4.5zM988.5 481.3h3v1.6h-3zM891 482.8h6v1.6h-6zM901.5 482.8h7.5v1.6h-7.5zM945 482.8h4.5v1.6h-4.5zM988.5 482.8h3v1.6h-3zM891 484.3h16.5v1.6h-16.5zM946.5 484.3h3v1.6h-3zM990 484.3h1.5v1.6h-1.5zM892.5 485.8h15v1.6h-15zM946.5 485.8h3v1.6h-3zM990 485.8h3v1.6h-3zM892.5 487.3h12v1.6h-12zM922.5 487.3h9v1.6h-9zM948 487.3h3v1.6h-3zM990 487.3h3v1.6h-3zM921 488.8h12v1.6h-12zM948 488.8h3v1.6h-3zM990 488.8h3v1.6h-3zM919.5 490.3h13.5v1.6h-13.5zM949.5 490.3h1.5v1.6h-1.5zM990 490.3h3v1.6h-3zM919.5 491.8h4.5v1.6h-4.5zM927 491.8h7.5v1.6h-7.5zM949.5 491.8h3v1.6h-3zM991.5 491.8h1.5v1.6h-1.5zM918 493.3h4.5v1.6h-4.5zM928.5 493.3h6v1.6h-6zM949.5 493.3h3v1.6h-3zM991.5 493.3h3v1.6h-3zM918 494.8h3v1.6h-3zM930 494.8h4.5v1.6h-4.5zM951 494.8h1.5v1.6h-1.5zM991.5 494.8h3v1.6h-3zM918 496.3h3v1.6h-3zM930 496.3h3v1.6h-3zM951 496.3h3v1.6h-3zM991.5 496.3h3v1.6h-3zM918 497.8h3v1.6h-3zM930 497.8h3v1.6h-3zM952.5 497.8h1.5v1.6h-1.5zM993 497.8h1.5v1.6h-1.5zM918 499.3h3v1.6h-3zM930 499.3h3v1.6h-3zM952.5 499.3h1.5v1.6h-1.5zM993 499.3h3v1.6h-3zM918 500.8h3v1.6h-3zM928.5 500.8h4.5v1.6h-4.5zM952.5 500.8h3v1.6h-3zM993 500.8h3v1.6h-3zM918 502.3h4.5v1.6h-4.5zM928.5 502.3h3v1.6h-3zM954 502.3h1.5v1.6h-1.5zM994.5 502.3h1.5v1.6h-1.5zM918 503.8h6v1.6h-6zM925.5 503.8h6v1.6h-6zM954 503.8h3v1.6h-3zM994.5 503.8h3v1.6h-3zM918 505.3h12v1.6h-12zM954 505.3h3v1.6h-3zM994.5 505.3h3v1.6h-3zM919.5 506.8h9v1.6h-9zM954 506.8h3v1.6h-3zM996 506.8h1.5v1.6h-1.5zM919.5 508.3h7.5v1.6h-7.5zM954 508.3h4.5v1.6h-4.5zM996 508.3h3v1.6h-3zM919.5 509.8h7.5v1.6h-7.5zM954 509.8h4.5v1.6h-4.5zM996 509.8h3v1.6h-3zM921 511.3h6v1.6h-6zM940.5 511.3h6v1.6h-6zM955.5 511.3h4.5v1.6h-4.5zM996 511.3h3v1.6h-3zM921 512.8h6v1.6h-6zM937.5 512.8h12v1.6h-12zM955.5 512.8h6v1.6h-6zM997.5 512.8h3v1.6h-3zM936 514.3h4.5v1.6h-4.5zM946.5 514.3h4.5v1.6h-4.5zM957 514.3h4.5v1.6h-4.5zM997.5 514.3h3v1.6h-3zM936 515.8h3v1.6h-3zM948 515.8h3v1.6h-3zM957 515.8h4.5v1.6h-4.5zM997.5 515.8h3v1.6h-3zM936 517.3h3v1.6h-3zM948 517.3h3v1.6h-3zM957 517.3h3v1.6h-3zM997.5 517.3h3v1.6h-3zM936 518.8h4.5v1.6h-4.5zM948 518.8h3v1.6h-3zM957 518.8h3v1.6h-3zM997.5 518.8h3v1.6h-3zM937.5 520.3h4.5v1.6h-4.5zM946.5 520.3h3v1.6h-3zM957 520.3h1.5v1.6h-1.5zM997.5 520.3h3v1.6h-3zM939 521.8h10.5v1.6h-10.5zM957 521.8h3v1.6h-3zM964.5 521.8h3v1.6h-3zM997.5 521.8h3v1.6h-3zM942 523.3h6v1.6h-6zM958.5 523.3h10.5v1.6h-10.5zM997.5 523.3h3v1.6h-3zM967.5 524.8h1.5v1.6h-1.5zM997.5 524.8h3v1.6h-3zM969 526.3h1.5v1.6h-1.5zM997.5 526.3h3v1.6h-3zM969 527.8h1.5v1.6h-1.5zM997.5 527.8h3v1.6h-3zM969 529.3h1.5v1.6h-1.5zM997.5 529.3h3v1.6h-3zM969 530.8h1.5v1.6h-1.5zM999 530.8h1.5v1.6h-1.5zM969 532.3h3v1.6h-3zM999 532.3h1.5v1.6h-1.5zM970.5 533.8h1.5v1.6h-1.5zM999 533.8h1.5v1.6h-1.5zM970.5 535.3h1.5v1.6h-1.5zM999 535.3h1.5v1.6h-1.5zM972 536.8h1.5v1.6h-1.5zM999 536.8h3v1.6h-3zM972 538.3h1.5v1.6h-1.5zM999 538.3h3v1.6h-3zM972 539.8h1.5v1.6h-1.5zM1000.5 539.8h1.5v1.6h-1.5zM904.5 541.3h6v1.6h-6zM973.5 541.3h1.5v1.6h-1.5zM1000.5 541.3h3v1.6h-3zM901.5 542.8h12v1.6h-12zM973.5 542.8h1.5v1.6h-1.5zM1000.5 542.8h3v1.6h-3zM900 544.3h15v1.6h-15zM973.5 544.3h1.5v1.6h-1.5zM1000.5 544.3h4.5v1.6h-4.5zM900 545.8h15v1.6h-15zM973.5 545.8h1.5v1.6h-1.5zM1002 545.8h3v1.6h-3zM903 547.3h10.5v1.6h-10.5zM973.5 547.3h1.5v1.6h-1.5zM1002 547.3h3v1.6h-3zM973.5 548.8h1.5v1.6h-1.5zM1002 548.8h4.5v1.6h-4.5zM973.5 550.3h1.5v1.6h-1.5zM1002 550.3h4.5v1.6h-4.5zM973.5 551.8h1.5v1.6h-1.5zM1002 551.8h6v1.6h-6zM973.5 553.3h1.5v1.6h-1.5zM1003.5 553.3h4.5v1.6h-4.5zM973.5 554.8h1.5v0.8h-1.5zM1003.5 554.8h7.5v0.8h-7.5zM1014 554.8h1v0.8h-1z"/>
<path fill="#5ee6e4" d="M979.5 409.3h1.5v1.6h-1.5zM976.5 413.8h1.5v1.6h-1.5zM973.5 418.3h1.5v1.6h-1.5zM1012.5 419.8h2.5v1.6h-2.5zM972 421.3h1.5v1.6h-1.5zM1011 421.3h4v1.6h-4zM1008 422.8h7v1.6h-7zM1008 424.3h7v1.6h-7zM969 425.8h1.5v1.6h-1.5zM1008 425.8h7v1.6h-7zM1008 427.3h7v1.6h-7zM967.5 428.8h1.5v1.6h-1.5zM1008 428.8h7v1.6h-7zM1008 430.3h7v1.6h-7zM1008 431.8h7v1.6h-7zM964.5 433.3h1.5v1.6h-1.5zM1011 433.3h4v1.6h-4zM960 439.3h1.5v1.6h-1.5zM955.5 446.8h1.5v1.6h-1.5zM954 449.8h1.5v1.6h-1.5zM987 449.8h1.5v1.6h-1.5zM985.5 451.3h4.5v1.6h-4.5zM1014 451.3h1v1.6h-1zM952.5 452.8h1.5v1.6h-1.5zM985.5 452.8h4.5v1.6h-4.5zM1014 452.8h1v1.6h-1zM985.5 454.3h6v1.6h-6zM1012.5 454.3h2.5v1.6h-2.5zM951 455.8h1.5v1.6h-1.5zM985.5 455.8h6v1.6h-6zM1011 455.8h4v1.6h-4zM985.5 457.3h4.5v1.6h-4.5zM1006.5 457.3h8.5v1.6h-8.5zM949.5 458.8h1.5v1.6h-1.5zM987 458.8h3v1.6h-3zM999 458.8h16v1.6h-16zM949.5 460.3h3v1.6h-3zM987 460.3h3v1.6h-3zM997.5 460.3h7.5v1.6h-7.5zM951 461.8h1.5v1.6h-1.5zM987 461.8h3v1.6h-3zM997.5 461.8h3v1.6h-3zM951 463.3h1.5v1.6h-1.5zM985.5 463.3h6v1.6h-6zM996 463.3h4.5v1.6h-4.5zM900 464.8h4.5v1.6h-4.5zM951 464.8h1.5v1.6h-1.5zM984 464.8h15v1.6h-15zM897 466.3h9v1.6h-9zM951 466.3h1.5v1.6h-1.5zM984 466.3h13.5v1.6h-13.5zM894 467.8h12v1.6h-12zM952.5 467.8h1.5v1.6h-1.5zM985.5 467.8h9v1.6h-9zM894 469.3h13.5v1.6h-13.5zM952.5 469.3h1.5v1.6h-1.5zM985.5 469.3h6v1.6h-6zM892.5 470.8h15v1.6h-15zM951 470.8h1.5v1.6h-1.5zM985.5 470.8h4.5v1.6h-4.5zM892.5 472.3h15v1.6h-15zM951 472.3h1.5v1.6h-1.5zM985.5 472.3h3v1.6h-3zM891 473.8h16.5v1.6h-16.5zM951 473.8h1.5v1.6h-1.5zM985.5 473.8h3v1.6h-3zM891 475.3h15v1.6h-15zM949.5 475.3h3v1.6h-3zM985.5 475.3h3v1.6h-3zM891 476.8h15v1.6h-15zM949.5 476.8h1.5v1.6h-1.5zM985.5 476.8h3v1.6h-3zM891 478.3h13.5v1.6h-13.5zM949.5 478.3h1.5v1.6h-1.5zM985.5 478.3h3v1.6h-3zM892.5 479.8h12v1.6h-12zM948 479.8h3v1.6h-3zM985.5 479.8h3v1.6h-3zM894 481.3h9v1.6h-9zM949.5 481.3h1.5v1.6h-1.5zM987 481.3h1.5v1.6h-1.5zM897 482.8h4.5v1.6h-4.5zM949.5 482.8h1.5v1.6h-1.5zM987 482.8h1.5v1.6h-1.5zM949.5 484.3h1.5v1.6h-1.5zM987 484.3h3v1.6h-3zM949.5 485.8h3v1.6h-3zM987 485.8h3v1.6h-3zM951 487.3h1.5v1.6h-1.5zM987 487.3h3v1.6h-3zM951 488.8h1.5v1.6h-1.5zM987 488.8h3v1.6h-3zM951 490.3h1.5v1.6h-1.5zM988.5 490.3h1.5v1.6h-1.5zM924 491.8h3v1.6h-3zM952.5 491.8h1.5v1.6h-1.5zM988.5 491.8h3v1.6h-3zM922.5 493.3h6v1.6h-6zM952.5 493.3h1.5v1.6h-1.5zM988.5 493.3h3v1.6h-3zM921 494.8h9v1.6h-9zM952.5 494.8h1.5v1.6h-1.5zM990 494.8h1.5v1.6h-1.5zM921 496.3h9v1.6h-9zM954 496.3h1.5v1.6h-1.5zM990 496.3h1.5v1.6h-1.5zM921 497.8h9v1.6h-9zM954 497.8h1.5v1.6h-1.5zM990 497.8h3v1.6h-3zM921 499.3h9v1.6h-9zM954 499.3h3v1.6h-3zM991.5 499.3h1.5v1.6h-1.5zM921 500.8h7.5v1.6h-7.5zM955.5 500.8h1.5v1.6h-1.5zM991.5 500.8h1.5v1.6h-1.5zM922.5 502.3h6v1.6h-6zM955.5 502.3h3v1.6h-3zM991.5 502.3h3v1.6h-3zM924 503.8h1.5v1.6h-1.5zM957 503.8h3v1.6h-3zM993 503.8h1.5v1.6h-1.5zM957 505.3h3v1.6h-3zM993 505.3h1.5v1.6h-1.5zM957 506.8h4.5v1.6h-4.5zM993 506.8h3v1.6h-3zM958.5 508.3h3v1.6h-3zM993 508.3h3v1.6h-3zM958.5 509.8h4.5v1.6h-4.5zM994.5 509.8h1.5v1.6h-1.5zM960 511.3h4.5v1.6h-4.5zM994.5 511.3h1.5v1.6h-1.5zM961.5 512.8h3v1.6h-3zM994.5 512.8h3v1.6h-3zM940.5 514.3h6v1.6h-6zM961.5 514.3h4.5v1.6h-4.5zM994.5 514.3h3v1.6h-3zM939 515.8h9v1.6h-9zM961.5 515.8h4.5v1.6h-4.5zM994.5 515.8h3v1.6h-3zM939 517.3h9v1.6h-9zM960 517.3h7.5v1.6h-7.5zM994.5 517.3h3v1.6h-3zM940.5 518.8h7.5v1.6h-7.5zM960 518.8h7.5v1.6h-7.5zM996 518.8h1.5v1.6h-1.5zM942 520.3h4.5v1.6h-4.5zM958.5 520.3h10.5v1.6h-10.5zM996 520.3h1.5v1.6h-1.5zM960 521.8h4.5v1.6h-4.5zM967.5 521.8h1.5v1.6h-1.5zM996 521.8h1.5v1.6h-1.5zM969 523.3h1.5v1.6h-1.5zM996 523.3h1.5v1.6h-1.5zM969 524.8h1.5v1.6h-1.5zM996 524.8h1.5v1.6h-1.5zM970.5 526.3h1.5v1.6h-1.5zM996 526.3h1.5v1.6h-1.5zM970.5 527.8h1.5v1.6h-1.5zM996 527.8h1.5v1.6h-1.5zM970.5 529.3h1.5v1.6h-1.5zM996 529.3h1.5v1.6h-1.5zM970.5 530.8h1.5v1.6h-1.5zM996 530.8h3v1.6h-3zM972 532.3h1.5v1.6h-1.5zM996 532.3h3v1.6h-3zM972 533.8h1.5v1.6h-1.5zM996 533.8h3v1.6h-3zM972 535.3h1.5v1.6h-1.5zM996 535.3h3v1.6h-3zM973.5 536.8h1.5v1.6h-1.5zM997.5 536.8h1.5v1.6h-1.5zM973.5 538.3h1.5v1.6h-1.5zM997.5 538.3h1.5v1.6h-1.5zM973.5 539.8h3v1.6h-3zM997.5 539.8h3v1.6h-3zM975 541.3h1.5v1.6h-1.5zM997.5 541.3h3v1.6h-3zM975 542.8h1.5v1.6h-1.5zM997.5 542.8h3v1.6h-3zM975 544.3h1.5v1.6h-1.5zM997.5 544.3h3v1.6h-3zM975 545.8h1.5v1.6h-1.5zM999 545.8h3v1.6h-3zM975 547.3h1.5v1.6h-1.5zM999 547.3h3v1.6h-3zM975 548.8h1.5v1.6h-1.5zM999 548.8h3v1.6h-3zM975 550.3h1.5v1.6h-1.5zM999 550.3h3v1.6h-3zM975 551.8h1.5v1.6h-1.5zM999 551.8h3v1.6h-3zM975 553.3h1.5v1.6h-1.5zM1000.5 553.3h3v1.6h-3zM975 554.8h1.5v0.8h-1.5zM1000.5 554.8h3v0.8h-3z"/>
<path fill="#52e6c6" d="M981 407.8h1.5v1.6h-1.5zM978 412.3h1.5v1.6h-1.5zM1014 415.3h1v1.6h-1zM975 416.8h1.5v1.6h-1.5zM1014 416.8h1v1.6h-1zM1012.5 418.3h2.5v1.6h-2.5zM1009.5 419.8h3v1.6h-3zM1005 421.3h6v1.6h-6zM1005 422.8h3v1.6h-3zM970.5 424.3h1.5v1.6h-1.5zM1005 424.3h3v1.6h-3zM1005 425.8h3v1.6h-3zM969 427.3h1.5v1.6h-1.5zM1005 427.3h3v1.6h-3zM1005 428.8h3v1.6h-3zM1005 430.3h3v1.6h-3zM966 431.8h1.5v1.6h-1.5zM1006.5 431.8h1.5v1.6h-1.5zM1006.5 433.3h4.5v1.6h-4.5zM1008 434.8h7v1.6h-7zM1009.5 436.3h5.5v1.6h-5.5zM961.5 437.8h1.5v1.6h-1.5zM1011 437.8h4v1.6h-4zM1011 439.3h4v1.6h-4zM1011 440.8h4v1.6h-4zM958.5 442.3h1.5v1.6h-1.5zM1011 442.3h4v1.6h-4zM1011 443.8h4v1.6h-4zM957 445.3h1.5v1.6h-1.5zM1011 445.3h4v1.6h-4zM987 446.8h1.5v1.6h-1.5zM1011 446.8h4v1.6h-4zM985.5 448.3h4.5v1.6h-4.5zM1011 448.3h4v1.6h-4zM984 449.8h3v1.6h-3zM988.5 449.8h3v1.6h-3zM1011 449.8h4v1.6h-4zM984 451.3h1.5v1.6h-1.5zM990 451.3h3v1.6h-3zM1011 451.3h3v1.6h-3zM982.5 452.8h3v1.6h-3zM990 452.8h3v1.6h-3zM1009.5 452.8h4.5v1.6h-4.5zM982.5 454.3h3v1.6h-3zM991.5 454.3h3v1.6h-3zM1008 454.3h4.5v1.6h-4.5zM982.5 455.8h3v1.6h-3zM991.5 455.8h19.5v1.6h-19.5zM951 457.3h3v1.6h-3zM984 457.3h1.5v1.6h-1.5zM990 457.3h16.5v1.6h-16.5zM951 458.8h3v1.6h-3zM984 458.8h3v1.6h-3zM990 458.8h9v1.6h-9zM952.5 460.3h1.5v1.6h-1.5zM982.5 460.3h4.5v1.6h-4.5zM990 460.3h7.5v1.6h-7.5zM952.5 461.8h1.5v1.6h-1.5zM982.5 461.8h4.5v1.6h-4.5zM990 461.8h7.5v1.6h-7.5zM952.5 463.3h1.5v1.6h-1.5zM981 463.3h4.5v1.6h-4.5zM991.5 463.3h4.5v1.6h-4.5zM952.5 464.8h1.5v1.6h-1.5zM981 464.8h3v1.6h-3zM952.5 466.3h1.5v1.6h-1.5zM981 466.3h3v1.6h-3zM981 467.8h4.5v1.6h-4.5zM982.5 469.3h3v1.6h-3zM952.5 470.8h1.5v1.6h-1.5zM982.5 470.8h3v1.6h-3zM952.5 472.3h1.5v1.6h-1.5zM984 472.3h1.5v1.6h-1.5zM952.5 473.8h1.5v1.6h-1.5zM984 473.8h1.5v1.6h-1.5zM952.5 475.3h1.5v1.6h-1.5zM984 475.3h1.5v1.6h-1.5zM951 476.8h1.5v1.6h-1.5zM984 476.8h1.5v1.6h-1.5zM951 478.3h1.5v1.6h-1.5zM984 478.3h1.5v1.6h-1.5zM951 479.8h1.5v1.6h-1.5zM984 479.8h1.5v1.6h-1.5zM951 481.3h1.5v1.6h-1.5zM984 481.3h3v1.6h-3zM951 482.8h1.5v1.6h-1.5zM984 482.8h3v1.6h-3zM951 484.3h3v1.6h-3zM984 484.3h3v1.6h-3zM952.5 485.8h1.5v1.6h-1.5zM985.5 485.8h1.5v1.6h-1.5zM952.5 487.3h1.5v1.6h-1.5zM985.5 487.3h1.5v1.6h-1.5zM952.5 488.8h1.5v1.6h-1.5zM985.5 488.8h1.5v1.6h-1.5zM952.5 490.3h1.5v1.6h-1.5zM985.5 490.3h3v1.6h-3zM954 491.8h1.5v1.6h-1.5zM985.5 491.8h3v1.6h-3zM954 493.3h1.5v1.6h-1.5zM987 493.3h1.5v1.6h-1.5zM954 494.8h1.5v1.6h-1.5zM987 494.8h3v1.6h-3zM955.5 496.3h1.5v1.6h-1.5zM987 496.3h3v1.6h-3zM955.5 497.8h1.5v1.6h-1.5zM988.5 497.8h1.5v1.6h-1.5zM957 499.3h1.5v1.6h-1.5zM988.5 499.3h3v1.6h-3zM957 500.8h3v1.6h-3zM988.5 500.8h3v1.6h-3zM958.5 502.3h3v1.6h-3zM990 502.3h1.5v1.6h-1.5zM960 503.8h3v1.6h-3zM990 503.8h3v1.6h-3zM960 505.3h4.5v1.6h-4.5zM990 505.3h3v1.6h-3zM961.5 506.8h3v1.6h-3zM991.5 506.8h1.5v1.6h-1.5zM961.5 508.3h4.5v1.6h-4.5zM991.5 508.3h1.5v1.6h-1.5zM963 509.8h3v1.6h-3zM991.5 509.8h3v1.6h-3zM964.5 511.3h3v1.6h-3zM991.5 511.3h3v1.6h-3zM964.5 512.8h3v1.6h-3zM993 512.8h1.5v1.6h-1.5zM966 514.3h3v1.6h-3zM993 514.3h1.5v1.6h-1.5zM966 515.8h3v1.6h-3zM993 515.8h1.5v1.6h-1.5zM967.5 517.3h1.5v1.6h-1.5zM993 517.3h1.5v1.6h-1.5zM967.5 518.8h3v1.6h-3zM993 518.8h3v1.6h-3zM969 520.3h1.5v1.6h-1.5zM993 520.3h3v1.6h-3zM969 521.8h3v1.6h-3zM993 521.8h3v1.6h-3zM970.5 523.3h1.5v1.6h-1.5zM993 523.3h3v1.6h-3zM970.5 524.8h1.5v1.6h-1.5zM993 524.8h3v1.6h-3zM972 526.3h1.5v1.6h-1.5zM993 526.3h3v1.6h-3zM972 527.8h1.5v1.6h-1.5zM993 527.8h3v1.6h-3zM972 529.3h1.5v1.6h-1.5zM993 529.3h3v1.6h-3zM972 530.8h1.5v1.6h-1.5zM994.5 530.8h1.5v1.6h-1.5zM973.5 532.3h1.5v1.6h-1.5zM994.5 532.3h1.5v1.6h-1.5zM973.5 533.8h1.5v1.6h-1.5zM994.5 533.8h1.5v1.6h-1.5zM973.5 535.3h3v1.6h-3zM994.5 535.3h1.5v1.6h-1.5zM975 536.8h1.5v1.6h-1.5zM994.5 536.8h3v1.6h-3zM975 538.3h1.5v1.6h-1.5zM994.5 538.3h3v1.6h-3zM976.5 539.8h1.5v1.6h-1.5zM994.5 539.8h3v1.6h-3zM976.5 541.3h1.5v1.6h-1.5zM994.5 541.3h3v1.6h-3zM976.5 542.8h1.5v1.6h-1.5zM996 542.8h1.5v1.6h-1.5zM976.5 544.3h1.5v1.6h-1.5zM996 544.3h1.5v1.6h-1.5zM976.5 545.8h1.5v1.6h-1.5zM996 545.8h3v1.6h-3zM976.5 547.3h1.5v1.6h-1.5zM996 547.3h3v1.6h-3zM976.5 548.8h1.5v1.6h-1.5zM996 548.8h3v1.6h-3zM976.5 550.3h1.5v1.6h-1.5zM996 550.3h3v1.6h-3zM976.5 551.8h1.5v1.6h-1.5zM997.5 551.8h1.5v1.6h-1.5zM976.5 553.3h1.5v1.6h-1.5zM997.5 553.3h3v1.6h-3zM976.5 554.8h1.5v0.8h-1.5zM997.5 554.8h3v0.8h-3z"/>
<path fill="#46e6a8" d="M979.5 410.8h1.5v1.6h-1.5zM1014 410.8h1v1.6h-1zM1014 412.3h1v1.6h-1zM1012.5 413.8h2.5v1.6h-2.5zM976.5 415.3h1.5v1.6h-1.5zM1012.5 415.3h1.5v1.6h-1.5zM1011 416.8h3v1.6h-3zM1008 418.3h4.5v1.6h-4.5zM973.5 419.8h1.5v1.6h-1.5zM1002 419.8h7.5v1.6h-7.5zM1002 421.3h3v1.6h-3zM972 422.8h1.5v1.6h-1.5zM1002 422.8h3v1.6h-3zM1002 424.3h3v1.6h-3zM1002 425.8h3v1.6h-3zM1002 427.3h3v1.6h-3zM969 428.8h3v1.6h-3zM1003.5 428.8h1.5v1.6h-1.5zM967.5 430.3h6v1.6h-6zM1003.5 430.3h1.5v1.6h-1.5zM967.5 431.8h4.5v1.6h-4.5zM1003.5 431.8h3v1.6h-3zM1005 433.3h1.5v1.6h-1.5zM1005 434.8h3v1.6h-3zM963 436.3h1.5v1.6h-1.5zM1006.5 436.3h3v1.6h-3zM1006.5 437.8h4.5v1.6h-4.5zM1008 439.3h3v1.6h-3zM960 440.8h1.5v1.6h-1.5zM1008 440.8h3v1.6h-3zM1008 442.3h3v1.6h-3zM987 443.8h1.5v1.6h-1.5zM1008 443.8h3v1.6h-3zM985.5 445.3h6v1.6h-6zM1008 445.3h3v1.6h-3zM984 446.8h3v1.6h-3zM988.5 446.8h4.5v1.6h-4.5zM1009.5 446.8h1.5v1.6h-1.5zM955.5 448.3h1.5v1.6h-1.5zM982.5 448.3h3v1.6h-3zM990 448.3h3v1.6h-3zM1009.5 448.3h1.5v1.6h-1.5zM982.5 449.8h1.5v1.6h-1.5zM991.5 449.8h3v1.6h-3zM1008 449.8h3v1.6h-3zM954 451.3h1.5v1.6h-1.5zM981 451.3h3v1.6h-3zM993 451.3h3v1.6h-3zM1008 451.3h3v1.6h-3zM954 452.8h1.5v1.6h-1.5zM981 452.8h1.5v1.6h-1.5zM993 452.8h10.5v1.6h-10.5zM1005 452.8h4.5v1.6h-4.5zM952.5 454.3h3v1.6h-3zM981 454.3h1.5v1.6h-1.5zM994.5 454.3h13.5v1.6h-13.5zM952.5 455.8h3v1.6h-3zM981 455.8h1.5v1.6h-1.5zM954 457.3h1.5v1.6h-1.5zM981 457.3h3v1.6h-3zM954 458.8h1.5v1.6h-1.5zM981 458.8h3v1.6h-3zM954 460.3h1.5v1.6h-1.5zM981 460.3h1.5v1.6h-1.5zM954 461.8h1.5v1.6h-1.5zM979.5 461.8h3v1.6h-3zM954 463.3h1.5v1.6h-1.5zM979.5 463.3h1.5v1.6h-1.5zM954 464.8h1.5v1.6h-1.5zM979.5 464.8h1.5v1.6h-1.5zM954 466.3h1.5v1.6h-1.5zM979.5 466.3h1.5v1.6h-1.5zM954 467.8h1.5v1.6h-1.5zM979.5 467.8h1.5v1.6h-1.5zM954 469.3h1.5v1.6h-1.5zM979.5 469.3h3v1.6h-3zM954 470.8h1.5v1.6h-1.5zM981 470.8h1.5v1.6h-1.5zM954 472.3h1.5v1.6h-1.5zM981 472.3h3v1.6h-3zM954 473.8h1.5v1.6h-1.5zM982.5 473.8h1.5v1.6h-1.5zM982.5 475.3h1.5v1.6h-1.5zM952.5 476.8h1.5v1.6h-1.5zM982.5 476.8h1.5v1.6h-1.5zM952.5 478.3h1.5v1.6h-1.5zM982.5 478.3h1.5v1.6h-1.5zM952.5 479.8h1.5v1.6h-1.5zM982.5 479.8h1.5v1.6h-1.5zM952.5 481.3h1.5v1.6h-1.5zM982.5 481.3h1.5v1.6h-1.5zM952.5 482.8h1.5v1.6h-1.5zM982.5 482.8h1.5v1.6h-1.5zM954 484.3h1.5v1.6h-1.5zM982.5 484.3h1.5v1.6h-1.5zM954 485.8h1.5v1.6h-1.5zM982.5 485.8h3v1.6h-3zM954 487.3h1.5v1.6h-1.5zM982.5 487.3h3v1.6h-3zM954 488.8h1.5v1.6h-1.5zM982.5 488.8h3v1.6h-3zM954 490.3h1.5v1.6h-1.5zM982.5 490.3h3v1.6h-3zM955.5 491.8h1.5v1.6h-1.5zM984 491.8h1.5v1.6h-1.5zM955.5 493.3h1.5v1.6h-1.5zM984 493.3h3v1.6h-3zM955.5 494.8h1.5v1.6h-1.5zM984 494.8h3v1.6h-3zM957 496.3h1.5v1.6h-1.5zM985.5 496.3h1.5v1.6h-1.5zM957 497.8h3v1.6h-3zM985.5 497.8h3v1.6h-3zM958.5 499.3h3v1.6h-3zM987 499.3h1.5v1.6h-1.5zM960 500.8h3v1.6h-3zM987 500.8h1.5v1.6h-1.5zM961.5 502.3h3v1.6h-3zM987 502.3h3v1.6h-3zM963 503.8h3v1.6h-3zM988.5 503.8h1.5v1.6h-1.5zM964.5 505.3h3v1.6h-3zM988.5 505.3h1.5v1.6h-1.5zM964.5 506.8h3v1.6h-3zM988.5 506.8h3v1.6h-3zM966 508.3h1.5v1.6h-1.5zM990 508.3h1.5v1.6h-1.5zM966 509.8h3v1.6h-3zM990 509.8h1.5v1.6h-1.5zM967.5 511.3h1.5v1.6h-1.5zM990 511.3h1.5v1.6h-1.5zM967.5 512.8h1.5v1.6h-1.5zM990 512.8h3v1.6h-3zM969 514.3h1.5v1.6h-1.5zM990 514.3h3v1.6h-3zM969 515.8h1.5v1.6h-1.5zM990 515.8h3v1.6h-3zM969 517.3h3v1.6h-3zM991.5 517.3h1.5v1.6h-1.5zM970.5 518.8h1.5v1.6h-1.5zM991.5 518.8h1.5v1.6h-1.5zM970.5 520.3h3v1.6h-3zM991.5 520.3h1.5v1.6h-1.5zM972 521.8h1.5v1.6h-1.5zM991.5 521.8h1.5v1.6h-1.5zM972 523.3h1.5v1.6h-1.5zM991.5 523.3h1.5v1.6h-1.5zM972 524.8h1.5v1.6h-1.5zM991.5 524.8h1.5v1.6h-1.5zM973.5 526.3h1.5v1.6h-1.5zM991.5 526.3h1.5v1.6h-1.5zM973.5 527.8h1.5v1.6h-1.5zM991.5 527.8h1.5v1.6h-1.5zM973.5 529.3h1.5v1.6h-1.5zM991.5 529.3h1.5v1.6h-1.5zM973.5 530.8h1.5v1.6h-1.5zM991.5 530.8h3v1.6h-3zM975 532.3h1.5v1.6h-1.5zM991.5 532.3h3v1.6h-3zM975 533.8h1.5v1.6h-1.5zM991.5 533.8h3v1.6h-3zM976.5 535.3h1.5v1.6h-1.5zM991.5 535.3h3v1.6h-3zM976.5 536.8h1.5v1.6h-1.5zM991.5 536.8h3v1.6h-3zM976.5 538.3h3v1.6h-3zM991.5 538.3h3v1.6h-3zM978 539.8h1.5v1.6h-1.5zM991.5 539.8h3v1.6h-3zM978 541.3h1.5v1.6h-1.5zM991.5 541.3h3v1.6h-3zM978 542.8h3v1.6h-3zM993 542.8h3v1.6h-3zM978 544.3h1.5v1.6h-1.5zM993 544.3h3v1.6h-3zM978 545.8h1.5v1.6h-1.5zM993 545.8h3v1.6h-3zM978 547.3h1.5v1.6h-1.5zM993 547.3h3v1.6h-3zM978 548.8h1.5v1.6h-1.5zM993 548.8h3v1.6h-3zM978 550.3h1.5v1.6h-1.5zM994.5 550.3h1.5v1.6h-1.5zM978 551.8h1.5v1.6h-1.5zM994.5 551.8h3v1.6h-3zM978 553.3h1.5v1.6h-1.5zM994.5 553.3h3v1.6h-3zM978 554.8h1.5v0.8h-1.5zM994.5 554.8h3v0.8h-3z"/>
<path fill="#4ae380" d="M982.5 406.3h7.5v1.6h-7.5zM1011 406.3h4v1.6h-4zM982.5 407.8h9v1.6h-9zM1009.5 407.8h5.5v1.6h-5.5zM981 409.3h10.5v1.6h-10.5zM1009.5 409.3h5.5v1.6h-5.5zM981 410.8h10.5v1.6h-10.5zM1009.5 410.8h4.5v1.6h-4.5zM979.5 412.3h12v1.6h-12zM1011 412.3h3v1.6h-3zM978 413.8h15v1.6h-15zM1011 413.8h1.5v1.6h-1.5zM978 415.3h15v1.6h-15zM1000.5 415.3h4.5v1.6h-4.5zM1009.5 415.3h3v1.6h-3zM976.5 416.8h16.5v1.6h-16.5zM999 416.8h12v1.6h-12zM975 418.3h1.5v1.6h-1.5zM982.5 418.3h9v1.6h-9zM999 418.3h9v1.6h-9zM975 419.8h1.5v1.6h-1.5zM984 419.8h7.5v1.6h-7.5zM999 419.8h3v1.6h-3zM973.5 421.3h3v1.6h-3zM984 421.3h7.5v1.6h-7.5zM997.5 421.3h4.5v1.6h-4.5zM973.5 422.8h3v1.6h-3zM984 422.8h7.5v1.6h-7.5zM997.5 422.8h4.5v1.6h-4.5zM972 424.3h4.5v1.6h-4.5zM984 424.3h7.5v1.6h-7.5zM999 424.3h3v1.6h-3zM970.5 425.8h7.5v1.6h-7.5zM984 425.8h7.5v1.6h-7.5zM999 425.8h3v1.6h-3zM970.5 427.3h10.5v1.6h-10.5zM984 427.3h6v1.6h-6zM999 427.3h3v1.6h-3zM972 428.8h18v1.6h-18zM1000.5 428.8h3v1.6h-3zM973.5 430.3h16.5v1.6h-16.5zM1000.5 430.3h3v1.6h-3zM972 431.8h18v1.6h-18zM1002 431.8h1.5v1.6h-1.5zM966 433.3h24v1.6h-24zM1002 433.3h3v1.6h-3zM964.5 434.8h1.5v1.6h-1.5zM972 434.8h6v1.6h-6zM982.5 434.8h7.5v1.6h-7.5zM1003.5 434.8h1.5v1.6h-1.5zM984 436.3h6v1.6h-6zM1003.5 436.3h3v1.6h-3zM984 437.8h6v1.6h-6zM1005 437.8h1.5v1.6h-1.5zM984 439.3h6v1.6h-6zM1005 439.3h3v1.6h-3zM984 440.8h7.5v1.6h-7.5zM1005 440.8h3v1.6h-3zM982.5 442.3h9v1.6h-9zM1005 442.3h3v1.6h-3zM958.5 443.8h1.5v1.6h-1.5zM982.5 443.8h4.5v1.6h-4.5zM988.5 443.8h4.5v1.6h-4.5zM1005 443.8h3v1.6h-3zM981 445.3h4.5v1.6h-4.5zM991.5 445.3h3v1.6h-3zM1005 445.3h3v1.6h-3zM981 446.8h3v1.6h-3zM993 446.8h3v1.6h-3zM1005 446.8h4.5v1.6h-4.5zM981 448.3h1.5v1.6h-1.5zM993 448.3h9v1.6h-9zM1003.5 448.3h6v1.6h-6zM955.5 449.8h1.5v1.6h-1.5zM979.5 449.8h3v1.6h-3zM994.5 449.8h13.5v1.6h-13.5zM955.5 451.3h1.5v1.6h-1.5zM979.5 451.3h1.5v1.6h-1.5zM996 451.3h12v1.6h-12zM955.5 452.8h1.5v1.6h-1.5zM979.5 452.8h1.5v1.6h-1.5zM1003.5 452.8h1.5v1.6h-1.5zM955.5 454.3h1.5v1.6h-1.5zM979.5 454.3h1.5v1.6h-1.5zM955.5 455.8h1.5v1.6h-1.5zM979.5 455.8h1.5v1.6h-1.5zM955.5 457.3h1.5v1.6h-1.5zM979.5 457.3h1.5v1.6h-1.5zM955.5 458.8h1.5v1.6h-1.5zM979.5 458.8h1.5v1.6h-1.5zM955.5 460.3h1.5v1.6h-1.5zM978 460.3h3v1.6h-3zM955.5 461.8h1.5v1.6h-1.5zM978 461.8h1.5v1.6h-1.5zM955.5 463.3h1.5v1.6h-1.5zM978 463.3h1.5v1.6h-1.5zM955.5 464.8h1.5v1.6h-1.5zM978 464.8h1.5v1.6h-1.5zM955.5 466.3h1.5v1.6h-1.5zM978 466.3h1.5v1.6h-1.5zM955.5 467.8h1.5v1.6h-1.5zM978 467.8h1.5v1.6h-1.5zM955.5 469.3h1.5v1.6h-1.5zM978 469.3h1.5v1.6h-1.5zM955.5 470.8h1.5v1.6h-1.5zM979.5 470.8h1.5v1.6h-1.5zM955.5 472.3h1.5v1.6h-1.5zM979.5 472.3h1.5v1.6h-1.5zM955.5 473.8h1.5v1.6h-1.5zM979.5 473.8h3v1.6h-3zM954 475.3h1.5v1.6h-1.5zM981 475.3h1.5v1.6h-1.5zM954 476.8h1.5v1.6h-1.5zM981 476.8h1.5v1.6h-1.5zM954 478.3h1.5v1.6h-1.5zM981 478.3h1.5v1.6h-1.5zM954 479.8h1.5v1.6h-1.5zM981 479.8h1.5v1.6h-1.5zM954 481.3h1.5v1.6h-1.5zM981 481.3h1.5v1.6h-1.5zM954 482.8h1.5v1.6h-1.5zM981 482.8h1.5v1.6h-1.5zM981 484.3h1.5v1.6h-1.5zM955.5 485.8h1.5v1.6h-1.5zM981 485.8h1.5v1.6h-1.5zM955.5 487.3h1.5v1.6h-1.5zM981 487.3h1.5v1.6h-1.5zM955.5 488.8h1.5v1.6h-1.5zM981 488.8h1.5v1.6h-1.5zM955.5 490.3h3v1.6h-3zM981 490.3h1.5v1.6h-1.5zM957 491.8h1.5v1.6h-1.5zM981 491.8h3v1.6h-3zM957 493.3h1.5v1.6h-1.5zM981 493.3h3v1.6h-3zM957 494.8h3v1.6h-3zM981 494.8h3v1.6h-3zM958.5 496.3h3v1.6h-3zM982.5 496.3h3v1.6h-3zM960 497.8h3v1.6h-3zM982.5 497.8h3v1.6h-3zM961.5 499.3h3v1.6h-3zM984 499.3h3v1.6h-3zM963 500.8h3v1.6h-3zM984 500.8h3v1.6h-3zM964.5 502.3h3v1.6h-3zM985.5 502.3h1.5v1.6h-1.5zM966 503.8h3v1.6h-3zM985.5 503.8h3v1.6h-3zM967.5 505.3h1.5v1.6h-1.5zM987 505.3h1.5v1.6h-1.5zM967.5 506.8h1.5v1.6h-1.5zM987 506.8h1.5v1.6h-1.5zM967.5 508.3h3v1.6h-3zM987 508.3h3v1.6h-3zM969 509.8h1.5v1.6h-1.5zM988.5 509.8h1.5v1.6h-1.5zM969 511.3h1.5v1.6h-1.5zM988.5 511.3h1.5v1.6h-1.5zM969 512.8h3v1.6h-3zM988.5 512.8h1.5v1.6h-1.5zM970.5 514.3h1.5v1.6h-1.5zM988.5 514.3h1.5v1.6h-1.5zM970.5 515.8h3v1.6h-3zM988.5 515.8h1.5v1.6h-1.5zM972 517.3h1.5v1.6h-1.5zM988.5 517.3h3v1.6h-3zM972 518.8h1.5v1.6h-1.5zM988.5 518.8h3v1.6h-3zM973.5 520.3h1.5v1.6h-1.5zM988.5 520.3h3v1.6h-3zM973.5 521.8h1.5v1.6h-1.5zM988.5 521.8h3v1.6h-3zM973.5 523.3h1.5v1.6h-1.5zM988.5 523.3h3v1.6h-3zM973.5 524.8h3v1.6h-3zM988.5 524.8h3v1.6h-3zM975 526.3h1.5v1.6h-1.5zM988.5 526.3h3v1.6h-3zM975 527.8h1.5v1.6h-1.5zM988.5 527.8h3v1.6h-3zM975 529.3h3v1.6h-3zM988.5 529.3h3v1.6h-3zM975 530.8h3v1.6h-3zM988.5 530.8h3v1.6h-3zM976.5 532.3h1.5v1.6h-1.5zM988.5 532.3h3v1.6h-3zM976.5 533.8h3v1.6h-3zM988.5 533.8h3v1.6h-3zM978 535.3h3v1.6h-3zM988.5 535.3h3v1.6h-3zM978 536.8h3v1.6h-3zM988.5 536.8h3v1.6h-3zM979.5 538.3h3v1.6h-3zM988.5 538.3h3v1.6h-3zM979.5 539.8h3v1.6h-3zM988.5 539.8h3v1.6h-3zM979.5 541.3h4.5v1.6h-4.5zM988.5 541.3h3v1.6h-3zM981 542.8h3v1.6h-3zM988.5 542.8h4.5v1.6h-4.5zM979.5 544.3h3v1.6h-3zM988.5 544.3h4.5v1.6h-4.5zM979.5 545.8h3v1.6h-3zM990 545.8h3v1.6h-3zM979.5 547.3h1.5v1.6h-1.5zM990 547.3h3v1.6h-3zM979.5 548.8h1.5v1.6h-1.5zM990 548.8h3v1.6h-3zM979.5 550.3h1.5v1.6h-1.5zM990 550.3h4.5v1.6h-4.5zM979.5 551.8h1.5v1.6h-1.5zM991.5 551.8h3v1.6h-3zM979.5 553.3h1.5v1.6h-1.5zM991.5 553.3h3v1.6h-3zM979.5 554.8h3v0.8h-3zM991.5 554.8h3v0.8h-3z"/>
<path fill="#4ee058" d="M990 406.3h4.5v1.6h-4.5zM1003.5 406.3h7.5v1.6h-7.5zM991.5 407.8h3v1.6h-3zM1002 407.8h7.5v1.6h-7.5zM991.5 409.3h3v1.6h-3zM999 409.3h10.5v1.6h-10.5zM991.5 410.8h4.5v1.6h-4.5zM997.5 410.8h12v1.6h-12zM991.5 412.3h19.5v1.6h-19.5zM993 413.8h18v1.6h-18zM993 415.3h7.5v1.6h-7.5zM1005 415.3h4.5v1.6h-4.5zM993 416.8h6v1.6h-6zM976.5 418.3h6v1.6h-6zM991.5 418.3h7.5v1.6h-7.5zM976.5 419.8h7.5v1.6h-7.5zM991.5 419.8h7.5v1.6h-7.5zM976.5 421.3h7.5v1.6h-7.5zM991.5 421.3h6v1.6h-6zM976.5 422.8h7.5v1.6h-7.5zM991.5 422.8h6v1.6h-6zM976.5 424.3h7.5v1.6h-7.5zM991.5 424.3h7.5v1.6h-7.5zM978 425.8h6v1.6h-6zM991.5 425.8h7.5v1.6h-7.5zM981 427.3h3v1.6h-3zM990 427.3h9v1.6h-9zM990 428.8h10.5v1.6h-10.5zM990 430.3h10.5v1.6h-10.5zM990 431.8h4.5v1.6h-4.5zM997.5 431.8h4.5v1.6h-4.5zM990 433.3h4.5v1.6h-4.5zM999 433.3h3v1.6h-3zM966 434.8h6v1.6h-6zM978 434.8h4.5v1.6h-4.5zM990 434.8h3v1.6h-3zM1000.5 434.8h3v1.6h-3zM964.5 436.3h19.5v1.6h-19.5zM990 436.3h3v1.6h-3zM1000.5 436.3h3v1.6h-3zM973.5 437.8h10.5v1.6h-10.5zM990 437.8h4.5v1.6h-4.5zM1000.5 437.8h4.5v1.6h-4.5zM961.5 439.3h1.5v1.6h-1.5zM976.5 439.3h7.5v1.6h-7.5zM990 439.3h4.5v1.6h-4.5zM1000.5 439.3h4.5v1.6h-4.5zM978 440.8h6v1.6h-6zM991.5 440.8h3v1.6h-3zM999 440.8h6v1.6h-6zM978 442.3h4.5v1.6h-4.5zM991.5 442.3h4.5v1.6h-4.5zM997.5 442.3h7.5v1.6h-7.5zM978 443.8h4.5v1.6h-4.5zM993 443.8h12v1.6h-12zM978 445.3h3v1.6h-3zM994.5 445.3h10.5v1.6h-10.5zM957 446.8h1.5v1.6h-1.5zM978 446.8h3v1.6h-3zM996 446.8h9v1.6h-9zM957 448.3h1.5v1.6h-1.5zM978 448.3h3v1.6h-3zM1002 448.3h1.5v1.6h-1.5zM957 449.8h1.5v1.6h-1.5zM978 449.8h1.5v1.6h-1.5zM978 451.3h1.5v1.6h-1.5zM978 452.8h1.5v1.6h-1.5zM978 454.3h1.5v1.6h-1.5zM976.5 455.8h3v1.6h-3zM957 457.3h1.5v1.6h-1.5zM976.5 457.3h3v1.6h-3zM957 458.8h1.5v1.6h-1.5zM976.5 458.8h3v1.6h-3zM957 460.3h1.5v1.6h-1.5zM976.5 460.3h1.5v1.6h-1.5zM957 461.8h1.5v1.6h-1.5zM976.5 461.8h1.5v1.6h-1.5zM957 463.3h1.5v1.6h-1.5zM976.5 463.3h1.5v1.6h-1.5zM957 464.8h1.5v1.6h-1.5zM975 464.8h3v1.6h-3zM957 466.3h1.5v1.6h-1.5zM975 466.3h3v1.6h-3zM957 467.8h1.5v1.6h-1.5zM976.5 467.8h1.5v1.6h-1.5zM957 469.3h1.5v1.6h-1.5zM976.5 469.3h1.5v1.6h-1.5zM957 470.8h1.5v1.6h-1.5zM976.5 470.8h3v1.6h-3zM957 472.3h1.5v1.6h-1.5zM978 472.3h1.5v1.6h-1.5zM978 473.8h1.5v1.6h-1.5zM955.5 475.3h1.5v1.6h-1.5zM978 475.3h3v1.6h-3zM955.5 476.8h1.5v1.6h-1.5zM979.5 476.8h1.5v1.6h-1.5zM955.5 478.3h1.5v1.6h-1.5zM979.5 478.3h1.5v1.6h-1.5zM955.5 479.8h1.5v1.6h-1.5zM979.5 479.8h1.5v1.6h-1.5zM955.5 481.3h1.5v1.6h-1.5zM979.5 481.3h1.5v1.6h-1.5zM955.5 482.8h1.5v1.6h-1.5zM979.5 482.8h1.5v1.6h-1.5zM955.5 484.3h1.5v1.6h-1.5zM979.5 484.3h1.5v1.6h-1.5zM957 485.8h1.5v1.6h-1.5zM979.5 485.8h1.5v1.6h-1.5zM957 487.3h1.5v1.6h-1.5zM979.5 487.3h1.5v1.6h-1.5zM957 488.8h1.5v1.6h-1.5zM978 488.8h3v1.6h-3zM958.5 490.3h1.5v1.6h-1.5zM978 490.3h3v1.6h-3zM958.5 491.8h1.5v1.6h-1.5zM978 491.8h3v1.6h-3zM958.5 493.3h3v1.6h-3zM978 493.3h3v1.6h-3zM960 494.8h1.5v1.6h-1.5zM978 494.8h3v1.6h-3zM961.5 496.3h3v1.6h-3zM979.5 496.3h3v1.6h-3zM963 497.8h4.5v1.6h-4.5zM979.5 497.8h3v1.6h-3zM964.5 499.3h4.5v1.6h-4.5zM981 499.3h3v1.6h-3zM966 500.8h4.5v1.6h-4.5zM981 500.8h3v1.6h-3zM967.5 502.3h3v1.6h-3zM982.5 502.3h3v1.6h-3zM969 503.8h3v1.6h-3zM982.5 503.8h3v1.6h-3zM969 505.3h3v1.6h-3zM984 505.3h3v1.6h-3zM969 506.8h3v1.6h-3zM985.5 506.8h1.5v1.6h-1.5zM970.5 508.3h1.5v1.6h-1.5zM985.5 508.3h1.5v1.6h-1.5zM970.5 509.8h1.5v1.6h-1.5zM985.5 509.8h3v1.6h-3zM970.5 511.3h3v1.6h-3zM987 511.3h1.5v1.6h-1.5zM972 512.8h1.5v1.6h-1.5zM987 512.8h1.5v1.6h-1.5zM972 514.3h1.5v1.6h-1.5zM987 514.3h1.5v1.6h-1.5zM973.5 515.8h1.5v1.6h-1.5zM987 515.8h1.5v1.6h-1.5zM973.5 517.3h1.5v1.6h-1.5zM987 517.3h1.5v1.6h-1.5zM973.5 518.8h3v1.6h-3zM987 518.8h1.5v1.6h-1.5zM975 520.3h1.5v1.6h-1.5zM987 520.3h1.5v1.6h-1.5zM975 521.8h3v1.6h-3zM985.5 521.8h3v1.6h-3zM975 523.3h3v1.6h-3zM985.5 523.3h3v1.6h-3zM976.5 524.8h3v1.6h-3zM985.5 524.8h3v1.6h-3zM976.5 526.3h3v1.6h-3zM985.5 526.3h3v1.6h-3zM976.5 527.8h3v1.6h-3zM985.5 527.8h3v1.6h-3zM978 529.3h3v1.6h-3zM985.5 529.3h3v1.6h-3zM978 530.8h3v1.6h-3zM984 530.8h4.5v1.6h-4.5zM978 532.3h10.5v1.6h-10.5zM979.5 533.8h9v1.6h-9zM981 535.3h7.5v1.6h-7.5zM981 536.8h7.5v1.6h-7.5zM982.5 538.3h6v1.6h-6zM982.5 539.8h6v1.6h-6zM984 541.3h4.5v1.6h-4.5zM984 542.8h4.5v1.6h-4.5zM982.5 544.3h6v1.6h-6zM982.5 545.8h7.5v1.6h-7.5zM981 547.3h9v1.6h-9zM981 548.8h3v1.6h-3zM985.5 548.8h4.5v1.6h-4.5zM981 550.3h3v1.6h-3zM987 550.3h3v1.6h-3zM981 551.8h3v1.6h-3zM987 551.8h4.5v1.6h-4.5zM981 553.3h10.5v1.6h-10.5zM982.5 554.8h9v0.8h-9z"/>
<path fill="#79e345" d="M994.5 406.3h9v1.6h-9zM994.5 407.8h7.5v1.6h-7.5zM994.5 409.3h4.5v1.6h-4.5zM996 410.8h1.5v1.6h-1.5zM994.5 431.8h3v1.6h-3zM994.5 433.3h4.5v1.6h-4.5zM993 434.8h7.5v1.6h-7.5zM993 436.3h7.5v1.6h-7.5zM963 437.8h10.5v1.6h-10.5zM994.5 437.8h6v1.6h-6zM963 439.3h1.5v1.6h-1.5zM972 439.3h4.5v1.6h-4.5zM994.5 439.3h6v1.6h-6zM961.5 440.8h1.5v1.6h-1.5zM973.5 440.8h4.5v1.6h-4.5zM994.5 440.8h4.5v1.6h-4.5zM960 442.3h1.5v1.6h-1.5zM973.5 442.3h4.5v1.6h-4.5zM996 442.3h1.5v1.6h-1.5zM960 443.8h1.5v1.6h-1.5zM975 443.8h3v1.6h-3zM958.5 445.3h1.5v1.6h-1.5zM975 445.3h3v1.6h-3zM958.5 446.8h1.5v1.6h-1.5zM975 446.8h3v1.6h-3zM958.5 448.3h1.5v1.6h-1.5zM975 448.3h3v1.6h-3zM975 449.8h3v1.6h-3zM957 451.3h1.5v1.6h-1.5zM975 451.3h3v1.6h-3zM957 452.8h1.5v1.6h-1.5zM975 452.8h3v1.6h-3zM957 454.3h1.5v1.6h-1.5zM975 454.3h3v1.6h-3zM957 455.8h1.5v1.6h-1.5zM975 455.8h1.5v1.6h-1.5zM958.5 457.3h1.5v1.6h-1.5zM975 457.3h1.5v1.6h-1.5zM958.5 458.8h1.5v1.6h-1.5zM975 458.8h1.5v1.6h-1.5zM958.5 460.3h1.5v1.6h-1.5zM975 460.3h1.5v1.6h-1.5zM958.5 461.8h1.5v1.6h-1.5zM975 461.8h1.5v1.6h-1.5zM958.5 463.3h1.5v1.6h-1.5zM973.5 463.3h3v1.6h-3zM958.5 464.8h1.5v1.6h-1.5zM973.5 464.8h1.5v1.6h-1.5zM958.5 466.3h1.5v1.6h-1.5zM973.5 466.3h1.5v1.6h-1.5zM958.5 467.8h1.5v1.6h-1.5zM973.5 467.8h3v1.6h-3zM958.5 469.3h1.5v1.6h-1.5zM973.5 469.3h3v1.6h-3zM958.5 470.8h1.5v1.6h-1.5zM975 470.8h1.5v1.6h-1.5zM958.5 472.3h1.5v1.6h-1.5zM975 472.3h3v1.6h-3zM957 473.8h1.5v1.6h-1.5zM976.5 473.8h1.5v1.6h-1.5zM957 475.3h1.5v1.6h-1.5zM976.5 475.3h1.5v1.6h-1.5zM957 476.8h1.5v1.6h-1.5zM976.5 476.8h3v1.6h-3zM957 478.3h1.5v1.6h-1.5zM976.5 478.3h3v1.6h-3zM957 479.8h1.5v1.6h-1.5zM976.5 479.8h3v1.6h-3zM957 481.3h1.5v1.6h-1.5zM978 481.3h1.5v1.6h-1.5zM957 482.8h1.5v1.6h-1.5zM978 482.8h1.5v1.6h-1.5zM957 484.3h1.5v1.6h-1.5zM978 484.3h1.5v1.6h-1.5zM958.5 485.8h1.5v1.6h-1.5zM976.5 485.8h3v1.6h-3zM958.5 487.3h1.5v1.6h-1.5zM976.5 487.3h3v1.6h-3zM958.5 488.8h1.5v1.6h-1.5zM976.5 488.8h1.5v1.6h-1.5zM960 490.3h1.5v1.6h-1.5zM976.5 490.3h1.5v1.6h-1.5zM960 491.8h3v1.6h-3zM975 491.8h3v1.6h-3zM961.5 493.3h1.5v1.6h-1.5zM975 493.3h3v1.6h-3zM961.5 494.8h4.5v1.6h-4.5zM975 494.8h3v1.6h-3zM964.5 496.3h6v1.6h-6zM973.5 496.3h6v1.6h-6zM967.5 497.8h12v1.6h-12zM969 499.3h12v1.6h-12zM970.5 500.8h10.5v1.6h-10.5zM970.5 502.3h12v1.6h-12zM972 503.8h4.5v1.6h-4.5zM978 503.8h4.5v1.6h-4.5zM972 505.3h3v1.6h-3zM981 505.3h3v1.6h-3zM972 506.8h3v1.6h-3zM982.5 506.8h3v1.6h-3zM972 508.3h3v1.6h-3zM982.5 508.3h3v1.6h-3zM972 509.8h3v1.6h-3zM984 509.8h1.5v1.6h-1.5zM973.5 511.3h1.5v1.6h-1.5zM984 511.3h3v1.6h-3zM973.5 512.8h3v1.6h-3zM984 512.8h3v1.6h-3zM973.5 514.3h3v1.6h-3zM984 514.3h3v1.6h-3zM975 515.8h3v1.6h-3zM984 515.8h3v1.6h-3zM975 517.3h3v1.6h-3zM984 517.3h3v1.6h-3zM976.5 518.8h3v1.6h-3zM982.5 518.8h4.5v1.6h-4.5zM976.5 520.3h10.5v1.6h-10.5zM978 521.8h7.5v1.6h-7.5zM978 523.3h7.5v1.6h-7.5zM979.5 524.8h6v1.6h-6zM979.5 526.3h6v1.6h-6zM979.5 527.8h6v1.6h-6zM981 529.3h4.5v1.6h-4.5zM981 530.8h3v1.6h-3zM984 548.8h1.5v1.6h-1.5zM984 550.3h3v1.6h-3zM984 551.8h3v1.6h-3z"/>
<path fill="#a4e632" d="M964.5 439.3h7.5v1.6h-7.5zM963 440.8h10.5v1.6h-10.5zM961.5 442.3h4.5v1.6h-4.5zM969 442.3h4.5v1.6h-4.5zM961.5 443.8h1.5v1.6h-1.5zM970.5 443.8h4.5v1.6h-4.5zM960 445.3h3v1.6h-3zM972 445.3h3v1.6h-3zM960 446.8h1.5v1.6h-1.5zM972 446.8h3v1.6h-3zM973.5 448.3h1.5v1.6h-1.5zM958.5 449.8h1.5v1.6h-1.5zM973.5 449.8h1.5v1.6h-1.5zM958.5 451.3h1.5v1.6h-1.5zM973.5 451.3h1.5v1.6h-1.5zM958.5 452.8h1.5v1.6h-1.5zM973.5 452.8h1.5v1.6h-1.5zM958.5 454.3h1.5v1.6h-1.5zM973.5 454.3h1.5v1.6h-1.5zM958.5 455.8h1.5v1.6h-1.5zM973.5 455.8h1.5v1.6h-1.5zM972 457.3h3v1.6h-3zM960 458.8h1.5v1.6h-1.5zM972 458.8h3v1.6h-3zM960 460.3h1.5v1.6h-1.5zM972 460.3h3v1.6h-3zM960 461.8h1.5v1.6h-1.5zM972 461.8h3v1.6h-3zM960 463.3h3v1.6h-3zM972 463.3h1.5v1.6h-1.5zM960 464.8h3v1.6h-3zM970.5 464.8h3v1.6h-3zM960 466.3h3v1.6h-3zM970.5 466.3h3v1.6h-3zM960 467.8h3v1.6h-3zM970.5 467.8h3v1.6h-3zM960 469.3h3v1.6h-3zM970.5 469.3h3v1.6h-3zM960 470.8h3v1.6h-3zM970.5 470.8h4.5v1.6h-4.5zM960 472.3h1.5v1.6h-1.5zM972 472.3h3v1.6h-3zM958.5 473.8h1.5v1.6h-1.5zM973.5 473.8h3v1.6h-3zM958.5 475.3h1.5v1.6h-1.5zM975 475.3h1.5v1.6h-1.5zM958.5 476.8h1.5v1.6h-1.5zM975 476.8h1.5v1.6h-1.5zM975 478.3h1.5v1.6h-1.5zM975 479.8h1.5v1.6h-1.5zM958.5 481.3h1.5v1.6h-1.5zM975 481.3h3v1.6h-3zM958.5 482.8h1.5v1.6h-1.5zM975 482.8h3v1.6h-3zM958.5 484.3h1.5v1.6h-1.5zM975 484.3h3v1.6h-3zM960 485.8h1.5v1.6h-1.5zM975 485.8h1.5v1.6h-1.5zM960 487.3h1.5v1.6h-1.5zM975 487.3h1.5v1.6h-1.5zM960 488.8h3v1.6h-3zM973.5 488.8h3v1.6h-3zM961.5 490.3h3v1.6h-3zM973.5 490.3h3v1.6h-3zM963 491.8h3v1.6h-3zM972 491.8h3v1.6h-3zM963 493.3h12v1.6h-12zM966 494.8h9v1.6h-9zM970.5 496.3h3v1.6h-3zM976.5 503.8h1.5v1.6h-1.5zM975 505.3h6v1.6h-6zM975 506.8h7.5v1.6h-7.5zM975 508.3h7.5v1.6h-7.5zM975 509.8h9v1.6h-9zM975 511.3h9v1.6h-9zM976.5 512.8h7.5v1.6h-7.5zM976.5 514.3h7.5v1.6h-7.5zM978 515.8h6v1.6h-6zM978 517.3h6v1.6h-6zM979.5 518.8h3v1.6h-3z"/>
<path fill="#c6e62b" d="M966 442.3h3v1.6h-3zM963 443.8h7.5v1.6h-7.5zM963 445.3h1.5v1.6h-1.5zM967.5 445.3h4.5v1.6h-4.5zM961.5 446.8h1.5v1.6h-1.5zM970.5 446.8h1.5v1.6h-1.5zM960 448.3h1.5v1.6h-1.5zM970.5 448.3h3v1.6h-3zM960 449.8h1.5v1.6h-1.5zM972 449.8h1.5v1.6h-1.5zM960 451.3h1.5v1.6h-1.5zM972 451.3h1.5v1.6h-1.5zM960 452.8h1.5v1.6h-1.5zM972 452.8h1.5v1.6h-1.5zM960 454.3h1.5v1.6h-1.5zM970.5 454.3h3v1.6h-3zM960 455.8h1.5v1.6h-1.5zM970.5 455.8h3v1.6h-3zM960 457.3h3v1.6h-3zM970.5 457.3h1.5v1.6h-1.5zM961.5 458.8h1.5v1.6h-1.5zM969 458.8h3v1.6h-3zM961.5 460.3h3v1.6h-3zM969 460.3h3v1.6h-3zM961.5 461.8h3v1.6h-3zM967.5 461.8h4.5v1.6h-4.5zM963 463.3h9v1.6h-9zM963 464.8h7.5v1.6h-7.5zM963 466.3h7.5v1.6h-7.5zM963 467.8h7.5v1.6h-7.5zM963 469.3h7.5v1.6h-7.5zM963 470.8h7.5v1.6h-7.5zM961.5 472.3h10.5v1.6h-10.5zM960 473.8h3v1.6h-3zM969 473.8h4.5v1.6h-4.5zM960 475.3h1.5v1.6h-1.5zM970.5 475.3h4.5v1.6h-4.5zM960 476.8h1.5v1.6h-1.5zM972 476.8h3v1.6h-3zM958.5 478.3h1.5v1.6h-1.5zM973.5 478.3h1.5v1.6h-1.5zM958.5 479.8h1.5v1.6h-1.5zM973.5 479.8h1.5v1.6h-1.5zM960 481.3h1.5v1.6h-1.5zM973.5 481.3h1.5v1.6h-1.5zM960 482.8h1.5v1.6h-1.5zM973.5 482.8h1.5v1.6h-1.5zM960 484.3h1.5v1.6h-1.5zM973.5 484.3h1.5v1.6h-1.5zM961.5 485.8h1.5v1.6h-1.5zM972 485.8h3v1.6h-3zM961.5 487.3h3v1.6h-3zM972 487.3h3v1.6h-3zM963 488.8h10.5v1.6h-10.5zM964.5 490.3h9v1.6h-9zM966 491.8h6v1.6h-6z"/>
<path fill="#e8e624" d="M964.5 445.3h3v1.6h-3zM963 446.8h7.5v1.6h-7.5zM961.5 448.3h1.5v1.6h-1.5zM969 448.3h1.5v1.6h-1.5zM961.5 449.8h1.5v1.6h-1.5zM969 449.8h3v1.6h-3zM961.5 451.3h1.5v1.6h-1.5zM969 451.3h3v1.6h-3zM961.5 452.8h1.5v1.6h-1.5zM969 452.8h3v1.6h-3zM961.5 454.3h1.5v1.6h-1.5zM969 454.3h1.5v1.6h-1.5zM961.5 455.8h1.5v1.6h-1.5zM969 455.8h1.5v1.6h-1.5zM963 457.3h7.5v1.6h-7.5zM963 458.8h6v1.6h-6zM964.5 460.3h4.5v1.6h-4.5zM964.5 461.8h3v1.6h-3zM963 473.8h6v1.6h-6zM961.5 475.3h9v1.6h-9zM961.5 476.8h1.5v1.6h-1.5zM969 476.8h3v1.6h-3zM960 478.3h3v1.6h-3zM970.5 478.3h3v1.6h-3zM960 479.8h3v1.6h-3zM970.5 479.8h3v1.6h-3zM961.5 481.3h1.5v1.6h-1.5zM970.5 481.3h3v1.6h-3zM961.5 482.8h1.5v1.6h-1.5zM970.5 482.8h3v1.6h-3zM961.5 484.3h4.5v1.6h-4.5zM969 484.3h4.5v1.6h-4.5zM963 485.8h9v1.6h-9zM964.5 487.3h7.5v1.6h-7.5z"/>
<path fill="#edcc25" d="M963 448.3h6v1.6h-6zM963 449.8h1.5v1.6h-1.5zM967.5 449.8h1.5v1.6h-1.5zM963 451.3h1.5v1.6h-1.5zM967.5 451.3h1.5v1.6h-1.5zM963 452.8h1.5v1.6h-1.5zM967.5 452.8h1.5v1.6h-1.5zM963 454.3h6v1.6h-6zM963 455.8h6v1.6h-6zM963 476.8h6v1.6h-6zM963 478.3h7.5v1.6h-7.5zM963 479.8h7.5v1.6h-7.5zM963 481.3h7.5v1.6h-7.5zM963 482.8h7.5v1.6h-7.5zM966 484.3h3v1.6h-3z"/>
<path fill="#f2b226" d="M964.5 449.8h3v1.6h-3zM964.5 451.3h3v1.6h-3zM964.5 452.8h3v1.6h-3z"/>
<path d="M877.5 407.8h1.5M880.5 407.8h3M885 407.8h1.5M889.5 407.8h1.5M895.5 407.8h1.5M916.5 407.8h1.5M930 407.8h10.5M945 407.8h1.5M970.5 407.8h1.5M979.5 407.8h3M990 407.8h1.5M1002 407.8h1.5M1009.5 407.8h1.5M879 409.3h1.5M883.5 409.3h1.5M888 409.3h1.5M898.5 409.3h3M903 409.3h1.5M906 409.3h1.5M915 409.3h1.5M919.5 409.3h1.5M928.5 409.3h1.5M934.5 409.3h1.5M942 409.3h3M948 409.3h1.5M969 409.3h1.5M978 409.3h4.5M999 409.3h3M877.5 410.8h1.5M891 410.8h1.5M894 410.8h1.5M897 410.8h1.5M910.5 410.8h1.5M913.5 410.8h1.5M918 410.8h1.5M921 410.8h1.5M928.5 410.8h1.5M936 410.8h1.5M940.5 410.8h1.5M978 410.8h3M994.5 410.8h1.5M997.5 410.8h1.5M1014 410.8h1.5M877.5 412.3h1.5M883.5 412.3h1.5M888 412.3h1.5M897 412.3h1.5M916.5 412.3h1.5M919.5 412.3h1.5M922.5 412.3h6M930 412.3h1.5M934.5 412.3h3M976.5 412.3h4.5M996 412.3h1.5M1009.5 412.3h1.5M879 413.8h4.5M885 413.8h1.5M891 413.8h1.5M894 413.8h1.5M898.5 413.8h3M915 413.8h1.5M918 413.8h1.5M921 413.8h6M928.5 413.8h1.5M931.5 413.8h1.5M940.5 413.8h1.5M954 413.8h4.5M969 413.8h1.5M976.5 413.8h3M991.5 413.8h1.5M1012.5 413.8h1.5M877.5 415.3h1.5M882 415.3h3M886.5 415.3h1.5M889.5 415.3h1.5M895.5 415.3h3M901.5 415.3h3M912 415.3h1.5M916.5 415.3h1.5M919.5 415.3h6M927 415.3h4.5M933 415.3h1.5M937.5 415.3h1.5M942 415.3h1.5M952.5 415.3h1.5M958.5 415.3h3M975 415.3h3M1000.5 415.3h4.5M1009.5 415.3h1.5M1014 415.3h1.5M877.5 416.8h4.5M883.5 416.8h6M892.5 416.8h3M898.5 416.8h3M918 416.8h3M925.5 416.8h3M930 416.8h3M934.5 416.8h3M939 416.8h1.5M943.5 416.8h1.5M948 416.8h1.5M961.5 416.8h1.5M970.5 416.8h1.5M973.5 416.8h4.5M999 416.8h1.5M1005 416.8h4.5M1011 416.8h1.5M879 418.3h7.5M889.5 418.3h3M895.5 418.3h4.5M913.5 418.3h1.5M921 418.3h4.5M928.5 418.3h1.5M933 418.3h6M940.5 418.3h1.5M945 418.3h1.5M951 418.3h1.5M972 418.3h10.5M991.5 418.3h1.5M1008 418.3h3M1012.5 418.3h1.5M877.5 419.8h6M886.5 419.8h3M900 419.8h1.5M907.5 419.8h3M915 419.8h3M925.5 419.8h1.5M931.5 419.8h3M937.5 419.8h3M942 419.8h1.5M946.5 419.8h1.5M949.5 419.8h1.5M954 419.8h6M963 419.8h1.5M972 419.8h3M982.5 419.8h1.5M1002 419.8h6M1009.5 419.8h6M883.5 421.3h3M892.5 421.3h3M901.5 421.3h1.5M918 421.3h1.5M927 421.3h1.5M930 421.3h1.5M934.5 421.3h3M939 421.3h3M943.5 421.3h1.5M952.5 421.3h1.5M972 421.3h3M997.5 421.3h1.5M1005 421.3h4.5M1011 421.3h1.5M877.5 422.8h6M889.5 422.8h3M895.5 422.8h1.5M910.5 422.8h1.5M919.5 422.8h1.5M931.5 422.8h7.5M942 422.8h1.5M945 422.8h1.5M948 422.8h1.5M970.5 422.8h3M1008 422.8h3M886.5 424.3h3M897 424.3h1.5M903 424.3h1.5M910.5 424.3h1.5M921 424.3h1.5M928.5 424.3h3M939 424.3h3M958.5 424.3h1.5M963 424.3h1.5M969 424.3h4.5M997.5 424.3h1.5M885 425.8h1.5M898.5 425.8h1.5M904.5 425.8h1.5M931.5 425.8h7.5M943.5 425.8h1.5M952.5 425.8h1.5M957 425.8h1.5M969 425.8h3M976.5 425.8h1.5M882 427.3h3M892.5 427.3h3M900 427.3h1.5M906 427.3h4.5M942 427.3h1.5M954 427.3h3M961.5 427.3h1.5M967.5 427.3h3M978 427.3h3M990 427.3h1.5M880.5 428.8h1.5M889.5 428.8h3M895.5 428.8h1.5M901.5 428.8h1.5M919.5 428.8h3M940.5 428.8h1.5M960 428.8h1.5M967.5 428.8h4.5M981 428.8h3M999 428.8h1.5M1002 428.8h1.5M888 430.3h1.5M897 430.3h1.5M903 430.3h1.5M916.5 430.3h3M927 430.3h13.5M948 430.3h1.5M957 430.3h3M966 430.3h3M972 430.3h1.5M879 431.8h1.5M898.5 431.8h1.5M904.5 431.8h1.5M915 431.8h1.5M949.5 431.8h7.5M964.5 431.8h3M972 431.8h1.5M994.5 431.8h3M1000.5 431.8h1.5M1005 431.8h1.5M888 433.3h3M906 433.3h1.5M913.5 433.3h1.5M964.5 433.3h7.5M997.5 433.3h1.5M1003.5 433.3h1.5M1008 433.3h3M891 434.8h9M907.5 434.8h1.5M916.5 434.8h6M963 434.8h9M978 434.8h4.5M993 434.8h1.5M999 434.8h1.5M1002 434.8h1.5M1006.5 434.8h1.5M1011 434.8h4.5M886.5 436.3h6M907.5 436.3h1.5M961.5 436.3h4.5M972 436.3h6M982.5 436.3h1.5M1005 436.3h1.5M1008 436.3h1.5M883.5 437.8h3M888 437.8h3M892.5 437.8h3M961.5 437.8h12M993 437.8h1.5M1003.5 437.8h1.5M1009.5 437.8h1.5M879 439.3h1.5M882 439.3h1.5M886.5 439.3h1.5M891 439.3h3M895.5 439.3h7.5M906 439.3h1.5M921 439.3h1.5M960 439.3h3M964.5 439.3h7.5M973.5 439.3h3M1006.5 439.3h1.5M880.5 440.8h1.5M888 440.8h4.5M894 440.8h1.5M903 440.8h3M916.5 440.8h4.5M925.5 440.8h1.5M958.5 440.8h6M972 440.8h1.5M976.5 440.8h1.5M990 440.8h1.5M999 440.8h1.5M885 442.3h1.5M895.5 442.3h1.5M913.5 442.3h1.5M924 442.3h1.5M958.5 442.3h4.5M966 442.3h3M982.5 442.3h1.5M994.5 442.3h1.5M997.5 442.3h1.5M879 443.8h1.5M885 443.8h1.5M888 443.8h1.5M897 443.8h3M915 443.8h3M921 443.8h3M957 443.8h3M963 443.8h3M969 443.8h1.5M973.5 443.8h1.5M987 443.8h1.5M991.5 443.8h1.5M996 443.8h1.5M877.5 445.3h1.5M889.5 445.3h3M918 445.3h3M955.5 445.3h6M964.5 445.3h3M970.5 445.3h1.5M981 445.3h1.5M985.5 445.3h1.5M988.5 445.3h3M993 445.3h1.5M880.5 446.8h1.5M886.5 446.8h1.5M900 446.8h1.5M955.5 446.8h3M961.5 446.8h3M967.5 446.8h3M984 446.8h1.5M987 446.8h1.5M991.5 446.8h1.5M994.5 446.8h1.5M1008 446.8h1.5M882 448.3h1.5M912 448.3h4.5M954 448.3h3M960 448.3h9M972 448.3h1.5M982.5 448.3h1.5M985.5 448.3h1.5M988.5 448.3h1.5M996 448.3h6M1003.5 448.3h1.5M888 449.8h1.5M900 449.8h1.5M909 449.8h3M916.5 449.8h9M954 449.8h3M958.5 449.8h1.5M964.5 449.8h3M970.5 449.8h1.5M979.5 449.8h1.5M984 449.8h1.5M987 449.8h1.5M990 449.8h1.5M993 449.8h1.5M1002 449.8h1.5M1008 449.8h1.5M883.5 451.3h1.5M906 451.3h3M925.5 451.3h1.5M952.5 451.3h3M957 451.3h1.5M981 451.3h1.5M985.5 451.3h1.5M988.5 451.3h1.5M991.5 451.3h1.5M994.5 451.3h1.5M1014 451.3h1.5M889.5 452.8h1.5M898.5 452.8h1.5M904.5 452.8h1.5M927 452.8h1.5M951 452.8h3M982.5 452.8h1.5M996 452.8h7.5M1005 452.8h3M1009.5 452.8h1.5M885 454.3h1.5M915 454.3h3M928.5 454.3h1.5M951 454.3h3M964.5 454.3h3M970.5 454.3h1.5M990 454.3h1.5M993 454.3h1.5M1003.5 454.3h1.5M1008 454.3h1.5M1012.5 454.3h1.5M891 455.8h1.5M897 455.8h1.5M903 455.8h1.5M910.5 455.8h4.5M918 455.8h3M930 455.8h1.5M949.5 455.8h3M976.5 455.8h1.5M994.5 455.8h13.5M1011 455.8h1.5M895.5 457.3h1.5M901.5 457.3h1.5M909 457.3h1.5M921 457.3h1.5M949.5 457.3h4.5M957 457.3h3M961.5 457.3h7.5M972 457.3h1.5M982.5 457.3h1.5M990 457.3h1.5M1006.5 457.3h4.5M885 458.8h1.5M892.5 458.8h3M900 458.8h1.5M906 458.8h3M922.5 458.8h1.5M946.5 458.8h4.5M960 458.8h1.5M969 458.8h1.5M985.5 458.8h1.5M999 458.8h7.5M879 460.3h6M898.5 460.3h1.5M903 460.3h3M931.5 460.3h1.5M945 460.3h3M951 460.3h1.5M963 460.3h1.5M978 460.3h1.5M982.5 460.3h1.5M997.5 460.3h1.5M1005 460.3h10.5M877.5 461.8h1.5M895.5 461.8h3M901.5 461.8h1.5M907.5 461.8h4.5M933 461.8h1.5M943.5 461.8h1.5M948 461.8h3M967.5 461.8h1.5M979.5 461.8h1.5M1000.5 461.8h4.5M877.5 463.3h10.5M894 463.3h1.5M898.5 463.3h3M912 463.3h1.5M934.5 463.3h1.5M945 463.3h3M961.5 463.3h1.5M964.5 463.3h3M973.5 463.3h1.5M981 463.3h1.5M985.5 463.3h1.5M990 463.3h1.5M996 463.3h1.5M880.5 464.8h4.5M888 464.8h1.5M892.5 464.8h1.5M895.5 464.8h3M900 464.8h4.5M936 464.8h1.5M942 464.8h1.5M948 464.8h1.5M970.5 464.8h1.5M975 464.8h1.5M984 464.8h1.5M991.5 464.8h4.5M999 464.8h1.5M1003.5 464.8h12M877.5 466.3h3M885 466.3h1.5M891 466.3h1.5M894 466.3h1.5M897 466.3h3M904.5 466.3h1.5M907.5 466.3h1.5M922.5 466.3h1.5M943.5 466.3h3M997.5 466.3h1.5M1000.5 466.3h3M1009.5 466.3h4.5M877.5 467.8h7.5M886.5 467.8h1.5M892.5 467.8h4.5M909 467.8h4.5M921 467.8h1.5M942 467.8h1.5M951 467.8h3M975 467.8h1.5M984 467.8h1.5M994.5 467.8h3M999 467.8h1.5M1003.5 467.8h6M1014 467.8h1.5M880.5 469.3h1.5M885 469.3h1.5M891 469.3h1.5M906 469.3h1.5M918 469.3h3M937.5 469.3h1.5M943.5 469.3h1.5M981 469.3h1.5M991.5 469.3h3M997.5 469.3h1.5M1000.5 469.3h3M1006.5 469.3h9M879 470.8h1.5M882 470.8h1.5M885 470.8h6M892.5 470.8h1.5M915 470.8h3M942 470.8h1.5M951 470.8h3M973.5 470.8h1.5M978 470.8h3M990 470.8h1.5M996 470.8h1.5M999 470.8h1.5M1003.5 470.8h3M1009.5 470.8h6M882 472.3h1.5M912 472.3h3M937.5 472.3h4.5M961.5 472.3h1.5M970.5 472.3h1.5M976.5 472.3h1.5M982.5 472.3h1.5M988.5 472.3h1.5M994.5 472.3h1.5M1002 472.3h1.5M1006.5 472.3h3M1011 472.3h3M879 473.8h3M888 473.8h4.5M925.5 473.8h6M948 473.8h1.5M957 473.8h4.5M963 473.8h6M972 473.8h1.5M975 473.8h1.5M981 473.8h1.5M993 473.8h1.5M997.5 473.8h1.5M1000.5 473.8h1.5M1005 473.8h1.5M1009.5 473.8h1.5M1014 473.8h1.5M882 475.3h6M906 475.3h1.5M910.5 475.3h1.5M924 475.3h1.5M931.5 475.3h7.5M946.5 475.3h1.5M949.5 475.3h1.5M954 475.3h3M961.5 475.3h1.5M969 475.3h1.5M973.5 475.3h1.5M979.5 475.3h1.5M991.5 475.3h1.5M996 475.3h1.5M999 475.3h1.5M1003.5 475.3h1.5M1006.5 475.3h3M1012.5 475.3h1.5M877.5 476.8h4.5M883.5 476.8h1.5M936 476.8h1.5M945 476.8h1.5M951 476.8h3M963 476.8h6M970.5 476.8h1.5M978 476.8h1.5M1002 476.8h1.5M1011 476.8h1.5M882 478.3h1.5M885 478.3h3M904.5 478.3h1.5M909 478.3h1.5M924 478.3h7.5M943.5 478.3h1.5M958.5 478.3h3M969 478.3h1.5M972 478.3h1.5M994.5 478.3h1.5M997.5 478.3h1.5M1005 478.3h1.5M877.5 479.8h4.5M883.5 479.8h1.5M891 479.8h1.5M931.5 479.8h1.5M934.5 479.8h1.5M948 479.8h1.5M1011 479.8h4.5M892.5 481.3h1.5M903 481.3h1.5M933 481.3h1.5M943.5 481.3h1.5M948 481.3h1.5M958.5 481.3h3M976.5 481.3h1.5M985.5 481.3h1.5M997.5 481.3h1.5M1005 481.3h1.5M889.5 482.8h1.5M894 482.8h3M901.5 482.8h1.5M1002 482.8h1.5M1006.5 482.8h1.5M879 484.3h1.5M883.5 484.3h1.5M886.5 484.3h1.5M897 484.3h4.5M907.5 484.3h1.5M945 484.3h1.5M952.5 484.3h3M963 484.3h3M969 484.3h1.5M988.5 484.3h1.5M994.5 484.3h1.5M1008 484.3h1.5M1012.5 484.3h3M877.5 485.8h1.5M880.5 485.8h3M885 485.8h1.5M891 485.8h1.5M951 485.8h1.5M955.5 485.8h7.5M966 485.8h3M972 485.8h1.5M976.5 485.8h1.5M984 485.8h1.5M991.5 485.8h1.5M999 485.8h1.5M1009.5 485.8h3M879 487.3h3M883.5 487.3h1.5M904.5 487.3h3M922.5 487.3h9M946.5 487.3h1.5M949.5 487.3h1.5M963 487.3h1.5M1003.5 487.3h1.5M877.5 488.8h1.5M882 488.8h1.5M888 488.8h1.5M892.5 488.8h12M921 488.8h1.5M931.5 488.8h1.5M961.5 488.8h1.5M964.5 488.8h7.5M973.5 488.8h1.5M978 488.8h1.5M999 488.8h1.5M1003.5 488.8h1.5M919.5 490.3h1.5M948 490.3h1.5M957 490.3h4.5M963 490.3h1.5M987 490.3h1.5M882 491.8h1.5M888 491.8h1.5M903 491.8h9M924 491.8h3M933 491.8h1.5M951 491.8h6M961.5 491.8h1.5M964.5 491.8h1.5M972 491.8h1.5M975 491.8h1.5M982.5 491.8h1.5M990 491.8h1.5M1002 491.8h1.5M877.5 493.3h4.5M883.5 493.3h1.5M897 493.3h6M912 493.3h1.5M918 493.3h1.5M922.5 493.3h1.5M927 493.3h1.5M940.5 493.3h6M960 493.3h1.5M966 493.3h6M985.5 493.3h1.5M993 493.3h1.5M882 494.8h1.5M885 494.8h1.5M895.5 494.8h1.5M921 494.8h1.5M928.5 494.8h1.5M946.5 494.8h1.5M949.5 494.8h1.5M958.5 494.8h1.5M963 494.8h3M988.5 494.8h1.5M1000.5 494.8h1.5M1008 494.8h1.5M877.5 496.3h4.5M883.5 496.3h1.5M886.5 496.3h1.5M894 496.3h1.5M933 496.3h1.5M939 496.3h1.5M948 496.3h1.5M952.5 496.3h6M960 496.3h4.5M966 496.3h4.5M973.5 496.3h1.5M978 496.3h1.5M981 496.3h1.5M984 496.3h1.5M1005 496.3h3M1009.5 496.3h3M882 497.8h1.5M892.5 497.8h1.5M898.5 497.8h7.5M951 497.8h1.5M958.5 497.8h1.5M961.5 497.8h1.5M964.5 497.8h3M970.5 497.8h3M987 497.8h1.5M991.5 497.8h1.5M996 497.8h1.5M1000.5 497.8h1.5M1005 497.8h1.5M879 499.3h3M885 499.3h1.5M891 499.3h1.5M895.5 499.3h3M906 499.3h1.5M937.5 499.3h1.5M955.5 499.3h3M960 499.3h1.5M963 499.3h1.5M967.5 499.3h1.5M979.5 499.3h1.5M982.5 499.3h1.5M985.5 499.3h1.5M990 499.3h1.5M994.5 499.3h1.5M1006.5 499.3h1.5M1011 499.3h1.5M877.5 500.8h1.5M889.5 500.8h1.5M928.5 500.8h1.5M949.5 500.8h1.5M954 500.8h1.5M958.5 500.8h1.5M961.5 500.8h1.5M964.5 500.8h1.5M969 500.8h1.5M999 500.8h1.5M1002 500.8h1.5M1008 500.8h3M883.5 502.3h1.5M894 502.3h1.5M898.5 502.3h4.5M907.5 502.3h1.5M921 502.3h1.5M931.5 502.3h1.5M952.5 502.3h1.5M957 502.3h1.5M960 502.3h1.5M963 502.3h1.5M966 502.3h1.5M981 502.3h1.5M984 502.3h1.5M988.5 502.3h1.5M993 502.3h1.5M997.5 502.3h1.5M1000.5 502.3h1.5M1003.5 502.3h1.5M888 503.8h1.5M897 503.8h1.5M903 503.8h1.5M922.5 503.8h1.5M925.5 503.8h3M955.5 503.8h1.5M958.5 503.8h1.5M961.5 503.8h1.5M964.5 503.8h1.5M967.5 503.8h1.5M970.5 503.8h1.5M976.5 503.8h1.5M987 503.8h1.5M991.5 503.8h1.5M996 503.8h1.5M1002 503.8h1.5M1005 503.8h3M1014 503.8h1.5M882 505.3h1.5M924 505.3h1.5M930 505.3h1.5M963 505.3h1.5M966 505.3h1.5M975 505.3h1.5M978 505.3h3M982.5 505.3h1.5M985.5 505.3h1.5M999 505.3h1.5M1003.5 505.3h1.5M1008 505.3h6M880.5 506.8h1.5M904.5 506.8h1.5M909 506.8h1.5M918 506.8h1.5M928.5 506.8h1.5M931.5 506.8h6M960 506.8h1.5M981 506.8h1.5M984 506.8h1.5M990 506.8h1.5M994.5 506.8h1.5M1000.5 506.8h1.5M1005 506.8h1.5M879 508.3h1.5M913.5 508.3h1.5M927 508.3h1.5M930 508.3h1.5M937.5 508.3h4.5M949.5 508.3h1.5M957 508.3h1.5M964.5 508.3h1.5M969 508.3h1.5M988.5 508.3h1.5M997.5 508.3h1.5M1006.5 508.3h3M879 509.8h1.5M886.5 509.8h1.5M906 509.8h1.5M910.5 509.8h1.5M936 509.8h1.5M942 509.8h7.5M961.5 509.8h1.5M967.5 509.8h1.5M982.5 509.8h1.5M987 509.8h1.5M993 509.8h1.5M1002 509.8h1.5M1009.5 509.8h6M880.5 511.3h6M907.5 511.3h3M912 511.3h1.5M915 511.3h1.5M919.5 511.3h1.5M934.5 511.3h1.5M940.5 511.3h6M954 511.3h1.5M958.5 511.3h1.5M963 511.3h1.5M966 511.3h1.5M972 511.3h1.5M985.5 511.3h1.5M904.5 512.8h3M910.5 512.8h1.5M930 512.8h4.5M937.5 512.8h3M946.5 512.8h3M960 512.8h1.5M970.5 512.8h1.5M975 512.8h1.5M991.5 512.8h1.5M996 512.8h1.5M999 512.8h1.5M1003.5 512.8h1.5M903 514.3h1.5M907.5 514.3h3M913.5 514.3h1.5M916.5 514.3h1.5M921 514.3h6M936 514.3h1.5M940.5 514.3h6M949.5 514.3h1.5M955.5 514.3h1.5M964.5 514.3h1.5M967.5 514.3h3M912 515.8h1.5M939 515.8h1.5M946.5 515.8h1.5M972 515.8h3M976.5 515.8h1.5M1005 515.8h1.5M897 517.3h1.5M906 517.3h3M910.5 517.3h1.5M915 517.3h1.5M918 517.3h1.5M960 517.3h1.5M966 517.3h1.5M970.5 517.3h1.5M990 517.3h1.5M882 518.8h4.5M894 518.8h1.5M898.5 518.8h1.5M916.5 518.8h1.5M919.5 518.8h3M939 518.8h1.5M969 518.8h1.5M975 518.8h1.5M978 518.8h1.5M982.5 518.8h1.5M994.5 518.8h1.5M879 520.3h3M886.5 520.3h4.5M913.5 520.3h1.5M918 520.3h3M922.5 520.3h4.5M936 520.3h1.5M940.5 520.3h1.5M946.5 520.3h1.5M949.5 520.3h1.5M958.5 520.3h1.5M967.5 520.3h1.5M972 520.3h3M979.5 520.3h3M877.5 521.8h1.5M891 521.8h4.5M898.5 521.8h1.5M901.5 521.8h1.5M915 521.8h4.5M921 521.8h3M927 521.8h4.5M937.5 521.8h1.5M942 521.8h4.5M958.5 521.8h1.5M964.5 521.8h3M970.5 521.8h1.5M976.5 521.8h1.5M985.5 521.8h1.5M1014 521.8h1.5M883.5 523.3h4.5M897 523.3h1.5M904.5 523.3h1.5M912 523.3h1.5M916.5 523.3h1.5M919.5 523.3h3M924 523.3h1.5M931.5 523.3h4.5M939 523.3h3M948 523.3h1.5M957 523.3h1.5M960 523.3h4.5M967.5 523.3h3M1005 523.3h1.5M1012.5 523.3h1.5M880.5 524.8h3M888 524.8h9M900 524.8h1.5M907.5 524.8h1.5M913.5 524.8h3M918 524.8h6M925.5 524.8h1.5M936 524.8h3M942 524.8h6M954 524.8h1.5M958.5 524.8h9M975 524.8h1.5M978 524.8h1.5M1003.5 524.8h1.5M1012.5 524.8h1.5M898.5 526.3h1.5M916.5 526.3h3M924 526.3h1.5M927 526.3h1.5M939 526.3h4.5M952.5 526.3h1.5M955.5 526.3h10.5M967.5 526.3h7.5M1006.5 526.3h4.5M1014 526.3h1.5M879 527.8h1.5M886.5 527.8h1.5M904.5 527.8h3M916.5 527.8h1.5M924 527.8h1.5M943.5 527.8h9M966 527.8h1.5M1002 527.8h1.5M1005 527.8h1.5M1011 527.8h3M885 529.3h1.5M888 529.3h3M897 529.3h1.5M918 529.3h1.5M921 529.3h1.5M954 529.3h10.5M976.5 529.3h1.5M979.5 529.3h1.5M1003.5 529.3h1.5M1006.5 529.3h9M885 530.8h1.5M889.5 530.8h1.5M897 530.8h3M909 530.8h12M922.5 530.8h1.5M928.5 530.8h1.5M940.5 530.8h13.5M964.5 530.8h1.5M984 530.8h1.5M993 530.8h1.5M997.5 530.8h1.5M1005 530.8h1.5M1008 530.8h7.5M886.5 532.3h3M900 532.3h9M915 532.3h7.5M930 532.3h1.5M952.5 532.3h9M970.5 532.3h6M981 532.3h3M1006.5 532.3h1.5M1009.5 532.3h6M879 533.8h1.5M909 533.8h6M931.5 533.8h1.5M939 533.8h1.5M943.5 533.8h9M954 533.8h4.5M961.5 533.8h1.5M967.5 533.8h3M978 533.8h1.5M1011 533.8h4.5M880.5 535.3h1.5M891 535.3h18M915 535.3h9M933 535.3h1.5M937.5 535.3h1.5M942 535.3h1.5M946.5 535.3h7.5M958.5 535.3h3M963 535.3h1.5M966 535.3h1.5M975 535.3h3M979.5 535.3h1.5M1002 535.3h6M1014 535.3h1.5M882 536.8h9M897 536.8h18M924 536.8h1.5M934.5 536.8h3M940.5 536.8h1.5M943.5 536.8h3M951 536.8h9M961.5 536.8h1.5M970.5 536.8h4.5M996 536.8h1.5M1000.5 536.8h1.5M1011 536.8h1.5M1014 536.8h1.5M892.5 538.3h4.5M904.5 538.3h6M939 538.3h1.5M942 538.3h1.5M946.5 538.3h4.5M952.5 538.3h6M960 538.3h1.5M964.5 538.3h1.5M969 538.3h1.5M978 538.3h1.5M981 538.3h1.5M1005 538.3h10.5M877.5 539.8h1.5M889.5 539.8h3M897 539.8h7.5M910.5 539.8h7.5M936 539.8h3M940.5 539.8h1.5M945 539.8h1.5M949.5 539.8h3M963 539.8h1.5M967.5 539.8h1.5M975 539.8h3M999 539.8h1.5M1003.5 539.8h1.5M1008 539.8h7.5M879 541.3h10.5M895.5 541.3h1.5M904.5 541.3h6M918 541.3h1.5M934.5 541.3h1.5M943.5 541.3h1.5M946.5 541.3h3M952.5 541.3h3M958.5 541.3h1.5M966 541.3h1.5M972 541.3h3M982.5 541.3h1.5M1002 541.3h1.5M1005 541.3h3M1009.5 541.3h6M894 542.8h1.5M901.5 542.8h3M910.5 542.8h3M939 542.8h1.5M942 542.8h1.5M945 542.8h1.5M948 542.8h4.5M955.5 542.8h1.5M961.5 542.8h1.5M970.5 542.8h1.5M979.5 542.8h1.5M991.5 542.8h1.5M994.5 542.8h1.5M1008 542.8h3M892.5 544.3h1.5M900 544.3h1.5M913.5 544.3h1.5M919.5 544.3h1.5M925.5 544.3h1.5M943.5 544.3h1.5M946.5 544.3h1.5M951 544.3h3M964.5 544.3h1.5M969 544.3h1.5M979.5 544.3h1.5M982.5 544.3h1.5M1003.5 544.3h1.5M1006.5 544.3h1.5M1011 544.3h4.5M945 545.8h1.5M948 545.8h3M954 545.8h1.5M957 545.8h1.5M988.5 545.8h1.5M997.5 545.8h1.5M1000.5 545.8h1.5M1008 545.8h3M900 547.3h3M913.5 547.3h1.5M967.5 547.3h1.5M981 547.3h1.5M1011 547.3h4.5M877.5 548.8h1.5M892.5 548.8h1.5M903 548.8h10.5M919.5 548.8h1.5M927 548.8h1.5M934.5 548.8h1.5M946.5 548.8h1.5M949.5 548.8h3M955.5 548.8h1.5M984 548.8h1.5M1005 548.8h1.5M879 550.3h3M894 550.3h3M946.5 550.3h1.5M949.5 550.3h1.5M955.5 550.3h1.5M985.5 550.3h1.5M993 550.3h1.5M897 551.8h13.5M916.5 551.8h3M928.5 551.8h1.5M939 551.8h1.5M945 551.8h1.5M951 551.8h1.5M967.5 551.8h1.5M990 551.8h1.5M996 551.8h1.5M1006.5 551.8h1.5M910.5 553.3h6M936 553.3h1.5M942 553.3h3M948 553.3h1.5M954 553.3h1.5M957 553.3h1.5M961.5 553.3h1.5M964.5 553.3h1.5M984 553.3h3M999 553.3h1.5M1002 553.3h1.5M880.5 554.8h1.5M885 554.8h7.5M900 554.8h7.5M930 554.8h1.5M937.5 554.8h1.5M940.5 554.8h1.5M945 554.8h9M955.5 554.8h1.5M958.5 554.8h1.5M969 554.8h1.5M981 554.8h1.5M1008 554.8h3M1014 554.8h1.5M879 406.3v1.5M879 409.3v1.5M879 412.3v1.5M879 415.3v3M879 431.8v7.5M879 443.8v1.5M879 460.3v1.5M879 470.8v3M879 484.3v1.5M879 487.3v1.5M879 499.3v1.5M879 508.3v1.5M879 520.3v1.5M879 527.8v6M879 539.8v1.5M879 548.8v1.5M885 406.3v1.5M885 409.3v3M885 413.8v1.5M885 425.8v1.5M885 442.3v1.5M885 451.3v3M885 458.8v1.5M885 464.8v1.5M885 467.8v1.5M885 470.8v6M885 478.3v1.5M885 484.3v1.5M885 487.3v6M885 494.8v1.5M885 499.3v3M885 529.3v1.5M885 554.8v0.7M888 406.3v3M888 412.3v3M888 430.3v3M888 437.8v1.5M888 440.8v3M888 446.8v3M888 463.3v1.5M888 467.8v10.5M888 484.3v4.5M888 491.8v4.5M888 503.8v6M888 523.3v1.5M888 527.8v1.5M889.5 406.3v1.5M889.5 409.3v3M889.5 415.3v1.5M889.5 418.3v1.5M889.5 422.8v1.5M889.5 428.8v1.5M889.5 443.8v1.5M889.5 449.8v3M889.5 464.8v18M889.5 488.8v3M889.5 500.8v3M889.5 530.8v1.5M889.5 539.8v1.5M897 406.3v1.5M897 410.8v1.5M897 422.8v1.5M897 428.8v1.5M897 442.3v1.5M897 455.8v1.5M897 466.3v1.5M897 482.8v1.5M897 493.3v1.5M897 503.8v13.5M897 523.3v1.5M897 529.3v1.5M897 536.8v1.5M897 539.8v1.5M897 550.3v1.5M903 406.3v3M903 421.3v3M903 428.8v1.5M903 439.3v1.5M903 455.8v1.5M903 460.3v1.5M903 481.3v1.5M903 491.8v1.5M903 502.3v1.5M903 514.3v7.5M903 547.3v1.5M906 406.3v3M906 425.8v1.5M906 431.8v1.5M906 439.3v1.5M906 451.3v1.5M906 458.8v1.5M906 466.3v3M906 475.3v3M906 497.8v1.5M906 506.8v3M906 517.3v6M910.5 406.3v4.5M910.5 419.8v3M910.5 424.3v3M910.5 455.8v1.5M910.5 475.3v3M910.5 506.8v3M910.5 511.3v1.5M910.5 514.3v3M910.5 538.3v1.5M910.5 541.3v1.5M910.5 551.8v1.5M913.5 406.3v4.5M913.5 415.3v3M913.5 433.3v9M913.5 463.3v4.5M913.5 493.3v15M913.5 511.3v3M913.5 515.8v4.5M913.5 523.3v1.5M913.5 542.8v1.5M913.5 547.3v1.5M915 406.3v3M915 410.8v3M915 418.3v1.5M915 431.8v1.5M915 442.3v1.5M915 454.3v1.5M915 470.8v1.5M915 508.3v3M915 514.3v3M915 520.3v1.5M915 532.3v1.5M915 535.3v1.5M915 544.3v3M916.5 406.3v1.5M916.5 409.3v3M916.5 413.8v1.5M916.5 430.3v1.5M916.5 434.8v6M916.5 448.3v1.5M916.5 511.3v3M916.5 517.3v1.5M916.5 523.3v1.5M916.5 526.3v1.5M916.5 551.8v1.5M919.5 406.3v3M919.5 410.8v1.5M919.5 413.8v1.5M919.5 421.3v1.5M919.5 428.8v1.5M919.5 490.3v3M919.5 506.8v4.5M919.5 517.3v1.5M919.5 521.8v1.5M919.5 526.3v3M919.5 541.3v3M919.5 548.8v3M939 406.3v9M939 416.8v1.5M939 421.3v1.5M939 424.3v1.5M939 469.3v6M939 496.3v3M939 515.8v3M939 521.8v1.5M939 524.8v1.5M939 533.8v1.5M939 538.3v1.5M939 542.8v9M939 554.8v0.7M942 406.3v3M942 410.8v3M942 415.3v3M942 419.8v1.5M942 422.8v1.5M942 427.3v1.5M942 464.8v3M942 470.8v1.5M942 508.3v1.5M942 520.3v1.5M942 523.3v1.5M942 535.3v1.5M942 538.3v1.5M942 542.8v10.5M942 554.8v0.7M943.5 406.3v9M943.5 416.8v3M943.5 421.3v1.5M943.5 425.8v1.5M943.5 461.8v3M943.5 466.3v1.5M943.5 469.3v1.5M943.5 478.3v3M943.5 526.3v1.5M943.5 533.8v1.5M943.5 536.8v1.5M943.5 541.3v1.5M943.5 544.3v11.2M945 406.3v1.5M945 409.3v7.5M945 418.3v3M945 422.8v3M945 460.3v1.5M945 463.3v6M945 476.8v1.5M945 481.3v3M945 539.8v1.5M945 542.8v1.5M945 545.8v6M945 553.3v1.5M948 406.3v3M948 416.8v3M948 422.8v7.5M948 458.8v6M948 473.8v1.5M948 479.8v1.5M948 487.3v3M948 494.8v1.5M948 515.8v4.5M948 523.3v1.5M948 542.8v1.5M948 545.8v3M948 550.3v3M972 406.3v1.5M972 416.8v1.5M972 419.8v6M972 428.8v1.5M972 431.8v1.5M972 434.8v1.5M972 439.3v1.5M972 445.3v3M972 449.8v4.5M972 457.3v7.5M972 472.3v1.5M972 476.8v1.5M972 485.8v3M972 491.8v1.5M972 503.8v7.5M972 512.8v3M972 517.3v3M972 521.8v19.5M972 542.8v12.7M981 406.3v6M981 427.3v1.5M981 445.3v4.5M981 451.3v10.5M981 463.3v6M981 470.8v3M981 475.3v21M981 499.3v3M981 505.3v1.5M981 529.3v3M981 535.3v3M981 542.8v1.5M981 547.3v7.5M982.5 406.3v3M982.5 418.3v1.5M982.5 434.8v1.5M982.5 442.3v3M982.5 448.3v3M982.5 452.8v4.5M982.5 460.3v3M982.5 469.3v3M982.5 473.8v18M982.5 496.3v3M982.5 502.3v3M982.5 506.8v3M982.5 518.8v1.5M982.5 538.3v3M982.5 544.3v3M982.5 554.8v0.7M990 406.3v1.5M990 427.3v13.5M990 448.3v1.5M990 451.3v3M990 457.3v6M990 470.8v1.5M990 484.3v7.5M990 494.8v4.5M990 502.3v4.5M990 508.3v9M990 545.8v6M994.5 406.3v4.5M994.5 431.8v3M994.5 437.8v4.5M994.5 445.3v1.5M994.5 449.8v1.5M994.5 454.3v1.5M994.5 467.8v1.5M994.5 472.3v1.5M994.5 478.3v6M994.5 493.3v6M994.5 502.3v4.5M994.5 509.8v9M994.5 530.8v12M994.5 550.3v5.2M1003.5 406.3v1.5M1003.5 428.8v4.5M1003.5 434.8v3M1003.5 448.3v1.5M1003.5 452.8v1.5M1003.5 464.8v1.5M1003.5 467.8v1.5M1003.5 470.8v1.5M1003.5 475.3v1.5M1003.5 482.8v4.5M1003.5 488.8v3M1003.5 500.8v1.5M1003.5 503.8v1.5M1003.5 509.8v3M1003.5 524.8v3M1003.5 529.3v10.5M1003.5 541.3v3M1003.5 553.3v2.2M1011 406.3v1.5M1011 412.3v3M1011 416.8v1.5M1011 421.3v1.5M1011 433.3v1.5M1011 437.8v15M1011 455.8v1.5M1011 472.3v1.5M1011 476.8v3M1011 499.3v1.5M1011 526.3v1.5M1011 533.8v3M1011 542.8v1.5M1011 545.8v1.5M1011 554.8v0.7M880.5 407.8v1.5M880.5 428.8v3M880.5 439.3v1.5M880.5 443.8v3M880.5 464.8v1.5M880.5 469.3v1.5M880.5 484.3v1.5M880.5 506.8v1.5M880.5 509.8v1.5M880.5 524.8v3M880.5 533.8v1.5M880.5 554.8v0.7M883.5 407.8v1.5M883.5 412.3v1.5M883.5 416.8v3M883.5 421.3v1.5M883.5 437.8v1.5M883.5 448.3v3M883.5 470.8v1.5M883.5 476.8v1.5M883.5 479.8v4.5M883.5 485.8v1.5M883.5 488.8v3M883.5 493.3v1.5M883.5 496.3v1.5M883.5 502.3v3M883.5 523.3v1.5M886.5 407.8v6M886.5 415.3v3M886.5 419.8v1.5M886.5 424.3v1.5M886.5 436.3v1.5M886.5 439.3v3M886.5 443.8v3M886.5 454.3v4.5M886.5 466.3v1.5M886.5 469.3v15M886.5 485.8v9M886.5 496.3v3M886.5 509.8v1.5M886.5 518.8v1.5M886.5 527.8v1.5M886.5 530.8v1.5M891 407.8v3M891 413.8v1.5M891 433.3v1.5M891 437.8v1.5M891 452.8v3M891 466.3v13.5M891 482.8v3M891 499.3v1.5M891 520.3v1.5M891 529.3v1.5M891 535.3v1.5M895.5 407.8v3M895.5 413.8v1.5M895.5 416.8v1.5M895.5 421.3v1.5M895.5 427.3v1.5M895.5 437.8v1.5M895.5 440.8v1.5M895.5 457.3v1.5M895.5 461.8v1.5M895.5 464.8v1.5M895.5 494.8v1.5M895.5 499.3v3M895.5 518.8v3M895.5 541.3v1.5M918 407.8v3M918 412.3v1.5M918 415.3v1.5M918 419.8v1.5M918 443.8v1.5M918 454.3v1.5M918 469.3v1.5M918 493.3v13.5M918 514.3v3M918 518.8v1.5M918 523.3v1.5M918 527.8v1.5M918 539.8v1.5M930 407.8v1.5M930 410.8v1.5M930 413.8v3M930 418.3v3M930 454.3v1.5M930 494.8v6M930 505.3v1.5M930 508.3v4.5M930 530.8v1.5M930 551.8v3M940.5 407.8v3M940.5 413.8v3M940.5 418.3v1.5M940.5 428.8v1.5M940.5 493.3v3M940.5 511.3v1.5M940.5 514.3v1.5M940.5 518.8v1.5M940.5 530.8v3M940.5 536.8v1.5M940.5 539.8v3M940.5 551.8v3M946.5 407.8v10.5M946.5 419.8v3M946.5 458.8v7.5M946.5 475.3v1.5M946.5 484.3v3M946.5 493.3v1.5M946.5 511.3v1.5M946.5 514.3v1.5M946.5 520.3v1.5M946.5 535.3v1.5M946.5 538.3v1.5M946.5 541.3v1.5M946.5 544.3v1.5M946.5 548.8v1.5M946.5 551.8v3.7M970.5 407.8v1.5M970.5 413.8v3M970.5 422.8v6M970.5 443.8v1.5M970.5 446.8v3M970.5 454.3v4.5M970.5 464.8v7.5M970.5 475.3v1.5M970.5 478.3v6M970.5 496.3v1.5M970.5 500.8v3M970.5 508.3v4.5M970.5 514.3v3M970.5 518.8v3M970.5 523.3v9M970.5 533.8v3M970.5 538.3v4.5M970.5 544.3v10.5M979.5 407.8v6M979.5 449.8v10.5M979.5 461.8v13.5M979.5 476.8v12M979.5 496.3v3M979.5 518.8v1.5M979.5 524.8v4.5M979.5 533.8v1.5M979.5 538.3v4.5M979.5 544.3v11.2M991.5 407.8v6M991.5 418.3v9M991.5 440.8v3M991.5 445.3v1.5M991.5 449.8v1.5M991.5 454.3v3M991.5 463.3v1.5M991.5 469.3v1.5M991.5 475.3v10.5M991.5 491.8v6M991.5 499.3v4.5M991.5 506.8v6M991.5 517.3v25.5M991.5 551.8v3.7M1002 407.8v1.5M1002 419.8v9M1002 431.8v3M1002 448.3v1.5M1002 472.3v1.5M1002 476.8v6M1002 491.8v3M1002 497.8v3M1002 502.3v1.5M1002 506.8v3M1002 527.8v7.5M1002 536.8v4.5M1002 545.8v7.5M1009.5 407.8v4.5M1009.5 415.3v1.5M1009.5 419.8v1.5M1009.5 436.3v1.5M1009.5 446.8v3M1009.5 452.8v1.5M1009.5 466.3v1.5M1009.5 470.8v1.5M1009.5 473.8v1.5M1009.5 484.3v1.5M1009.5 494.8v1.5M1009.5 508.3v1.5M1009.5 532.3v9M898.5 409.3v1.5M898.5 412.3v1.5M898.5 415.3v1.5M898.5 424.3v1.5M898.5 430.3v1.5M898.5 452.8v3M898.5 460.3v1.5M898.5 463.3v1.5M898.5 497.8v1.5M898.5 502.3v1.5M898.5 517.3v1.5M898.5 521.8v1.5M898.5 526.3v3M901.5 409.3v4.5M901.5 415.3v1.5M901.5 419.8v1.5M901.5 427.3v1.5M901.5 446.8v3M901.5 457.3v1.5M901.5 461.8v1.5M901.5 482.8v1.5M901.5 521.8v3M901.5 542.8v1.5M904.5 409.3v6M904.5 424.3v1.5M904.5 430.3v1.5M904.5 452.8v3M904.5 464.8v1.5M904.5 478.3v3M904.5 487.3v1.5M904.5 503.8v3M904.5 512.8v1.5M904.5 523.3v4.5M904.5 538.3v1.5M904.5 541.3v1.5M907.5 409.3v10.5M907.5 433.3v1.5M907.5 436.3v3M907.5 461.8v4.5M907.5 469.3v6M907.5 484.3v3M907.5 499.3v3M907.5 509.8v1.5M907.5 512.8v1.5M907.5 524.8v3M907.5 554.8v0.7M921 409.3v1.5M921 412.3v1.5M921 416.8v1.5M921 422.8v1.5M921 439.3v1.5M921 443.8v1.5M921 455.8v1.5M921 467.8v1.5M921 488.8v1.5M921 494.8v7.5M921 511.3v3M921 520.3v1.5M921 529.3v1.5M921 544.3v4.5M928.5 409.3v1.5M928.5 412.3v1.5M928.5 416.8v1.5M928.5 421.3v3M928.5 452.8v1.5M928.5 493.3v1.5M928.5 500.8v3M928.5 506.8v1.5M928.5 526.3v4.5M928.5 548.8v3M934.5 409.3v3M934.5 415.3v1.5M934.5 419.8v1.5M934.5 461.8v1.5M934.5 479.8v1.5M934.5 491.8v4.5M934.5 511.3v1.5M934.5 535.3v1.5M934.5 541.3v7.5M936 409.3v1.5M936 463.3v1.5M936 476.8v3M936 509.8v1.5M936 514.3v6M936 523.3v1.5M936 539.8v1.5M936 548.8v4.5M949.5 409.3v7.5M949.5 419.8v3M949.5 430.3v1.5M949.5 455.8v6M949.5 464.8v9M949.5 475.3v4.5M949.5 481.3v6M949.5 490.3v4.5M949.5 496.3v4.5M949.5 508.3v1.5M949.5 512.8v1.5M949.5 520.3v3M949.5 539.8v1.5M949.5 548.8v1.5M949.5 553.3v2.2M969 409.3v4.5M969 424.3v6M969 442.3v1.5M969 448.3v9M969 458.8v3M969 473.8v1.5M969 476.8v1.5M969 484.3v1.5M969 499.3v1.5M969 503.8v4.5M969 509.8v9M969 520.3v18M969 539.8v4.5M969 547.3v4.5M969 554.8v0.7M978 409.3v7.5M978 425.8v1.5M978 434.8v1.5M978 440.8v15M978 460.3v10.5M978 472.3v4.5M978 481.3v4.5M978 488.8v7.5M978 503.8v1.5M978 515.8v3M978 521.8v3M978 529.3v4.5M978 535.3v3M978 539.8v15.7M999 409.3v1.5M999 416.8v4.5M999 424.3v4.5M999 433.3v1.5M999 440.8v1.5M999 458.8v1.5M999 464.8v1.5M999 467.8v1.5M999 470.8v3M999 475.3v3M999 481.3v4.5M999 488.8v12M999 502.3v3M999 508.3v4.5M999 530.8v9M999 545.8v7.5M892.5 410.8v3M892.5 416.8v1.5M892.5 421.3v1.5M892.5 427.3v1.5M892.5 436.3v1.5M892.5 440.8v4.5M892.5 455.8v3M892.5 464.8v1.5M892.5 467.8v1.5M892.5 470.8v3M892.5 479.8v1.5M892.5 485.8v3M892.5 497.8v1.5M892.5 538.3v1.5M892.5 544.3v4.5M892.5 554.8v0.7M894 410.8v3M894 439.3v1.5M894 463.3v1.5M894 466.3v4.5M894 481.3v1.5M894 496.3v1.5M894 502.3v16.5M894 542.8v1.5M894 548.8v1.5M912 410.8v4.5M912 422.8v1.5M912 448.3v1.5M912 461.8v1.5M912 472.3v3M912 491.8v1.5M912 509.8v1.5M912 512.8v3M912 517.3v6M922.5 410.8v1.5M922.5 424.3v4.5M922.5 434.8v4.5M922.5 457.3v1.5M922.5 466.3v1.5M922.5 487.3v1.5M922.5 493.3v1.5M922.5 502.3v1.5M922.5 518.8v1.5M922.5 523.3v6M922.5 530.8v1.5M937.5 410.8v1.5M937.5 415.3v1.5M937.5 419.8v1.5M937.5 464.8v4.5M937.5 472.3v4.5M937.5 499.3v7.5M937.5 508.3v1.5M937.5 512.8v1.5M937.5 520.3v1.5M937.5 535.3v1.5M937.5 553.3v1.5M996 410.8v1.5M996 442.3v1.5M996 446.8v1.5M996 451.3v1.5M996 463.3v1.5M996 470.8v1.5M996 475.3v3M996 484.3v13.5M996 499.3v4.5M996 506.8v6M996 518.8v18M996 542.8v9M997.5 410.8v1.5M997.5 421.3v3M997.5 431.8v1.5M997.5 442.3v1.5M997.5 460.3v3M997.5 466.3v1.5M997.5 469.3v1.5M997.5 473.8v1.5M997.5 478.3v3M997.5 497.8v4.5M997.5 503.8v4.5M997.5 512.8v18M997.5 536.8v9M997.5 551.8v3.7M1014 410.8v3M1014 415.3v3M1014 451.3v3M1014 466.3v1.5M1014 469.3v3M1014 473.8v1.5M1014 503.8v1.5M1014 521.8v1.5M1014 524.8v1.5M1014 527.8v7.5M1014 536.8v3M1014 554.8v0.7M931.5 412.3v1.5M931.5 415.3v4.5M931.5 421.3v1.5M931.5 424.3v1.5M931.5 455.8v4.5M931.5 473.8v1.5M931.5 478.3v1.5M931.5 487.3v1.5M931.5 502.3v3M931.5 506.8v1.5M931.5 521.8v1.5M931.5 532.3v1.5M931.5 554.8v0.7M976.5 412.3v13.5M976.5 439.3v1.5M976.5 455.8v9M976.5 467.8v4.5M976.5 473.8v7.5M976.5 485.8v6M976.5 503.8v1.5M976.5 512.8v3M976.5 518.8v3M976.5 524.8v4.5M976.5 532.3v23.2M927 413.8v1.5M927 419.8v1.5M927 430.3v10.5M927 451.3v1.5M927 491.8v1.5M927 508.3v6M927 520.3v1.5M927 524.8v1.5M927 544.3v4.5M933 413.8v1.5M933 416.8v1.5M933 460.3v1.5M933 479.8v1.5M933 488.8v3M933 496.3v6M933 533.8v1.5M954 413.8v1.5M954 419.8v1.5M954 425.8v1.5M954 448.3v6M954 457.3v43.5M954 502.3v9M954 524.8v1.5M954 529.3v1.5M954 533.8v1.5M954 544.3v1.5M954 553.3v1.5M958.5 413.8v1.5M958.5 424.3v1.5M958.5 440.8v54M958.5 496.3v1.5M958.5 499.3v1.5M958.5 502.3v1.5M958.5 508.3v3M958.5 520.3v1.5M958.5 523.3v1.5M958.5 533.8v1.5M958.5 538.3v3M958.5 545.8v7.5M958.5 554.8v0.7M993 413.8v4.5M993 434.8v3M993 443.8v1.5M993 446.8v3M993 451.3v3M993 473.8v1.5M993 485.8v7.5M993 497.8v4.5M993 503.8v6M993 512.8v18M993 542.8v7.5M1012.5 413.8v3M1012.5 418.3v3M1012.5 454.3v1.5M1012.5 475.3v1.5M1012.5 484.3v1.5M1012.5 496.3v3M1012.5 523.3v1.5M1012.5 536.8v3M882 415.3v1.5M882 427.3v1.5M882 439.3v1.5M882 446.8v1.5M882 469.3v1.5M882 472.3v1.5M882 475.3v1.5M882 478.3v1.5M882 487.3v1.5M882 491.8v1.5M882 494.8v1.5M882 497.8v1.5M882 505.3v1.5M882 518.8v1.5M882 535.3v1.5M882 550.3v4.5M925.5 415.3v1.5M925.5 418.3v1.5M925.5 440.8v1.5M925.5 449.8v1.5M925.5 473.8v1.5M925.5 503.8v1.5M925.5 523.3v1.5M925.5 526.3v1.5M925.5 536.8v7.5M952.5 415.3v3M952.5 421.3v4.5M952.5 451.3v6M952.5 460.3v24M952.5 485.8v10.5M952.5 497.8v4.5M952.5 526.3v1.5M952.5 532.3v1.5M952.5 538.3v1.5M952.5 541.3v1.5M952.5 548.8v3M961.5 415.3v1.5M961.5 427.3v1.5M961.5 436.3v9M961.5 446.8v10.5M961.5 458.8v4.5M961.5 472.3v1.5M961.5 475.3v3M961.5 481.3v7.5M961.5 490.3v1.5M961.5 493.3v4.5M961.5 499.3v1.5M961.5 502.3v1.5M961.5 506.8v3M961.5 512.8v4.5M961.5 532.3v1.5M961.5 535.3v1.5M961.5 538.3v4.5M961.5 553.3v2.2M975 415.3v6M975 443.8v19.5M975 464.8v3M975 470.8v3M975 475.3v13.5M975 491.8v4.5M975 505.3v7.5M975 515.8v3M975 520.3v4.5M975 526.3v9M975 536.8v3M975 541.3v14.2M1000.5 415.3v1.5M1000.5 428.8v3M1000.5 434.8v6M1000.5 461.8v3M1000.5 466.3v1.5M1000.5 469.3v1.5M1000.5 473.8v1.5M1000.5 485.8v3M1000.5 494.8v3M1000.5 500.8v1.5M1000.5 505.3v1.5M1000.5 512.8v24M1000.5 539.8v6M1000.5 553.3v2.2M1005 415.3v1.5M1005 421.3v10.5M1005 433.3v3M1005 437.8v10.5M1005 452.8v1.5M1005 460.3v1.5M1005 473.8v1.5M1005 478.3v3M1005 487.3v1.5M1005 496.3v1.5M1005 502.3v1.5M1005 505.3v1.5M1005 512.8v3M1005 523.3v1.5M1005 527.8v1.5M1005 530.8v7.5M1005 539.8v1.5M1005 544.3v4.5M963 416.8v3M963 424.3v3M963 434.8v7.5M963 443.8v16.5M963 463.3v9M963 473.8v1.5M963 476.8v7.5M963 485.8v1.5M963 488.8v1.5M963 491.8v3M963 497.8v1.5M963 500.8v1.5M963 503.8v1.5M963 509.8v1.5M963 533.8v1.5M963 536.8v3M963 542.8v10.5M973.5 416.8v7.5M973.5 430.3v1.5M973.5 437.8v1.5M973.5 440.8v3M973.5 448.3v9M973.5 463.3v7.5M973.5 473.8v1.5M973.5 478.3v7.5M973.5 488.8v3M973.5 496.3v1.5M973.5 511.3v44.2M900 418.3v1.5M900 425.8v1.5M900 431.8v3M900 443.8v3M900 449.8v3M900 458.8v1.5M900 464.8v1.5M900 518.8v3M900 524.8v1.5M900 530.8v1.5M900 544.3v3M900 554.8v0.7M951 418.3v1.5M951 452.8v7.5M951 461.8v6M951 470.8v4.5M951 476.8v9M951 487.3v4.5M951 494.8v3M951 500.8v7.5M951 514.3v6M951 536.8v1.5M951 544.3v1.5M951 550.3v1.5M1008 418.3v1.5M1008 422.8v10.5M1008 434.8v1.5M1008 439.3v7.5M1008 449.8v3M1008 454.3v1.5M1008 482.8v1.5M1008 494.8v1.5M1008 499.3v1.5M1008 503.8v1.5M1008 530.8v1.5M1008 535.3v4.5M1008 541.3v1.5M1008 544.3v1.5M1008 551.8v3M960 419.8v4.5M960 428.8v1.5M960 439.3v54M960 494.8v1.5M960 497.8v1.5M960 500.8v1.5M960 503.8v3M960 511.3v1.5M960 517.3v3M960 521.8v1.5M960 536.8v1.5M960 541.3v13.5M964.5 419.8v4.5M964.5 431.8v6M964.5 439.3v1.5M964.5 445.3v1.5M964.5 449.8v4.5M964.5 460.3v3M964.5 487.3v1.5M964.5 490.3v1.5M964.5 496.3v1.5M964.5 499.3v1.5M964.5 502.3v1.5M964.5 505.3v3M964.5 511.3v3M964.5 521.8v1.5M964.5 529.3v1.5M964.5 535.3v3M964.5 539.8v4.5M964.5 553.3v2.2M984 419.8v9M984 436.3v6M984 446.8v1.5M984 449.8v3M984 457.3v3M984 464.8v3M984 472.3v13.5M984 491.8v4.5M984 499.3v3M984 505.3v1.5M984 509.8v9M984 530.8v1.5M984 541.3v3M984 548.8v4.5M957 425.8v1.5M957 430.3v1.5M957 443.8v46.5M957 491.8v10.5M957 503.8v4.5M957 514.3v9M957 542.8v3M957 548.8v1.5M957 553.3v1.5M967.5 427.3v6M967.5 445.3v1.5M967.5 449.8v4.5M967.5 461.8v1.5M967.5 497.8v1.5M967.5 502.3v1.5M967.5 505.3v4.5M967.5 511.3v3M967.5 517.3v3M967.5 521.8v1.5M967.5 524.8v1.5M967.5 527.8v6M967.5 535.3v4.5M967.5 541.3v6M967.5 551.8v3.7M966 430.3v6M966 442.3v1.5M966 484.3v1.5M966 491.8v1.5M966 494.8v1.5M966 500.8v1.5M966 503.8v1.5M966 508.3v3M966 514.3v3M966 526.3v1.5M966 530.8v4.5M966 538.3v3M966 544.3v9M1006.5 431.8v3M1006.5 436.3v3M1006.5 457.3v1.5M1006.5 469.3v1.5M1006.5 472.3v1.5M1006.5 475.3v3M1006.5 481.3v1.5M1006.5 497.8v1.5M1006.5 506.8v1.5M1006.5 515.8v7.5M1006.5 526.3v1.5M1006.5 529.3v1.5M1006.5 532.3v12M1006.5 548.8v3M909 434.8v1.5M909 449.8v1.5M909 457.3v1.5M909 466.3v1.5M909 478.3v6M909 502.3v4.5M909 517.3v7.5M909 530.8v1.5M909 533.8v1.5M924 442.3v1.5M924 458.8v7.5M924 475.3v3M924 491.8v1.5M924 503.8v1.5M924 521.8v1.5M924 524.8v1.5M924 527.8v3M924 535.3v1.5M987 443.8v1.5M987 446.8v1.5M987 449.8v1.5M987 458.8v4.5M987 481.3v9M987 493.3v4.5M987 499.3v4.5M987 505.3v4.5M987 511.3v10.5M987 550.3v3M988.5 443.8v1.5M988.5 446.8v1.5M988.5 449.8v1.5M988.5 472.3v12M988.5 490.3v4.5M988.5 497.8v4.5M988.5 503.8v4.5M988.5 509.8v36M955.5 445.3v54M955.5 500.8v3M955.5 511.3v3M955.5 524.8v1.5M955.5 541.3v1.5M955.5 545.8v3M955.5 550.3v3M955.5 554.8v0.7M985.5 445.3v1.5M985.5 448.3v1.5M985.5 451.3v7.5M985.5 463.3v1.5M985.5 467.8v13.5M985.5 485.8v7.5M985.5 496.3v3M985.5 502.3v3M985.5 506.8v4.5M985.5 521.8v9M985.5 548.8v1.5" stroke="#1a3040" stroke-width="0.45" stroke-opacity="0.7" fill="none"/>
<rect x="874.4" y="526.3" width="59" height="29.5" fill="#ffffff" stroke="#e0b0c0" stroke-width="0.5"/>
<rect x="884" y="510.6" width="28" height="45" fill="#ffffff" stroke="#c0c0c0" stroke-width="0.4"/>
<defs><linearGradient id="cb" x1="0" y1="0" x2="0" y2="1"><stop offset="0" stop-color="#f0a020"/><stop offset="0.2" stop-color="#e8e020"/><stop offset="0.4" stop-color="#50e050"/><stop offset="0.6" stop-color="#40d8f0"/><stop offset="0.8" stop-color="#2040e0"/><stop offset="1" stop-color="#c020e0"/></linearGradient></defs>
<rect x="884.9" y="514.6" width="4.7" height="42" fill="url(#cb)"/>
<line x1="890.5" y1="516.0" x2="895" y2="516.0" stroke="#999" stroke-width="0.6"/>
<line x1="890.5" y1="519.4" x2="895" y2="519.4" stroke="#999" stroke-width="0.6"/>
<line x1="890.5" y1="522.8" x2="895" y2="522.8" stroke="#999" stroke-width="0.6"/>
<line x1="890.5" y1="526.2" x2="895" y2="526.2" stroke="#999" stroke-width="0.6"/>
<line x1="890.5" y1="529.6" x2="895" y2="529.6" stroke="#999" stroke-width="0.6"/>
<line x1="890.5" y1="533.0" x2="895" y2="533.0" stroke="#999" stroke-width="0.6"/>
<line x1="890.5" y1="536.4" x2="895" y2="536.4" stroke="#999" stroke-width="0.6"/>
<line x1="890.5" y1="539.8" x2="895" y2="539.8" stroke="#999" stroke-width="0.6"/>
<line x1="890.5" y1="543.2" x2="895" y2="543.2" stroke="#999" stroke-width="0.6"/>
<line x1="890.5" y1="546.6" x2="895" y2="546.6" stroke="#999" stroke-width="0.6"/>
<line x1="890.5" y1="550.0" x2="895" y2="550.0" stroke="#999" stroke-width="0.6"/>
<line x1="890.5" y1="553.4" x2="895" y2="553.4" stroke="#999" stroke-width="0.6"/>
<line x1="885" y1="512.2" x2="905" y2="512.2" stroke="#888" stroke-width="0.8"/>
<line x1="933" y1="546.7" x2="1015" y2="546.7" stroke="#222" stroke-width="0.6"/>
<line x1="976.8" y1="406.5" x2="903.4" y2="523.0" stroke="#1a2a3a" stroke-width="0.7"/>
<line x1="981.8" y1="406.5" x2="908.4" y2="523.0" stroke="#1a2a3a" stroke-width="0.7"/>
<path d="M975.6 410.5L980.6 406.5M972.7 415.0L977.7 411.0M969.9 419.5L974.9 415.5M967.0 424.0L972.0 420.0M964.2 428.5L969.2 424.5M961.4 433.0L966.4 429.0M958.5 437.5L963.5 433.5M955.7 442.0L960.7 438.0M952.9 446.5L957.9 442.5M950.0 451.0L955.0 447.0M947.2 455.5L952.2 451.5M944.4 460.0L949.4 456.0M941.5 464.5L946.5 460.5M938.7 469.0L943.7 465.0M935.9 473.5L940.9 469.5M933.0 478.0L938.0 474.0M930.2 482.5L935.2 478.5M927.4 487.0L932.4 483.0M924.5 491.5L929.5 487.5M921.7 496.0L926.7 492.0M918.9 500.5L923.9 496.5M916.0 505.0L921.0 501.0M913.2 509.5L918.2 505.5M910.4 514.0L915.4 510.0M907.5 518.5L912.5 514.5M904.7 523.0L909.7 519.0" stroke="#1a2a3a" stroke-width="0.5" fill="none"/>
<polyline points="897,410 903,440 912,470 916,500" fill="none" stroke="#1a2a3a" stroke-width="0.4"/>
<circle cx="968.7" cy="478.6" r="0.9" fill="#111"/>
<line x1="969.7" y1="478.6" x2="976.7" y2="479.2" stroke="#222" stroke-width="0.6"/>
<circle cx="972.2" cy="486.6" r="0.9" fill="#111"/>
<line x1="973.2" y1="486.6" x2="976.3" y2="486.5" stroke="#222" stroke-width="0.6"/>
<circle cx="978.3" cy="474.6" r="0.9" fill="#111"/>
<line x1="979.3" y1="474.6" x2="986.8" y2="474.1" stroke="#222" stroke-width="0.6"/>
<circle cx="964.1" cy="456.8" r="0.9" fill="#111"/>
<line x1="965.1" y1="456.8" x2="970.8" y2="456.9" stroke="#222" stroke-width="0.6"/>
<circle cx="958.4" cy="486.3" r="0.9" fill="#111"/>
<line x1="959.4" y1="486.3" x2="966.2" y2="485.9" stroke="#222" stroke-width="0.6"/>
<circle cx="973.9" cy="452.1" r="0.9" fill="#111"/>
<line x1="974.9" y1="452.1" x2="981.0" y2="451.7" stroke="#222" stroke-width="0.6"/>
<circle cx="950.1" cy="484.3" r="0.9" fill="#111"/>
<line x1="951.1" y1="484.3" x2="955.1" y2="484.0" stroke="#222" stroke-width="0.6"/>
<circle cx="979.5" cy="484.4" r="0.9" fill="#111"/>
<line x1="980.5" y1="484.4" x2="984.9" y2="484.9" stroke="#222" stroke-width="0.6"/>
<circle cx="966.2" cy="475.8" r="0.9" fill="#111"/>
<line x1="967.2" y1="475.8" x2="971.2" y2="476.4" stroke="#222" stroke-width="0.6"/>
<circle cx="970.7" cy="488.5" r="0.9" fill="#111"/>
<line x1="971.7" y1="488.5" x2="979.2" y2="488.3" stroke="#222" stroke-width="0.6"/>
<circle cx="960.8" cy="453.3" r="0.9" fill="#111"/>
<line x1="961.8" y1="453.3" x2="965.6" y2="452.8" stroke="#222" stroke-width="0.6"/>
<circle cx="959.0" cy="472.5" r="0.9" fill="#111"/>
<line x1="960.0" y1="472.5" x2="963.1" y2="472.8" stroke="#222" stroke-width="0.6"/>
<circle cx="960.1" cy="459.6" r="0.9" fill="#111"/>
<line x1="961.1" y1="459.6" x2="968.2" y2="459.6" stroke="#222" stroke-width="0.6"/>
<circle cx="959.5" cy="467.2" r="0.9" fill="#111"/>
<line x1="960.5" y1="467.2" x2="967.0" y2="466.6" stroke="#222" stroke-width="0.6"/>
<circle cx="979.3" cy="447.0" r="0.9" fill="#111"/>
<line x1="980.3" y1="447.0" x2="987.0" y2="447.4" stroke="#222" stroke-width="0.6"/>
<circle cx="950.5" cy="480.7" r="0.9" fill="#111"/>
<line x1="951.5" y1="480.7" x2="956.4" y2="480.8" stroke="#222" stroke-width="0.6"/>
<circle cx="955.4" cy="488.0" r="0.9" fill="#111"/>
<line x1="956.4" y1="488.0" x2="960.4" y2="488.3" stroke="#222" stroke-width="0.6"/>
<circle cx="977.9" cy="487.4" r="0.9" fill="#111"/>
<line x1="978.9" y1="487.4" x2="983.6" y2="487.3" stroke="#222" stroke-width="0.6"/>
<circle cx="965.7" cy="480.1" r="0.9" fill="#111"/>
<line x1="966.7" y1="480.1" x2="970.3" y2="480.4" stroke="#222" stroke-width="0.6"/>
<circle cx="973.9" cy="483.8" r="0.9" fill="#111"/>
<line x1="974.9" y1="483.8" x2="978.1" y2="484.4" stroke="#222" stroke-width="0.6"/>
<circle cx="952.7" cy="461.0" r="0.9" fill="#111"/>
<line x1="953.7" y1="461.0" x2="959.8" y2="461.5" stroke="#222" stroke-width="0.6"/>
<circle cx="960.2" cy="486.7" r="0.9" fill="#111"/>
<line x1="961.2" y1="486.7" x2="966.9" y2="486.4" stroke="#222" stroke-width="0.6"/>
<circle cx="959.5" cy="453.8" r="0.9" fill="#111"/>
<line x1="960.5" y1="453.8" x2="963.9" y2="453.4" stroke="#222" stroke-width="0.6"/>
<circle cx="970.7" cy="489.9" r="0.9" fill="#111"/>
<line x1="971.7" y1="489.9" x2="975.5" y2="489.3" stroke="#222" stroke-width="0.6"/>
<circle cx="961" cy="499" r="1.1" fill="#111"/>
<circle cx="975" cy="498" r="1.1" fill="#111"/>
<circle cx="1009" cy="503" r="1.1" fill="#111"/>
<circle cx="982" cy="518" r="1.1" fill="#111"/>
<circle cx="985" cy="549" r="1.1" fill="#111"/>
<circle cx="988" cy="514" r="1.1" fill="#111"/>
<circle cx="998" cy="454" r="1.1" fill="#111"/>
<polyline points="886.5,416.8 888.8,435.1 913.6,422.6 937.4,438.3 917.8,443.0 910.0,454.0 921.7,462.2 921.7,480.6" fill="none" stroke="#c81c18" stroke-width="2.6" stroke-linejoin="round"/>
<circle cx="886.5" cy="416.8" r="3.9" fill="#c81c18"/>
<circle cx="888.8" cy="435.1" r="3.9" fill="#c81c18"/>
<circle cx="913.6" cy="422.6" r="3.9" fill="#c81c18"/>
<circle cx="937.4" cy="438.3" r="3.9" fill="#c81c18"/>
<circle cx="917.8" cy="443.0" r="3.9" fill="#c81c18"/>
<circle cx="910.0" cy="454.0" r="3.9" fill="#c81c18"/>
<circle cx="921.7" cy="462.2" r="3.9" fill="#c81c18"/>
<circle cx="921.7" cy="480.6" r="3.9" fill="#c81c18"/>
<rect x="873" y="406.3" width="3" height="149" fill="#f4f0f0"/>
<line x1="873.5" y1="412.0" x2="875.5" y2="412.0" stroke="#999" stroke-width="0.6"/>
<line x1="873.5" y1="429.0" x2="875.5" y2="429.0" stroke="#999" stroke-width="0.6"/>
<line x1="873.5" y1="446.0" x2="875.5" y2="446.0" stroke="#999" stroke-width="0.6"/>
<line x1="873.5" y1="463.0" x2="875.5" y2="463.0" stroke="#999" stroke-width="0.6"/>
<line x1="873.5" y1="480.0" x2="875.5" y2="480.0" stroke="#999" stroke-width="0.6"/>
<line x1="873.5" y1="497.0" x2="875.5" y2="497.0" stroke="#999" stroke-width="0.6"/>
<line x1="873.5" y1="514.0" x2="875.5" y2="514.0" stroke="#999" stroke-width="0.6"/>
<line x1="873.5" y1="531.0" x2="875.5" y2="531.0" stroke="#999" stroke-width="0.6"/>
<line x1="873.5" y1="548.0" x2="875.5" y2="548.0" stroke="#999" stroke-width="0.6"/>
<line x1="880.0" y1="559.8" x2="886.0" y2="559.8" stroke="#aaa" stroke-width="0.8"/>
<line x1="894.5" y1="559.8" x2="900.5" y2="559.8" stroke="#aaa" stroke-width="0.8"/>
<line x1="909.0" y1="559.8" x2="915.0" y2="559.8" stroke="#aaa" stroke-width="0.8"/>
<line x1="923.5" y1="559.8" x2="929.5" y2="559.8" stroke="#aaa" stroke-width="0.8"/>
<line x1="938.0" y1="559.8" x2="944.0" y2="559.8" stroke="#aaa" stroke-width="0.8"/>
<line x1="952.5" y1="559.8" x2="958.5" y2="559.8" stroke="#aaa" stroke-width="0.8"/>
<line x1="967.0" y1="559.8" x2="973.0" y2="559.8" stroke="#aaa" stroke-width="0.8"/>
<line x1="981.5" y1="559.8" x2="987.5" y2="559.8" stroke="#aaa" stroke-width="0.8"/>
<line x1="996.0" y1="559.8" x2="1002.0" y2="559.8" stroke="#aaa" stroke-width="0.8"/>
<line x1="1010.5" y1="559.8" x2="1016.5" y2="559.8" stroke="#aaa" stroke-width="0.8"/>
<rect x="873.5" y="563" width="34" height="11" fill="#fff" stroke="#888" stroke-width="0.5"/>
<text x="876" y="568.5" font-size="4" fill="#333">Map</text>
<line x1="873.5" y1="569.5" x2="907.5" y2="569.5" stroke="#aaa" stroke-width="0.4"/>
<rect x="927.0" y="568.3" width="3.2" height="1.8" fill="#111"/>
<rect x="933.4" y="568.3" width="3.2" height="1.8" fill="#ddd"/>
<rect x="939.8" y="568.3" width="3.2" height="1.8" fill="#111"/>
<rect x="946.2" y="568.3" width="3.2" height="1.8" fill="#ddd"/>
<rect x="952.6" y="568.3" width="3.2" height="1.8" fill="#111"/>
<rect x="959.0" y="568.3" width="3.2" height="1.8" fill="#ddd"/>
<line x1="927" y1="565.2" x2="965" y2="565.2" stroke="#bbb" stroke-width="0.7" stroke-dasharray="2 2"/>
<rect x="1008" y="566" width="6" height="7" fill="#d8b888"/>
<rect x="869.8" y="403.8" width="149" height="170.5" fill="none" stroke="#d0d0d0" stroke-width="0.6"/></svg>
</body></html>
